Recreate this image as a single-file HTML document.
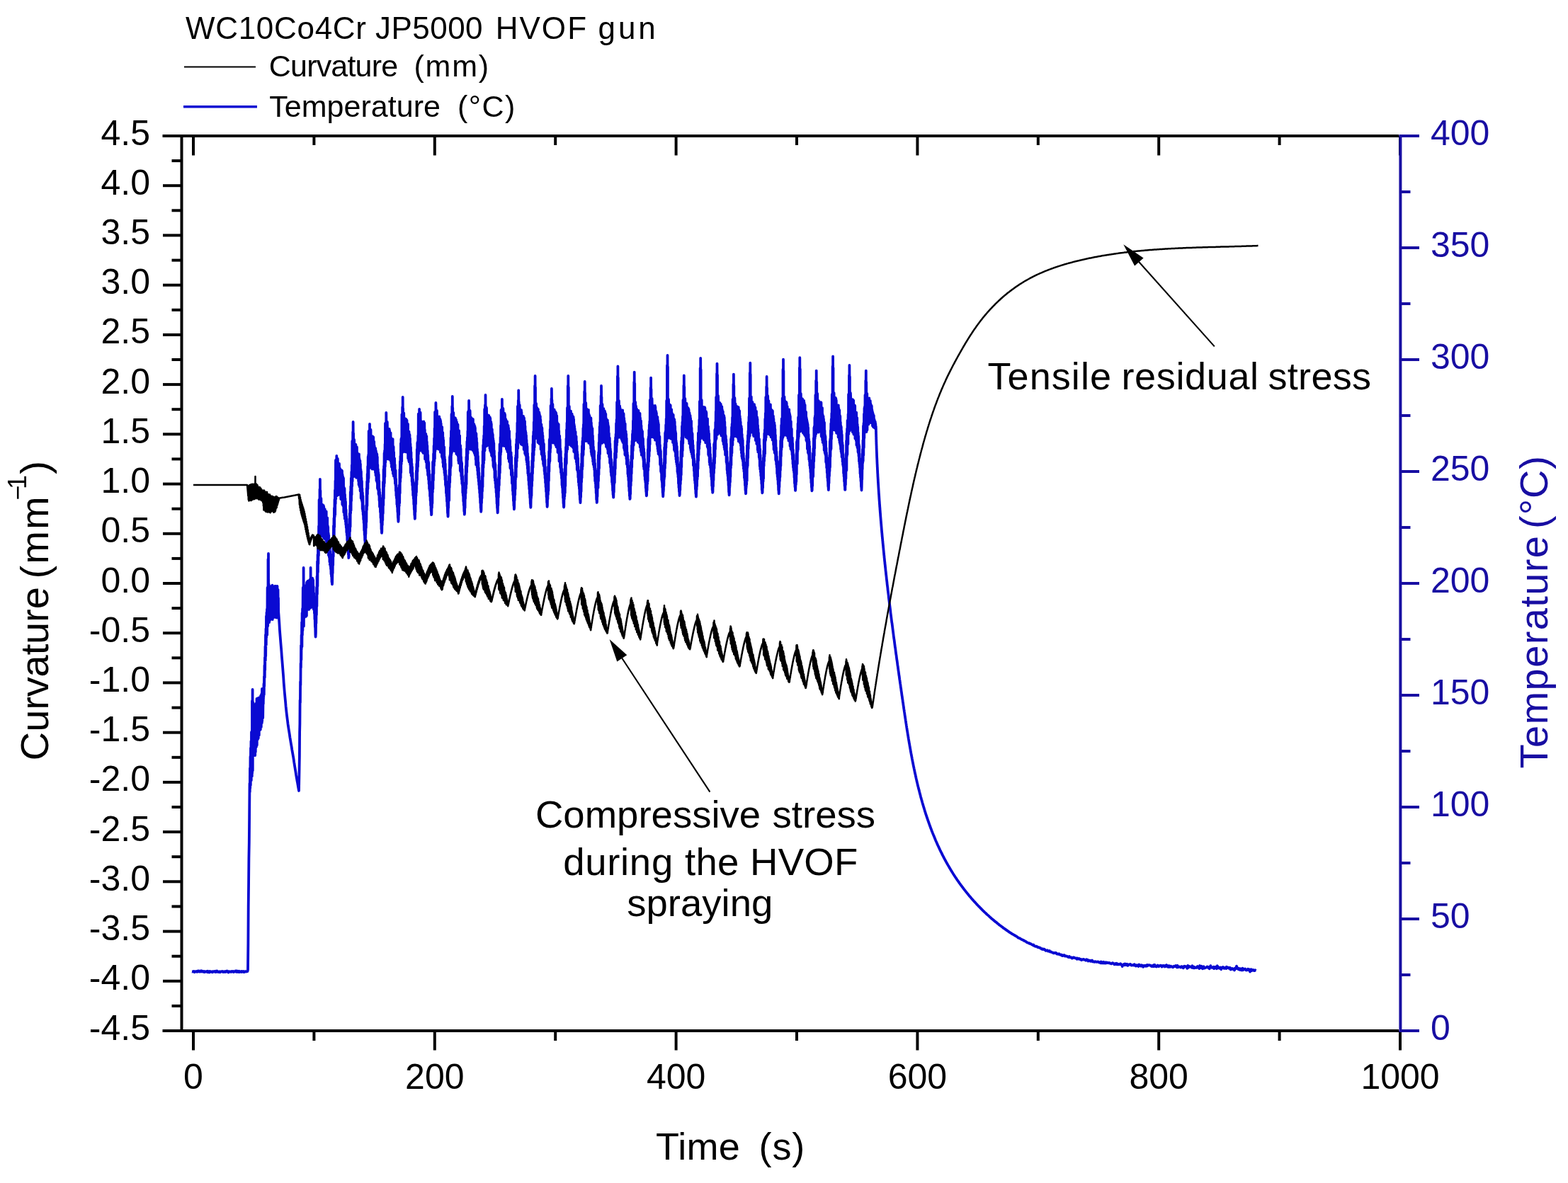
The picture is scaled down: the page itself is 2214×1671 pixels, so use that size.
<!DOCTYPE html>
<html><head><meta charset="utf-8"><title>WC10Co4Cr JP5000 HVOF gun</title>
<style>
html,body{margin:0;padding:0;background:#fff;}
body{width:2214px;height:1671px;overflow:hidden;}
svg{display:block;font-family:"Liberation Sans",Arial,sans-serif;}
</style></head><body>
<svg width="2214" height="1671" viewBox="0 0 2214 1671">
<rect width="2214" height="1671" fill="#fff"/>
<!-- data -->
<polyline fill="none" stroke="#0a0ad2" stroke-width="3.8" stroke-linejoin="round" points="271.0,1372.5 271.5,1372.6 272.0,1372.4 272.5,1372.1 273.0,1372.3 273.5,1372.0 274.0,1372.5 274.5,1373.2 275.0,1372.3 275.5,1372.2 276.0,1372.7 276.5,1372.7 277.0,1372.6 277.5,1372.0 278.0,1372.5 278.5,1372.8 279.0,1371.8 279.5,1372.3 280.0,1371.5 280.5,1371.9 281.0,1371.6 281.5,1372.4 282.0,1371.9 282.5,1372.6 283.0,1372.6 283.5,1372.4 284.0,1371.2 284.5,1372.2 285.0,1372.5 285.5,1372.6 286.0,1371.7 286.5,1372.3 287.0,1372.0 287.5,1372.1 288.0,1373.0 288.5,1372.1 289.0,1372.5 289.5,1372.9 290.0,1372.2 290.5,1372.4 291.0,1372.6 291.5,1372.5 292.0,1371.9 292.5,1372.5 293.0,1373.2 293.5,1371.7 294.0,1372.9 294.5,1372.6 295.0,1372.2 295.5,1373.5 296.0,1372.9 296.5,1371.9 297.0,1372.5 297.5,1372.8 298.0,1372.4 298.5,1372.8 299.0,1372.5 299.5,1372.8 300.0,1373.2 300.5,1372.2 301.0,1372.6 301.5,1372.3 302.0,1372.6 302.5,1371.9 303.0,1372.2 303.5,1372.4 304.0,1372.9 304.5,1373.1 305.0,1371.8 305.5,1372.1 306.0,1372.8 306.5,1371.5 307.0,1372.3 307.5,1372.5 308.0,1373.1 308.5,1372.8 309.0,1372.3 309.5,1372.3 310.0,1372.4 310.5,1373.3 311.0,1372.3 311.5,1372.3 312.0,1372.7 312.5,1372.4 313.0,1372.4 313.5,1371.9 314.0,1372.5 314.5,1372.3 315.0,1373.1 315.5,1372.8 316.0,1372.5 316.5,1372.8 317.0,1372.3 317.5,1373.0 318.0,1372.5 318.5,1372.8 319.0,1371.9 319.5,1372.7 320.0,1371.7 320.5,1371.5 321.0,1372.3 321.5,1372.1 322.0,1372.6 322.5,1373.6 323.0,1372.1 323.5,1372.2 324.0,1372.6 324.5,1372.7 325.0,1372.4 325.5,1372.4 326.0,1372.9 326.5,1372.8 327.0,1372.0 327.5,1372.5 328.0,1372.5 328.5,1372.0 329.0,1372.6 329.5,1372.1 330.0,1373.0 330.5,1372.6 331.0,1372.5 331.5,1372.2 332.0,1372.4 332.5,1371.5 333.0,1371.9 333.5,1372.7 334.0,1371.4 334.5,1372.9 335.0,1371.6 335.5,1372.9 336.0,1372.1 336.5,1372.9 337.0,1372.6 337.5,1371.7 338.0,1373.1 338.5,1373.2 339.0,1372.5 339.5,1372.4 340.0,1372.4 340.5,1372.0 341.0,1373.0 341.5,1372.2 342.0,1372.5 342.5,1372.1 343.0,1372.2 343.5,1371.9 344.0,1373.1 344.5,1372.4 345.0,1373.0 345.5,1372.5 346.0,1372.2 346.5,1372.3 347.0,1372.2 347.5,1372.5 348.0,1372.3 348.5,1372.4 349.0,1371.8 349.5,1372.1 350.0,1369.9 350.4,1332.6 350.7,1281.3 351.1,1246.7 351.4,1212.4 351.8,1190.2 352.1,1155.3 352.5,1106.5 352.8,1118.5 353.0,1085.0 353.2,1113.2 353.5,1068.7 353.8,1109.2 354.0,1056.5 354.2,1095.4 354.5,1046.8 354.8,1102.2 355.0,1034.0 355.2,1097.5 355.5,1039.6 355.8,1096.5 356.0,1021.5 356.0,990.0 356.2,1091.8 356.5,1020.1 356.6,974.0 356.8,1088.4 357.0,1022.8 357.2,992.0 357.2,1067.6 357.5,1017.3 357.8,1067.4 358.0,1006.9 358.2,1062.8 358.5,999.7 358.8,1057.7 359.0,998.5 359.2,1057.8 359.5,996.0 359.8,1052.9 360.0,1001.8 360.2,1067.0 360.5,996.9 360.8,1062.2 361.0,994.0 361.2,1056.3 361.5,1001.0 361.8,1053.2 362.0,1002.4 362.2,1054.4 362.5,986.8 362.8,1052.6 363.0,1000.1 363.2,1042.3 363.5,995.1 363.8,1036.6 364.0,989.7 364.2,1044.1 364.5,993.2 364.8,1042.4 365.0,985.7 365.2,1030.4 365.5,985.7 365.8,1038.6 366.0,992.5 366.2,1032.8 366.5,986.3 366.8,1031.5 367.0,992.4 367.2,1030.3 367.5,985.4 367.8,1030.4 368.0,982.9 368.2,1022.9 368.5,983.4 368.8,1027.1 369.0,981.1 369.2,1017.8 369.4,980.0 369.5,989.6 369.8,1021.2 370.0,987.0 370.0,973.0 370.2,1018.5 370.5,979.3 370.6,982.0 370.8,1015.0 371.0,985.4 371.2,1014.0 371.5,989.9 371.8,994.3 372.0,978.9 372.2,985.9 372.5,965.7 372.8,981.3 373.0,955.3 373.2,969.3 373.5,939.8 373.8,957.1 374.0,928.4 374.2,946.6 374.5,913.0 374.8,933.0 375.0,896.5 375.2,926.7 375.5,888.0 375.8,911.1 376.0,870.2 376.2,900.6 376.5,865.1 376.8,892.6 377.0,860.3 377.2,896.7 377.5,852.9 377.6,830.0 377.8,885.2 378.0,841.0 378.2,884.0 378.5,843.6 378.5,790.0 378.8,878.7 379.0,834.4 379.0,782.0 379.2,876.8 379.5,835.4 379.6,825.0 379.8,872.4 380.0,834.1 380.2,879.0 380.5,832.0 380.8,876.5 381.0,836.1 381.2,868.4 381.5,833.4 381.8,875.0 382.0,836.0 382.2,868.7 382.5,832.0 382.8,873.9 383.0,827.9 383.2,866.7 383.5,835.8 383.8,874.0 384.0,830.6 384.2,872.9 384.5,826.7 384.8,875.1 385.0,828.3 385.2,873.0 385.5,833.2 385.8,871.3 386.0,835.4 386.2,872.3 386.5,829.1 386.8,871.7 387.0,832.4 387.2,867.7 387.5,832.6 387.8,863.8 388.0,828.0 388.2,869.0 388.5,832.8 388.8,868.9 389.0,829.2 389.2,866.8 389.5,828.0 389.8,872.3 390.0,832.6 390.2,863.8 390.5,828.6 390.8,872.6 391.0,835.0 391.2,869.4 391.5,827.9 391.8,871.3 392.0,835.1 392.2,862.5 392.5,832.8 392.8,862.4 393.0,844.6 393.2,864.7 393.5,868.0 394.0,875.2 394.5,882.4 394.9,889.3 395.4,895.8 395.9,902.1 396.4,908.3 396.9,914.3 397.4,920.3 397.8,926.2 398.3,932.3 398.8,938.5 399.3,944.9 399.8,951.4 400.3,958.0 400.7,964.4 401.2,970.7 401.7,976.7 402.2,982.2 402.7,987.5 403.2,992.7 403.6,997.7 404.1,1002.5 404.6,1007.0 405.1,1011.3 405.6,1015.2 406.1,1019.0 406.5,1022.5 407.0,1025.9 407.5,1029.2 408.0,1032.3 408.5,1035.4 409.0,1038.4 409.4,1041.5 409.9,1044.5 410.4,1047.5 410.9,1050.5 411.4,1053.4 411.9,1056.2 412.3,1059.0 412.8,1061.8 413.3,1064.6 413.8,1067.5 414.3,1070.4 414.8,1073.4 415.2,1076.5 415.7,1079.6 416.2,1082.7 416.7,1085.8 417.2,1088.9 417.7,1091.9 418.1,1094.8 418.6,1097.7 419.1,1100.5 419.6,1103.3 420.1,1106.0 420.6,1108.8 421.0,1111.5 421.5,1114.2 422.0,1117.0 422.6,1085.5 422.9,1067.5 423.1,1035.0 423.4,1022.1 423.6,988.9 423.9,992.4 424.1,962.8 424.4,967.7 424.6,936.9 424.9,943.1 425.1,911.3 425.4,932.0 425.6,897.0 425.9,916.2 426.1,878.8 426.4,913.6 426.6,865.8 426.9,897.0 427.1,859.7 427.4,890.6 427.6,858.3 427.8,830.0 427.9,884.2 428.1,849.8 428.4,880.8 428.6,849.0 428.6,802.0 428.9,884.5 429.1,841.4 429.2,832.0 429.4,872.8 429.6,835.0 429.9,869.4 430.1,832.9 430.4,867.6 430.6,832.0 430.9,870.3 431.1,830.8 431.4,866.8 431.6,827.1 431.9,870.9 432.1,832.7 432.4,861.9 432.6,832.5 432.9,869.7 433.1,822.9 433.4,860.6 433.6,821.8 433.9,859.3 434.1,825.8 434.4,861.1 434.6,820.7 434.9,855.3 435.1,826.1 435.4,859.9 435.6,827.7 435.9,855.0 436.1,823.0 436.4,860.8 436.6,819.8 436.9,859.8 437.1,819.7 437.4,858.1 437.6,818.6 437.8,832.0 437.9,857.3 438.1,819.6 438.4,853.1 438.6,824.9 438.6,802.0 438.9,857.0 439.1,824.7 439.2,835.0 439.4,858.1 439.6,820.4 439.9,852.0 440.1,817.1 440.4,849.9 440.6,820.9 440.9,848.9 441.1,816.6 441.4,852.8 441.6,817.9 441.9,849.7 442.1,819.3 442.4,855.7 442.6,828.3 442.9,860.7 443.1,837.3 443.4,860.6 443.6,843.3 443.9,866.3 444.1,853.9 444.4,874.6 444.6,868.8 444.9,885.8 445.1,881.6 445.4,896.3 445.6,899.7 445.9,894.3 446.1,874.2 446.4,880.6 446.6,853.0 446.9,868.5 447.1,829.8 447.4,856.3 447.6,814.0 447.9,839.3 448.1,792.8 448.4,827.9 448.6,783.3 448.9,808.3 449.1,762.9 449.4,796.2 449.6,756.2 449.9,784.7 450.1,743.1 450.4,769.7 450.6,706.0 450.6,725.9 450.9,760.8 451.1,722.5 451.4,760.1 451.5,691.0 451.6,713.8 451.9,754.0 451.9,677.0 452.1,711.2 452.4,693.0 452.4,753.0 452.6,713.3 452.9,756.9 453.1,712.8 453.4,754.9 453.4,704.0 453.6,715.9 453.9,754.0 454.1,716.2 454.4,756.2 454.6,716.5 454.9,753.3 455.1,712.7 455.4,753.9 455.6,717.7 455.9,757.9 456.1,717.7 456.4,758.5 456.7,713.8 456.9,754.7 457.2,715.4 457.4,750.9 457.7,719.8 457.9,760.9 458.2,718.8 458.4,758.7 458.7,719.1 458.9,761.2 459.2,721.4 459.4,759.8 459.7,727.4 459.9,760.1 460.2,728.0 460.4,763.5 460.7,722.4 460.9,764.8 461.2,730.8 461.4,767.4 461.7,731.9 461.9,776.2 462.2,731.5 462.4,772.4 462.7,742.3 462.9,779.6 463.2,744.5 463.4,780.1 463.7,753.0 463.9,784.3 464.2,756.0 464.4,784.3 464.7,762.2 464.9,787.2 465.2,763.5 465.4,793.8 465.7,772.2 465.9,797.5 466.2,778.9 466.4,799.8 466.7,785.8 467.0,803.8 467.2,794.6 467.5,810.9 467.7,801.3 468.0,814.5 468.2,810.4 468.5,822.2 468.7,820.2 469.0,825.3 469.2,821.9 469.5,803.9 469.7,809.7 470.0,782.6 470.2,798.3 470.5,763.5 470.7,786.1 471.0,742.6 471.2,774.3 471.5,731.8 471.7,764.3 472.0,717.4 472.2,744.4 472.5,705.4 472.7,730.0 473.0,692.2 473.2,727.2 473.5,678.9 473.7,711.5 474.0,650.0 474.0,676.4 474.2,705.0 474.5,662.2 474.7,700.7 474.8,658.0 475.0,655.3 475.2,699.2 475.3,644.0 475.5,657.3 475.7,660.0 475.7,700.3 476.0,655.9 476.2,695.6 476.5,661.5 476.7,696.6 476.8,648.0 477.0,659.0 477.2,693.4 477.5,659.7 477.8,699.1 478.0,663.4 478.3,693.7 478.5,663.3 478.8,695.7 479.0,655.0 479.3,693.3 479.5,664.2 479.8,695.4 480.0,661.7 480.3,694.5 480.5,662.7 480.8,697.0 481.0,665.9 481.3,705.0 481.5,668.1 481.8,704.4 482.0,667.1 482.3,703.7 482.5,664.3 482.8,702.6 483.0,665.1 483.3,712.6 483.5,670.1 483.8,705.7 484.0,672.7 484.3,714.3 484.5,674.3 484.8,713.0 485.0,675.4 485.3,723.4 485.5,688.0 485.8,720.2 486.0,693.4 486.3,728.3 486.5,690.0 486.8,732.7 487.0,698.5 487.3,733.2 487.5,704.1 487.8,736.4 488.0,708.5 488.3,741.1 488.6,719.9 488.8,745.3 489.1,729.1 489.3,751.9 489.6,732.8 489.8,755.9 490.1,740.7 490.3,763.3 490.6,752.2 490.8,767.1 491.1,762.4 491.3,774.7 491.6,772.0 491.8,782.9 492.1,781.8 492.3,788.1 492.6,786.0 492.8,766.5 493.1,775.5 493.3,747.7 493.6,759.4 493.8,725.2 494.1,750.6 494.3,714.1 494.6,744.0 494.8,694.8 495.1,724.9 495.3,686.9 495.6,720.9 495.8,675.3 496.1,707.4 496.3,666.3 496.6,698.8 496.8,656.9 497.1,686.8 497.3,623.0 497.3,649.6 497.6,679.8 497.8,633.9 498.1,668.9 498.2,610.0 498.3,635.4 498.6,673.4 498.6,596.0 498.9,630.4 499.1,612.0 499.1,668.2 499.4,630.2 499.6,669.8 499.9,627.7 500.1,668.0 500.1,621.0 500.4,629.0 500.6,671.9 500.9,629.4 501.1,669.2 501.4,629.8 501.6,673.0 501.9,633.9 502.1,665.9 502.4,628.0 502.6,674.0 502.9,637.1 503.1,674.8 503.4,637.0 503.6,672.7 503.9,631.5 504.1,673.4 504.4,639.0 504.6,673.0 504.9,642.6 505.1,673.4 505.4,642.1 505.6,674.6 505.9,646.2 506.1,679.6 506.4,646.6 506.6,684.8 506.9,641.3 507.1,682.1 507.4,647.7 507.6,687.4 507.9,656.1 508.1,686.4 508.4,650.7 508.6,693.6 508.9,655.3 509.1,692.5 509.4,662.8 509.7,703.8 509.9,665.8 510.2,699.2 510.4,675.0 510.7,706.5 510.9,679.4 511.2,708.7 511.4,690.1 511.7,719.1 511.9,695.8 512.2,721.9 512.4,700.4 512.7,726.9 512.9,714.2 513.2,733.7 513.4,722.3 513.7,738.8 513.9,730.1 514.2,749.3 514.4,740.4 514.7,755.6 514.9,751.9 515.2,763.4 515.4,762.6 515.7,768.9 515.9,767.1 516.2,748.6 516.4,754.2 516.7,728.7 516.9,745.5 517.2,713.4 517.4,737.3 517.7,690.0 517.9,720.2 518.2,680.0 518.4,714.5 518.7,669.5 518.9,698.0 519.2,658.7 519.4,690.4 519.7,645.1 520.0,681.1 520.2,642.3 520.5,675.6 520.7,609.0 520.7,625.3 521.0,660.5 521.2,626.3 521.5,655.8 521.5,613.0 521.7,614.9 522.0,661.0 522.0,599.0 522.2,622.8 522.4,615.0 522.5,654.5 522.7,621.1 523.0,656.0 523.2,613.0 523.5,651.5 523.5,607.0 523.7,621.6 524.0,656.3 524.2,617.8 524.5,659.3 524.7,619.0 525.0,652.8 525.2,620.3 525.5,662.5 525.7,616.4 526.0,653.3 526.2,616.4 526.5,656.1 526.7,617.4 527.0,653.6 527.2,617.4 527.5,656.2 527.7,623.1 528.0,662.8 528.2,623.8 528.5,658.7 528.7,629.4 529.0,661.6 529.2,632.1 529.5,662.8 529.7,633.3 530.0,667.6 530.2,633.2 530.5,671.3 530.8,636.6 531.0,668.0 531.3,639.0 531.5,678.9 531.8,643.1 532.0,678.4 532.3,641.4 532.5,681.6 532.8,645.3 533.0,689.7 533.3,656.5 533.5,691.2 533.8,662.7 534.0,689.9 534.3,667.3 534.5,698.0 534.8,670.2 535.0,699.4 535.3,679.2 535.5,707.0 535.8,690.6 536.0,715.7 536.3,695.3 536.5,717.0 536.8,703.3 537.0,723.6 537.3,716.5 537.5,731.5 537.8,723.7 538.0,738.3 538.3,734.8 538.5,747.7 538.8,747.7 539.0,752.9 539.3,750.6 539.5,733.1 539.8,741.6 540.0,713.3 540.3,734.7 540.5,699.1 540.8,725.2 541.0,680.6 541.3,713.7 541.6,662.9 541.8,704.2 542.1,658.2 542.3,687.3 542.6,640.0 542.8,682.6 543.1,636.4 543.3,673.4 543.6,627.3 543.8,659.1 544.0,598.0 544.1,615.7 544.3,653.3 544.6,612.9 544.8,647.1 544.9,597.0 545.1,608.6 545.3,641.3 545.3,583.0 545.6,611.6 545.8,599.0 545.8,648.2 546.1,606.0 546.3,647.2 546.6,603.4 546.8,642.3 546.8,596.0 547.1,609.9 547.3,642.9 547.6,609.2 547.8,648.4 548.1,608.7 548.3,643.8 548.6,606.1 548.8,642.6 549.1,612.5 549.3,648.7 549.6,605.8 549.8,644.8 550.1,607.9 550.3,642.7 550.6,611.4 550.8,649.6 551.1,614.1 551.3,648.2 551.6,611.5 551.9,652.1 552.1,617.9 552.4,654.9 552.6,620.4 552.9,659.6 553.1,621.1 553.4,653.8 553.6,623.3 553.9,664.1 554.1,624.9 554.4,662.5 554.6,620.1 554.9,669.1 555.1,633.5 555.4,667.7 555.6,631.0 555.9,672.5 556.1,638.6 556.4,671.6 556.6,646.9 556.9,672.3 557.1,647.4 557.4,676.6 557.6,656.3 557.9,682.9 558.1,663.6 558.4,685.3 558.6,664.3 558.9,693.2 559.1,676.5 559.4,700.3 559.6,685.2 559.9,703.6 560.1,688.8 560.4,712.6 560.6,699.8 560.9,715.9 561.1,710.7 561.4,723.1 561.6,721.0 561.9,731.1 562.1,731.8 562.4,736.8 562.7,734.0 562.9,719.0 563.2,727.0 563.4,700.2 563.7,714.6 563.9,684.9 564.2,710.4 564.4,663.2 564.7,696.8 564.9,651.7 565.2,680.4 565.4,644.3 565.7,674.9 565.9,626.2 566.2,667.6 566.4,620.1 566.7,655.5 566.9,618.4 567.2,651.7 567.4,585.3 567.4,610.4 567.7,636.6 567.9,597.3 568.2,639.1 568.2,575.0 568.4,591.9 568.7,632.2 568.7,561.0 568.9,597.6 569.1,577.0 569.2,627.5 569.4,590.1 569.7,638.0 569.9,597.0 570.2,636.8 570.2,583.3 570.4,595.3 570.7,630.6 570.9,594.3 571.2,627.4 571.4,595.3 571.7,629.8 571.9,592.7 572.2,633.5 572.4,591.4 572.7,638.4 572.9,598.2 573.2,632.2 573.5,592.1 573.7,635.4 574.0,602.3 574.2,631.4 574.5,593.7 574.7,638.4 575.0,605.3 575.2,639.1 575.5,602.0 575.7,639.9 576.0,598.9 576.2,647.4 576.5,610.1 576.7,640.9 577.0,609.4 577.2,650.8 577.5,609.7 577.7,652.4 578.0,613.3 578.2,649.9 578.5,614.1 578.7,651.3 579.0,619.2 579.2,656.6 579.5,626.8 579.7,667.6 580.0,631.7 580.2,662.5 580.5,638.7 580.7,671.9 581.0,648.1 581.2,673.1 581.5,655.0 581.7,680.2 582.0,659.5 582.2,685.4 582.5,667.8 582.7,692.2 583.0,676.8 583.2,699.8 583.5,681.8 583.8,704.1 584.0,694.0 584.3,712.5 584.5,705.0 584.8,719.7 585.0,715.8 585.3,727.6 585.5,727.1 585.8,732.9 586.0,732.0 586.3,715.7 586.5,723.1 586.8,695.7 587.0,711.9 587.3,679.7 587.5,700.3 587.8,665.1 588.0,695.2 588.3,655.1 588.5,684.5 588.8,634.7 589.0,677.5 589.3,625.3 589.5,666.0 589.8,623.8 590.0,659.2 590.3,615.2 590.5,650.4 590.8,584.7 590.8,600.4 591.0,641.2 591.3,598.4 591.5,631.5 591.6,592.0 591.8,594.2 592.0,629.7 592.1,578.0 592.3,597.5 592.5,594.0 592.5,627.8 592.8,590.0 593.0,636.7 593.3,597.4 593.5,626.6 593.6,582.7 593.8,596.2 594.0,628.0 594.3,597.2 594.6,633.1 594.8,594.8 595.1,631.7 595.3,597.6 595.6,634.6 595.8,597.1 596.1,632.1 596.3,595.8 596.6,638.3 596.8,599.0 597.1,637.0 597.3,599.2 597.6,639.9 597.8,599.3 598.1,636.7 598.3,595.3 598.6,639.9 598.8,605.5 599.1,635.6 599.3,597.4 599.6,636.2 599.8,607.0 600.1,648.5 600.3,612.4 600.6,642.1 600.8,612.8 601.1,644.0 601.3,612.9 601.6,652.5 601.8,617.8 602.1,650.6 602.3,616.1 602.6,661.0 602.8,623.9 603.1,657.3 603.3,629.5 603.6,665.4 603.8,636.3 604.1,671.1 604.3,642.7 604.6,672.3 604.8,651.4 605.1,677.4 605.4,653.7 605.6,683.5 605.9,664.6 606.1,690.5 606.4,669.9 606.6,693.3 606.9,680.3 607.1,701.1 607.4,690.7 607.6,707.0 607.9,698.7 608.1,713.9 608.4,709.2 608.6,721.6 608.9,721.2 609.1,727.1 609.4,726.2 609.6,709.2 609.9,717.2 610.1,691.3 610.4,711.0 610.6,669.5 610.9,695.2 611.1,652.6 611.4,690.6 611.6,651.2 611.9,678.6 612.1,640.8 612.4,669.0 612.6,629.4 612.9,657.7 613.1,619.0 613.4,651.8 613.6,605.1 613.9,648.1 614.1,582.0 614.1,603.6 614.4,637.8 614.6,601.4 614.9,630.7 615.0,583.0 615.1,586.6 615.4,625.1 615.4,569.0 615.7,586.5 615.9,585.0 615.9,631.1 616.2,593.0 616.4,632.4 616.7,593.1 616.9,633.8 616.9,580.0 617.2,595.5 617.4,625.2 617.7,588.3 617.9,629.0 618.2,595.3 618.4,630.0 618.7,594.0 618.9,630.7 619.2,589.5 619.4,634.6 619.7,597.7 619.9,632.3 620.2,588.3 620.4,631.6 620.7,591.6 620.9,628.6 621.2,591.6 621.4,635.1 621.7,592.8 621.9,638.8 622.2,594.7 622.4,632.4 622.7,598.2 622.9,635.9 623.2,605.2 623.4,639.5 623.7,604.1 623.9,645.3 624.2,603.1 624.4,641.4 624.7,614.2 624.9,648.3 625.2,610.8 625.4,653.8 625.7,617.9 625.9,659.2 626.2,621.7 626.5,657.7 626.7,632.7 627.0,663.0 627.2,631.5 627.5,668.2 627.7,644.9 628.0,671.3 628.2,649.0 628.5,677.4 628.7,654.9 629.0,685.2 629.2,664.4 629.5,687.6 629.7,671.1 630.0,696.6 630.2,679.9 630.5,700.9 630.7,689.5 631.0,708.1 631.2,699.8 631.5,715.3 631.7,713.1 632.0,724.7 632.2,724.2 632.5,729.6 632.7,728.5 633.0,711.5 633.2,717.2 633.5,691.9 633.7,707.5 634.0,672.4 634.2,706.8 634.5,663.1 634.7,688.5 635.0,645.4 635.2,681.4 635.5,642.9 635.7,671.4 636.0,631.7 636.2,661.1 636.5,618.3 636.8,658.3 637.0,608.4 637.3,642.5 637.5,585.0 637.5,604.9 637.8,639.9 638.0,593.4 638.3,630.5 638.3,574.0 638.5,594.6 638.8,637.1 638.8,560.0 639.0,594.8 639.2,576.0 639.3,629.7 639.5,593.1 639.8,630.3 640.0,589.0 640.3,627.7 640.3,583.0 640.5,597.2 640.8,627.8 641.0,591.7 641.3,630.2 641.5,589.9 641.8,637.1 642.0,589.8 642.3,630.4 642.5,600.7 642.8,632.3 643.0,590.6 643.3,637.1 643.5,601.3 643.8,637.1 644.0,592.8 644.3,641.0 644.5,596.1 644.8,641.0 645.0,596.1 645.3,636.7 645.5,605.7 645.8,642.4 646.0,607.1 646.3,640.4 646.5,599.7 646.8,644.4 647.0,607.2 647.3,651.0 647.6,612.3 647.8,654.2 648.1,608.4 648.3,650.3 648.6,618.0 648.8,651.0 649.1,615.3 649.3,654.8 649.6,629.7 649.8,664.9 650.1,629.2 650.3,666.0 650.6,633.8 650.8,664.3 651.1,645.4 651.3,672.4 651.6,652.0 651.8,677.1 652.1,654.1 652.3,683.2 652.6,662.5 652.8,685.0 653.1,672.7 653.3,695.9 653.6,681.8 653.8,700.1 654.1,691.3 654.3,708.2 654.6,700.5 654.8,713.6 655.1,709.9 655.3,722.1 655.6,720.6 655.8,726.7 656.1,725.0 656.3,710.0 656.6,717.2 656.8,687.8 657.1,704.2 657.3,671.1 657.6,696.7 657.8,658.4 658.1,689.7 658.4,645.3 658.6,683.9 658.9,633.8 659.1,667.3 659.4,623.6 659.6,658.8 659.9,617.8 660.1,649.2 660.4,608.8 660.6,640.8 660.8,582.0 660.9,604.5 661.1,633.1 661.4,596.5 661.6,629.8 661.7,580.0 661.9,588.0 662.1,633.3 662.1,566.0 662.4,592.4 662.6,582.0 662.6,630.7 662.9,586.2 663.1,627.7 663.4,590.1 663.6,628.7 663.6,580.0 663.9,589.2 664.1,634.5 664.4,595.1 664.6,634.7 664.9,589.5 665.1,633.1 665.4,590.2 665.6,634.2 665.9,594.0 666.1,632.9 666.4,595.3 666.6,631.2 666.9,591.5 667.1,628.6 667.4,599.2 667.6,636.0 667.9,592.1 668.1,635.7 668.4,598.7 668.7,637.0 668.9,602.8 669.2,638.6 669.4,599.2 669.7,639.9 669.9,602.6 670.2,637.7 670.4,601.8 670.7,642.6 670.9,604.2 671.2,644.2 671.4,614.2 671.7,649.0 671.9,611.6 672.2,656.4 672.4,612.4 672.7,650.3 672.9,618.7 673.2,655.5 673.4,624.9 673.7,660.1 673.9,634.1 674.2,664.8 674.4,638.4 674.7,670.6 674.9,644.2 675.2,674.9 675.4,653.0 675.7,679.8 675.9,660.7 676.2,684.8 676.4,667.9 676.7,690.5 676.9,678.7 677.2,696.2 677.4,686.9 677.7,702.5 677.9,697.0 678.2,710.4 678.4,705.3 678.7,717.5 678.9,717.7 679.2,722.8 679.5,720.5 679.7,703.1 680.0,710.4 680.2,687.6 680.5,703.7 680.7,672.8 681.0,694.1 681.2,656.4 681.5,687.8 681.7,637.3 682.0,673.1 682.2,628.7 682.5,660.5 682.7,621.0 683.0,654.4 683.2,615.2 683.5,650.2 683.7,602.0 684.0,635.2 684.2,578.0 684.2,600.0 684.5,636.5 684.7,586.4 685.0,629.4 685.0,572.0 685.2,583.6 685.5,630.8 685.5,558.0 685.7,583.9 686.0,574.0 686.0,627.0 686.2,589.8 686.5,623.9 686.7,585.4 687.0,630.1 687.0,576.0 687.2,589.1 687.5,624.2 687.7,592.4 688.0,627.8 688.2,588.0 688.5,629.1 688.7,590.7 689.0,627.9 689.2,586.3 689.5,626.2 689.7,592.2 690.0,626.2 690.3,586.9 690.5,624.6 690.8,595.0 691.0,628.6 691.3,594.6 691.5,633.4 691.8,589.5 692.0,636.4 692.3,590.9 692.5,634.8 692.8,599.8 693.0,638.5 693.3,596.0 693.5,639.9 693.8,598.7 694.0,643.2 694.3,605.7 694.5,644.2 694.8,606.3 695.0,643.7 695.3,611.7 695.5,645.2 695.8,613.7 696.0,650.7 696.3,619.5 696.5,658.6 696.8,622.5 697.0,660.3 697.3,625.9 697.5,660.2 697.8,636.5 698.0,663.8 698.3,644.1 698.5,675.1 698.8,653.5 699.0,678.9 699.3,656.0 699.5,683.0 699.8,664.9 700.0,689.0 700.3,676.3 700.6,695.7 700.8,686.6 701.1,702.0 701.3,696.3 701.6,711.5 701.8,706.9 702.1,717.8 702.3,717.4 702.6,724.3 702.8,723.3 703.1,704.3 703.3,713.9 703.6,688.1 703.8,702.5 704.1,674.0 704.3,692.9 704.6,656.6 704.8,685.5 705.1,638.9 705.3,676.0 705.6,627.5 705.8,667.9 706.1,626.8 706.3,656.7 706.6,617.6 706.8,642.6 707.1,600.8 707.3,638.5 707.6,579.0 707.6,602.1 707.8,629.5 708.1,591.2 708.3,628.7 708.4,578.0 708.6,594.2 708.8,628.8 708.9,564.0 709.1,590.4 709.3,580.0 709.3,629.5 709.6,587.8 709.8,626.7 710.1,588.2 710.3,628.3 710.4,577.0 710.6,582.4 710.8,629.7 711.1,592.9 711.4,626.5 711.6,591.3 711.9,622.3 712.1,592.0 712.4,624.3 712.6,584.0 712.9,630.2 713.1,585.8 713.4,630.3 713.6,592.5 713.9,627.7 714.1,592.0 714.4,627.5 714.6,593.3 714.9,633.9 715.1,598.4 715.4,629.7 715.6,595.4 715.9,635.7 716.1,595.3 716.4,638.0 716.6,603.2 716.9,634.1 717.1,603.3 717.4,637.5 717.6,600.9 717.9,647.8 718.1,604.6 718.4,640.3 718.6,611.9 718.9,651.9 719.1,608.8 719.4,652.6 719.6,619.8 719.9,653.1 720.1,622.3 720.4,661.2 720.6,630.6 720.9,658.9 721.1,639.4 721.4,662.8 721.6,639.1 721.9,671.1 722.2,645.3 722.4,672.3 722.7,657.0 722.9,682.4 723.2,663.1 723.4,684.2 723.7,673.2 723.9,693.2 724.2,681.3 724.4,698.9 724.7,692.8 724.9,707.4 725.2,702.4 725.4,714.2 725.7,713.2 725.9,719.3 726.2,716.7 726.4,702.1 726.7,706.7 726.9,684.5 727.2,699.1 727.4,667.1 727.7,690.6 727.9,646.6 728.2,676.3 728.4,642.9 728.7,674.0 728.9,627.5 729.2,659.8 729.4,620.5 729.7,651.6 729.9,611.9 730.2,646.6 730.4,597.1 730.7,633.3 730.9,574.0 730.9,598.9 731.2,633.3 731.4,590.1 731.7,625.9 731.8,565.5 731.9,579.7 732.2,624.7 732.2,551.5 732.5,578.6 732.7,567.5 732.7,621.2 733.0,578.8 733.2,620.9 733.5,585.4 733.7,621.1 733.7,572.0 734.0,584.7 734.2,624.4 734.5,579.4 734.7,617.6 735.0,587.1 735.2,620.5 735.5,584.1 735.7,627.2 736.0,579.2 736.2,627.7 736.5,582.2 736.7,625.1 737.0,588.0 737.2,622.5 737.5,591.9 737.7,628.5 738.0,590.0 738.2,621.4 738.5,590.9 738.7,625.4 739.0,587.9 739.2,623.5 739.5,595.1 739.7,635.1 740.0,590.3 740.2,634.3 740.5,595.9 740.7,632.2 741.0,595.0 741.2,640.8 741.5,601.9 741.7,637.3 742.0,608.4 742.2,643.0 742.5,610.8 742.7,642.8 743.0,614.9 743.3,649.9 743.5,621.4 743.8,652.7 744.0,626.7 744.3,656.5 744.5,630.4 744.8,661.8 745.0,640.3 745.3,668.7 745.5,645.1 745.8,671.4 746.0,651.4 746.3,678.8 746.5,658.8 746.8,685.1 747.0,668.8 747.3,690.6 747.5,680.6 747.8,697.1 748.0,690.0 748.3,703.1 748.5,700.7 748.8,711.4 749.0,711.8 749.3,716.8 749.5,715.8 749.8,697.6 750.0,704.4 750.3,679.8 750.5,700.3 750.8,667.6 751.0,686.8 751.3,650.5 751.5,679.1 751.8,640.1 752.0,669.0 752.3,627.5 752.5,660.2 752.8,615.6 753.0,651.2 753.3,609.6 753.6,643.0 753.8,596.1 754.1,635.7 754.3,572.0 754.3,596.5 754.6,631.9 754.8,585.0 755.1,619.6 755.1,545.0 755.3,582.5 755.6,619.6 755.6,531.0 755.8,580.4 756.0,547.0 756.1,616.5 756.3,583.3 756.6,617.8 756.8,577.6 757.1,618.6 757.1,570.0 757.3,586.0 757.6,618.9 757.8,584.4 758.1,614.1 758.3,576.0 758.6,617.5 758.8,581.3 759.1,618.5 759.3,587.1 759.6,625.0 759.8,577.9 760.1,617.7 760.3,584.4 760.6,620.6 760.8,588.1 761.1,624.7 761.3,582.5 761.6,626.9 761.8,585.0 762.1,620.1 762.3,591.4 762.6,627.2 762.8,588.0 763.1,627.6 763.3,592.9 763.6,634.7 763.8,599.8 764.1,630.8 764.4,599.5 764.6,641.4 764.9,603.2 765.1,634.2 765.4,604.4 765.6,644.1 765.9,610.9 766.1,649.1 766.4,615.3 766.6,650.6 766.9,620.9 767.1,655.6 767.4,626.2 767.6,657.9 767.9,627.0 768.1,658.3 768.4,639.6 768.6,665.6 768.9,643.6 769.1,670.0 769.4,649.5 769.6,675.6 769.9,659.4 770.1,682.0 770.4,668.5 770.6,687.9 770.9,679.3 771.1,694.4 771.4,688.8 771.6,701.9 771.9,698.1 772.1,709.8 772.4,710.5 772.6,715.9 772.9,714.0 773.1,698.7 773.4,705.0 773.6,680.1 773.9,698.6 774.1,659.0 774.4,693.3 774.6,648.6 774.9,679.0 775.2,637.5 775.4,665.9 775.7,621.2 775.9,654.1 776.2,619.6 776.4,651.4 776.7,606.4 776.9,638.9 777.2,594.6 777.4,633.0 777.6,573.0 777.7,591.4 777.9,623.3 778.2,582.4 778.4,618.6 778.5,563.0 778.7,583.9 778.9,624.7 778.9,549.0 779.2,576.6 779.4,565.0 779.4,624.9 779.7,578.0 779.9,617.3 780.2,587.0 780.4,619.8 780.4,571.0 780.7,586.8 780.9,625.6 781.2,587.5 781.4,618.6 781.7,585.6 781.9,615.4 782.2,582.7 782.4,616.4 782.7,578.7 782.9,623.7 783.2,585.2 783.4,626.0 783.7,581.2 783.9,621.0 784.2,581.6 784.4,628.6 784.7,585.3 784.9,623.4 785.2,583.5 785.5,631.3 785.7,591.1 786.0,623.5 786.2,587.2 786.5,631.6 786.7,596.2 787.0,632.7 787.2,597.7 787.5,638.9 787.7,600.0 788.0,633.8 788.2,606.2 788.5,638.4 788.7,599.2 789.0,640.4 789.2,608.6 789.5,651.5 789.7,618.2 790.0,647.6 790.2,615.6 790.5,649.4 790.7,620.7 791.0,659.8 791.2,633.7 791.5,662.0 791.7,637.1 792.0,667.4 792.2,646.0 792.5,670.4 792.7,653.9 793.0,675.6 793.2,662.2 793.5,685.2 793.7,667.4 794.0,688.7 794.2,678.1 794.5,696.1 794.7,689.7 795.0,703.1 795.2,698.7 795.5,711.2 795.7,711.0 796.0,716.5 796.3,715.1 796.5,697.9 796.8,705.1 797.0,680.2 797.3,701.2 797.5,661.9 797.8,696.3 798.0,647.5 798.3,686.6 798.5,641.1 798.8,671.2 799.0,631.5 799.3,656.6 799.5,619.4 799.8,654.5 800.0,606.9 800.3,638.6 800.5,597.2 800.8,634.0 801.0,576.0 801.0,597.6 801.3,634.4 801.5,585.3 801.8,628.7 801.8,545.0 802.0,587.6 802.3,623.0 802.3,531.0 802.5,580.9 802.8,547.0 802.8,621.7 803.0,581.3 803.3,626.5 803.5,585.1 803.8,627.8 803.8,574.0 804.0,586.2 804.3,626.2 804.5,583.5 804.8,621.6 805.0,584.9 805.3,624.9 805.5,585.2 805.8,619.7 806.0,580.6 806.3,629.6 806.5,591.7 806.8,629.9 807.1,587.0 807.3,621.6 807.6,584.6 807.8,625.8 808.1,586.8 808.3,631.2 808.6,590.0 808.8,623.9 809.1,588.3 809.3,632.4 809.6,589.0 809.8,629.5 810.1,592.2 810.3,638.0 810.6,599.1 810.8,635.1 811.1,601.7 811.3,633.2 811.6,605.5 811.8,639.5 812.1,609.8 812.3,647.3 812.6,609.8 812.8,647.9 813.1,615.9 813.3,648.6 813.6,616.4 813.8,652.7 814.1,623.4 814.3,655.8 814.6,629.6 814.8,663.4 815.1,638.0 815.3,664.6 815.6,641.6 815.8,666.4 816.1,647.1 816.3,674.3 816.6,659.0 816.8,681.2 817.1,664.2 817.4,686.0 817.6,673.0 817.9,690.1 818.1,684.0 818.4,698.8 818.6,693.1 818.9,705.6 819.1,704.4 819.4,710.1 819.6,708.8 819.9,692.0 820.1,702.2 820.4,673.1 820.6,694.3 820.9,654.8 821.1,680.9 821.4,640.7 821.6,675.0 821.9,630.0 822.1,662.9 822.4,622.9 822.6,659.0 822.9,618.2 823.1,644.3 823.4,604.7 823.6,642.5 823.9,599.4 824.1,635.1 824.4,571.0 824.4,592.9 824.6,623.4 824.9,584.0 825.1,622.7 825.2,553.0 825.4,576.4 825.6,622.7 825.7,539.0 825.9,582.5 826.1,555.0 826.1,621.1 826.4,578.2 826.6,617.0 826.9,576.7 827.1,622.8 827.2,569.0 827.4,580.1 827.6,623.0 827.9,584.2 828.2,614.8 828.4,577.4 828.7,616.6 828.9,579.7 829.2,619.0 829.4,585.0 829.7,622.3 829.9,579.0 830.2,616.2 830.4,585.1 830.7,624.1 830.9,578.8 831.2,625.8 831.4,584.4 831.7,621.4 831.9,586.3 832.2,620.6 832.4,587.2 832.7,622.7 832.9,592.6 833.2,626.1 833.4,595.6 833.7,629.1 833.9,590.9 834.2,633.4 834.4,590.4 834.7,638.5 834.9,596.9 835.2,641.5 835.4,602.1 835.7,643.7 835.9,607.4 836.2,643.7 836.4,605.1 836.7,647.3 836.9,615.2 837.2,652.2 837.4,622.5 837.7,656.0 837.9,630.9 838.2,655.2 838.4,635.8 838.7,660.0 839.0,637.2 839.2,663.5 839.5,648.9 839.7,672.5 840.0,654.3 840.2,679.4 840.5,664.6 840.7,682.6 841.0,671.9 841.2,689.0 841.5,684.4 841.7,696.6 842.0,693.4 842.2,705.7 842.5,704.0 842.7,709.9 843.0,708.8 843.2,691.8 843.5,701.2 843.7,676.5 844.0,690.0 844.2,661.8 844.5,688.9 844.7,643.0 845.0,679.6 845.2,638.8 845.5,670.6 845.7,625.1 846.0,661.4 846.2,613.5 846.5,648.6 846.7,602.6 847.0,641.6 847.2,596.6 847.5,629.5 847.7,573.0 847.7,590.8 848.0,625.8 848.2,591.3 848.5,618.8 848.6,559.0 848.7,582.9 849.0,617.7 849.0,545.0 849.3,578.7 849.5,561.0 849.5,616.1 849.8,587.1 850.0,625.9 850.3,583.9 850.5,620.4 850.5,571.0 850.8,585.1 851.0,617.1 851.3,583.1 851.5,623.7 851.8,587.4 852.0,624.5 852.3,577.1 852.5,621.7 852.8,584.6 853.0,618.5 853.3,587.1 853.5,620.0 853.8,580.3 854.0,617.1 854.3,581.9 854.5,625.3 854.8,591.3 855.0,619.7 855.3,584.6 855.5,627.5 855.8,590.6 856.0,631.0 856.3,593.3 856.5,627.9 856.8,596.2 857.0,632.1 857.3,598.5 857.5,629.1 857.8,593.5 858.0,635.0 858.3,597.2 858.5,640.2 858.8,600.7 859.0,637.4 859.3,603.0 859.5,639.3 859.8,612.0 860.1,645.3 860.3,618.3 860.6,645.1 860.8,618.6 861.1,654.1 861.3,626.6 861.6,654.8 861.8,633.8 862.1,659.9 862.3,637.5 862.6,667.0 862.8,647.8 863.1,671.5 863.3,649.4 863.6,673.5 863.8,659.1 864.1,681.1 864.3,668.2 864.6,684.8 864.8,677.5 865.1,692.9 865.3,688.4 865.6,698.7 865.8,698.3 866.1,702.6 866.3,702.5 866.6,687.3 866.8,695.2 867.1,667.8 867.3,683.8 867.6,652.6 867.8,681.7 868.1,640.1 868.3,670.4 868.6,622.7 868.8,661.9 869.1,618.0 869.3,646.4 869.6,613.1 869.8,646.4 870.1,598.0 870.4,638.6 870.6,592.4 870.9,628.9 871.1,568.0 871.1,586.4 871.4,624.9 871.6,583.3 871.9,617.8 871.9,531.5 872.1,578.0 872.4,617.2 872.4,517.5 872.6,579.8 872.8,533.5 872.9,610.0 873.1,581.3 873.4,611.7 873.6,572.8 873.9,617.8 873.9,566.0 874.1,574.1 874.4,614.8 874.6,581.5 874.9,615.1 875.1,573.3 875.4,615.8 875.6,576.2 875.9,614.7 876.1,582.0 876.4,617.9 876.6,578.8 876.9,615.4 877.1,582.0 877.4,619.9 877.6,582.3 877.9,619.5 878.1,583.9 878.4,622.5 878.6,583.9 878.9,620.8 879.1,579.3 879.4,624.9 879.6,583.1 879.9,622.5 880.1,583.9 880.4,625.0 880.6,584.5 880.9,632.8 881.2,590.6 881.4,634.6 881.7,594.6 881.9,636.4 882.2,602.2 882.4,642.3 882.7,598.4 882.9,636.2 883.2,609.1 883.4,643.5 883.7,609.2 883.9,642.7 884.2,613.1 884.4,648.2 884.7,619.1 884.9,655.4 885.2,629.6 885.4,656.8 885.7,639.1 885.9,659.9 886.2,642.8 886.4,669.6 886.7,649.0 886.9,673.0 887.2,657.6 887.4,678.6 887.7,667.1 887.9,687.3 888.2,679.6 888.4,693.7 888.7,688.2 888.9,700.5 889.2,698.9 889.4,704.9 889.7,703.9 889.9,688.2 890.2,697.7 890.4,668.5 890.7,686.1 890.9,652.5 891.2,679.6 891.4,643.8 891.7,669.1 892.0,629.1 892.2,660.0 892.5,622.9 892.7,648.7 893.0,612.9 893.2,647.6 893.5,607.9 893.7,636.7 894.0,594.1 894.2,625.1 894.4,570.0 894.5,591.0 894.7,628.8 895.0,577.9 895.2,623.8 895.3,539.6 895.5,583.4 895.7,620.4 895.7,525.6 896.0,579.2 896.2,541.6 896.2,613.6 896.5,578.9 896.7,622.1 897.0,574.5 897.2,616.1 897.2,568.0 897.5,583.7 897.7,621.9 898.0,573.6 898.2,617.6 898.5,582.3 898.7,618.2 899.0,577.4 899.2,617.8 899.5,581.6 899.7,615.6 900.0,582.8 900.2,614.0 900.5,583.9 900.7,624.6 901.0,587.5 901.2,622.9 901.5,579.9 901.7,620.4 902.0,583.2 902.3,619.6 902.5,583.7 902.8,626.3 903.0,584.6 903.3,625.6 903.5,583.8 903.8,631.5 904.0,590.2 904.3,631.6 904.5,595.8 904.8,636.8 905.0,594.4 905.3,638.9 905.5,601.1 905.8,642.8 906.0,606.4 906.3,640.6 906.5,610.6 906.8,639.8 907.0,609.1 907.3,641.8 907.5,617.9 907.8,646.4 908.0,619.7 908.3,649.4 908.5,629.8 908.8,659.3 909.0,633.7 909.3,662.5 909.5,638.8 909.8,663.2 910.0,648.2 910.3,672.6 910.5,656.0 910.8,677.7 911.0,667.5 911.3,681.1 911.5,674.1 911.8,689.2 912.0,685.1 912.3,694.8 912.5,694.6 912.8,700.3 913.1,699.4 913.3,683.3 913.6,692.5 913.8,668.5 914.1,683.6 914.3,653.4 914.6,679.7 914.8,634.7 915.1,664.5 915.3,619.9 915.6,659.4 915.8,616.9 916.1,652.0 916.3,607.3 916.6,644.4 916.8,599.9 917.1,637.2 917.3,595.1 917.6,627.7 917.8,565.0 917.8,586.1 918.1,618.5 918.3,576.9 918.6,609.8 918.6,547.7 918.8,577.7 919.1,607.9 919.1,533.7 919.3,570.9 919.5,549.7 919.6,609.2 919.8,573.7 920.1,610.4 920.3,576.7 920.6,617.2 920.6,563.0 920.8,573.8 921.1,614.1 921.3,571.8 921.6,616.1 921.8,576.9 922.1,608.1 922.3,575.0 922.6,609.4 922.8,580.4 923.1,618.1 923.3,574.2 923.6,613.1 923.9,580.4 924.1,617.6 924.4,576.9 924.6,612.1 924.9,573.0 925.1,621.7 925.4,574.8 925.6,621.5 925.9,580.6 926.1,617.3 926.4,581.0 926.6,617.4 926.9,583.3 927.1,618.4 927.4,592.0 927.6,627.7 927.9,590.9 928.1,630.0 928.4,588.9 928.6,634.3 928.9,593.7 929.1,637.6 929.4,596.7 929.6,641.2 929.9,599.2 930.1,635.0 930.4,610.6 930.6,641.6 930.9,616.1 931.1,643.4 931.4,616.7 931.6,646.3 931.9,628.5 932.1,656.3 932.4,634.8 932.6,657.6 932.9,637.1 933.1,666.0 933.4,648.0 933.6,668.1 933.9,657.2 934.2,678.0 934.4,664.0 934.7,680.6 934.9,674.1 935.2,688.5 935.4,684.3 935.7,695.8 935.9,695.9 936.2,701.4 936.4,699.4 936.7,682.4 936.9,693.9 937.2,665.9 937.4,686.5 937.7,653.5 937.9,676.4 938.2,632.0 938.4,673.6 938.7,626.5 938.9,661.4 939.2,611.3 939.4,654.6 939.7,609.2 939.9,642.3 940.2,599.9 940.4,632.5 940.7,591.6 940.9,623.6 941.2,566.0 941.2,590.1 941.4,623.3 941.7,577.2 941.9,619.7 942.0,516.0 942.2,579.5 942.4,610.4 942.5,502.0 942.7,573.6 942.9,518.0 942.9,618.2 943.2,575.0 943.4,610.0 943.7,573.7 943.9,618.5 944.0,564.0 944.2,570.8 944.4,617.8 944.7,576.0 945.0,610.9 945.2,571.2 945.5,616.9 945.7,571.7 946.0,612.8 946.2,578.4 946.5,611.6 946.7,572.5 947.0,619.6 947.2,578.8 947.5,619.8 947.7,579.5 948.0,616.0 948.2,578.5 948.5,614.6 948.7,583.0 949.0,616.3 949.2,584.5 949.5,620.5 949.7,587.8 950.0,625.1 950.2,588.9 950.5,623.3 950.7,585.9 951.0,622.2 951.2,590.9 951.5,629.3 951.7,592.0 952.0,635.6 952.2,592.5 952.5,630.3 952.7,595.4 953.0,637.8 953.2,601.9 953.5,636.6 953.7,609.0 954.0,644.8 954.2,611.6 954.5,649.0 954.7,622.4 955.0,652.9 955.2,625.7 955.5,655.7 955.8,630.5 956.0,658.5 956.3,637.4 956.5,666.6 956.8,645.8 957.0,669.2 957.3,655.6 957.5,674.0 957.8,663.7 958.0,683.0 958.3,675.2 958.5,688.8 958.8,683.6 959.0,694.5 959.3,694.0 959.5,700.0 959.8,698.4 960.0,684.4 960.3,692.3 960.5,667.0 960.8,683.7 961.0,652.5 961.3,677.9 961.5,636.5 961.8,670.7 962.0,623.1 962.3,659.8 962.5,617.8 962.8,643.3 963.0,601.8 963.3,644.4 963.5,596.1 963.8,636.5 964.0,587.9 964.3,626.2 964.5,565.0 964.5,584.6 964.8,617.7 965.0,578.5 965.3,611.8 965.4,544.5 965.5,575.5 965.8,612.5 965.8,530.5 966.1,578.9 966.3,546.5 966.3,611.1 966.6,576.1 966.8,613.8 967.1,570.3 967.3,613.6 967.3,563.0 967.6,572.0 967.8,613.7 968.1,576.8 968.3,611.2 968.6,570.5 968.8,617.7 969.1,578.2 969.3,607.6 969.6,570.0 969.8,617.5 970.1,574.5 970.3,617.6 970.6,575.3 970.8,619.2 971.1,580.1 971.3,615.1 971.6,576.4 971.8,613.6 972.1,577.2 972.3,615.4 972.6,578.7 972.8,622.8 973.1,583.5 973.3,626.6 973.6,583.2 973.8,626.0 974.1,592.1 974.3,621.3 974.6,587.0 974.8,632.8 975.1,590.7 975.3,635.4 975.6,599.9 975.8,638.3 976.1,594.6 976.3,638.3 976.6,604.2 976.9,641.7 977.1,611.1 977.4,644.5 977.6,612.5 977.9,646.8 978.1,622.1 978.4,646.5 978.6,628.8 978.9,657.3 979.1,635.3 979.4,656.9 979.6,642.2 979.9,665.1 980.1,647.8 980.4,672.7 980.6,655.0 980.9,678.6 981.1,664.3 981.4,682.7 981.6,676.6 981.9,690.9 982.1,686.3 982.4,697.3 982.6,696.7 982.9,701.7 983.1,700.2 983.4,685.0 983.6,691.6 983.9,665.8 984.1,686.5 984.4,650.7 984.6,676.9 984.9,640.9 985.1,673.2 985.4,624.0 985.6,661.9 985.9,611.6 986.1,650.8 986.4,611.5 986.6,642.8 986.9,602.0 987.2,634.0 987.4,592.7 987.7,627.8 987.9,567.0 987.9,581.1 988.2,624.8 988.4,581.4 988.7,620.4 988.7,520.0 988.9,572.6 989.2,617.5 989.2,506.0 989.4,575.1 989.6,522.0 989.7,618.8 989.9,575.8 990.2,609.9 990.4,578.3 990.7,616.1 990.7,565.0 990.9,577.2 991.2,613.5 991.4,577.1 991.7,611.1 991.9,580.8 992.2,609.7 992.4,574.7 992.7,613.0 992.9,577.5 993.2,620.2 993.4,576.1 993.7,619.3 993.9,575.3 994.2,621.6 994.4,583.8 994.7,616.1 994.9,575.1 995.2,618.0 995.4,576.2 995.7,616.1 995.9,587.3 996.2,625.3 996.4,585.1 996.7,622.7 996.9,581.1 997.2,621.3 997.4,582.8 997.7,625.4 998.0,593.0 998.2,626.0 998.5,592.6 998.7,631.1 999.0,591.5 999.2,629.6 999.5,603.8 999.7,633.4 1000.0,602.4 1000.2,642.3 1000.5,608.5 1000.7,643.5 1001.0,612.3 1001.2,641.6 1001.5,621.3 1001.7,653.2 1002.0,626.4 1002.2,656.5 1002.5,631.6 1002.7,655.8 1003.0,641.5 1003.2,660.8 1003.5,646.6 1003.7,667.4 1004.0,653.8 1004.2,673.2 1004.5,662.2 1004.7,677.1 1005.0,671.9 1005.2,686.3 1005.5,681.7 1005.7,692.2 1006.0,690.8 1006.2,695.8 1006.5,694.5 1006.7,679.2 1007.0,687.1 1007.2,659.5 1007.5,678.3 1007.7,649.5 1008.0,668.2 1008.2,627.2 1008.5,661.4 1008.8,625.0 1009.0,654.4 1009.3,607.3 1009.5,645.2 1009.8,605.8 1010.0,634.5 1010.3,596.2 1010.5,622.5 1010.8,581.1 1011.0,620.6 1011.2,561.0 1011.3,583.8 1011.5,619.6 1011.8,569.0 1012.0,614.4 1012.1,527.6 1012.3,573.4 1012.5,604.9 1012.5,513.6 1012.8,569.4 1013.0,529.6 1013.0,609.3 1013.3,565.4 1013.5,613.6 1013.8,565.2 1014.0,606.6 1014.0,559.0 1014.3,568.9 1014.5,604.2 1014.8,569.8 1015.0,603.8 1015.3,574.6 1015.5,604.5 1015.8,572.8 1016.0,607.0 1016.3,568.8 1016.5,604.8 1016.8,576.0 1017.0,611.8 1017.3,570.5 1017.5,613.1 1017.8,570.9 1018.0,613.5 1018.3,573.8 1018.5,615.4 1018.8,580.2 1019.1,610.9 1019.3,574.4 1019.6,612.2 1019.8,578.4 1020.1,614.7 1020.3,581.5 1020.6,623.0 1020.8,581.2 1021.1,621.0 1021.3,587.9 1021.6,627.5 1021.8,586.5 1022.1,626.4 1022.3,587.3 1022.6,632.3 1022.8,589.7 1023.1,634.9 1023.3,595.7 1023.6,636.5 1023.8,602.9 1024.1,642.4 1024.3,614.2 1024.6,642.6 1024.8,615.7 1025.1,643.4 1025.3,620.8 1025.6,652.9 1025.8,626.8 1026.1,655.3 1026.3,637.3 1026.6,664.0 1026.8,645.4 1027.1,669.1 1027.3,653.8 1027.6,672.5 1027.8,663.5 1028.1,678.6 1028.3,672.5 1028.6,685.6 1028.8,681.8 1029.1,694.9 1029.3,693.9 1029.6,699.4 1029.9,696.8 1030.1,680.2 1030.4,687.9 1030.6,663.9 1030.9,681.1 1031.1,651.5 1031.4,673.3 1031.6,632.3 1031.9,661.1 1032.1,619.9 1032.4,657.1 1032.6,617.0 1032.9,643.9 1033.1,603.3 1033.4,640.0 1033.6,598.7 1033.9,629.0 1034.1,589.6 1034.4,628.6 1034.6,564.0 1034.6,582.3 1034.9,622.1 1035.1,575.9 1035.4,614.6 1035.4,542.7 1035.6,573.8 1035.9,613.4 1035.9,528.7 1036.1,572.7 1036.3,544.7 1036.4,613.9 1036.6,576.3 1036.9,609.3 1037.1,568.6 1037.4,610.2 1037.4,562.0 1037.6,569.0 1037.9,616.3 1038.1,572.2 1038.4,607.1 1038.6,570.4 1038.9,613.6 1039.1,575.9 1039.4,616.1 1039.6,574.2 1039.9,607.5 1040.1,579.4 1040.4,610.0 1040.7,574.1 1040.9,617.2 1041.2,580.6 1041.4,609.3 1041.7,575.8 1041.9,614.6 1042.2,579.0 1042.4,620.3 1042.7,575.2 1042.9,623.4 1043.2,578.4 1043.4,614.5 1043.7,587.1 1043.9,622.8 1044.2,580.5 1044.4,619.5 1044.7,587.7 1044.9,625.4 1045.2,591.5 1045.4,626.8 1045.7,596.0 1045.9,629.5 1046.2,601.2 1046.4,635.7 1046.7,602.1 1046.9,639.9 1047.2,605.3 1047.4,645.0 1047.7,613.5 1047.9,647.5 1048.2,618.8 1048.4,649.3 1048.7,621.7 1048.9,651.5 1049.2,631.0 1049.4,657.8 1049.7,640.2 1049.9,662.2 1050.2,647.5 1050.4,666.0 1050.7,652.9 1051.0,675.2 1051.2,660.3 1051.5,678.3 1051.7,672.8 1052.0,685.8 1052.2,681.7 1052.5,692.7 1052.7,691.7 1053.0,697.3 1053.2,696.5 1053.5,679.8 1053.7,688.9 1054.0,662.4 1054.2,684.3 1054.5,643.4 1054.7,679.2 1055.0,629.0 1055.2,660.6 1055.5,622.9 1055.7,658.0 1056.0,614.8 1056.2,646.8 1056.5,608.4 1056.7,633.8 1057.0,596.3 1057.2,624.6 1057.5,588.6 1057.7,619.6 1058.0,562.5 1058.0,577.2 1058.2,614.8 1058.5,577.3 1058.7,615.8 1058.8,526.7 1059.0,571.5 1059.2,604.8 1059.3,512.7 1059.5,574.3 1059.7,528.7 1059.7,611.1 1060.0,574.6 1060.2,607.0 1060.5,569.9 1060.7,609.8 1060.8,560.5 1061.0,573.9 1061.2,610.6 1061.5,570.0 1061.8,604.9 1062.0,574.3 1062.3,608.1 1062.5,567.9 1062.8,605.6 1063.0,574.2 1063.3,607.6 1063.5,570.9 1063.8,614.9 1064.0,578.7 1064.3,616.2 1064.5,572.5 1064.8,609.9 1065.0,571.1 1065.3,611.8 1065.5,573.7 1065.8,610.7 1066.0,578.8 1066.3,616.8 1066.5,575.6 1066.8,622.1 1067.0,581.3 1067.3,615.5 1067.5,584.7 1067.8,621.2 1068.0,580.9 1068.3,627.0 1068.5,590.0 1068.8,626.3 1069.0,589.1 1069.3,626.5 1069.5,592.0 1069.8,635.4 1070.0,600.7 1070.3,638.4 1070.5,606.1 1070.8,636.1 1071.0,611.3 1071.3,638.9 1071.5,619.7 1071.8,646.1 1072.0,620.1 1072.3,648.6 1072.6,629.2 1072.8,658.6 1073.1,634.2 1073.3,662.9 1073.6,642.7 1073.8,666.5 1074.1,651.6 1074.3,672.1 1074.6,661.0 1074.8,677.2 1075.1,671.0 1075.3,683.1 1075.6,680.4 1075.8,691.9 1076.1,690.5 1076.3,696.3 1076.6,695.6 1076.8,680.3 1077.1,689.1 1077.3,661.1 1077.6,680.0 1077.8,646.6 1078.1,676.1 1078.3,636.7 1078.6,658.1 1078.8,620.7 1079.1,651.2 1079.3,612.1 1079.6,644.5 1079.8,607.0 1080.1,640.9 1080.3,591.7 1080.6,623.4 1080.8,583.6 1081.1,621.4 1081.3,561.0 1081.3,577.7 1081.6,618.0 1081.8,568.9 1082.1,606.6 1082.2,546.0 1082.3,565.1 1082.6,608.1 1082.6,532.0 1082.9,573.0 1083.1,548.0 1083.1,606.9 1083.4,571.2 1083.6,612.8 1083.9,569.5 1084.1,603.5 1084.1,559.0 1084.4,567.5 1084.6,608.4 1084.9,566.5 1085.1,603.5 1085.4,566.2 1085.6,613.1 1085.9,576.1 1086.1,608.8 1086.4,575.3 1086.6,609.8 1086.9,576.2 1087.1,614.3 1087.4,575.9 1087.6,612.6 1087.9,571.5 1088.1,609.7 1088.4,577.4 1088.6,617.3 1088.9,580.6 1089.1,611.3 1089.4,578.9 1089.6,616.4 1089.9,580.1 1090.1,613.0 1090.4,579.8 1090.6,621.6 1090.9,580.5 1091.1,621.3 1091.4,587.3 1091.6,618.6 1091.9,587.6 1092.1,628.2 1092.4,591.7 1092.6,634.9 1092.9,597.7 1093.1,636.1 1093.4,597.1 1093.7,639.5 1093.9,600.5 1094.2,636.4 1094.4,606.3 1094.7,641.5 1094.9,614.5 1095.2,649.8 1095.4,621.6 1095.7,651.2 1095.9,632.1 1096.2,656.1 1096.4,637.9 1096.7,660.0 1096.9,644.7 1097.2,668.9 1097.4,651.7 1097.7,673.2 1097.9,662.8 1098.2,677.8 1098.4,669.9 1098.7,684.3 1098.9,680.2 1099.2,692.5 1099.4,692.0 1099.7,697.4 1099.9,696.3 1100.2,680.3 1100.4,688.1 1100.7,662.3 1100.9,679.4 1101.2,650.3 1101.4,673.7 1101.7,637.3 1101.9,664.3 1102.2,622.4 1102.4,658.0 1102.7,616.8 1102.9,644.5 1103.2,600.4 1103.4,635.3 1103.7,591.5 1104.0,631.8 1104.2,592.8 1104.5,621.3 1104.7,562.5 1104.7,578.3 1105.0,617.1 1105.2,574.0 1105.5,617.9 1105.5,521.7 1105.7,570.2 1106.0,610.4 1106.0,507.7 1106.2,567.3 1106.4,523.7 1106.5,609.1 1106.7,576.7 1107.0,607.3 1107.2,570.2 1107.5,614.8 1107.5,560.5 1107.7,570.2 1108.0,607.5 1108.2,566.0 1108.5,608.9 1108.7,574.8 1109.0,610.8 1109.2,573.8 1109.5,606.2 1109.7,570.2 1110.0,613.0 1110.2,567.8 1110.5,607.4 1110.7,569.2 1111.0,615.4 1111.2,577.3 1111.5,612.7 1111.7,574.1 1112.0,611.9 1112.2,581.0 1112.5,618.9 1112.7,581.8 1113.0,616.5 1113.2,580.4 1113.5,622.6 1113.7,580.9 1114.0,619.2 1114.2,578.4 1114.5,620.6 1114.8,583.5 1115.0,621.7 1115.3,585.7 1115.5,630.0 1115.8,587.9 1116.0,630.1 1116.3,597.7 1116.5,634.3 1116.8,595.2 1117.0,633.6 1117.3,608.8 1117.5,635.5 1117.8,605.7 1118.0,637.5 1118.3,618.9 1118.5,642.2 1118.8,618.3 1119.0,648.6 1119.3,626.4 1119.5,655.3 1119.8,635.1 1120.0,660.2 1120.3,642.2 1120.5,664.4 1120.8,650.9 1121.0,667.3 1121.3,658.3 1121.5,674.6 1121.8,668.5 1122.0,682.8 1122.3,677.8 1122.5,687.9 1122.8,687.5 1123.0,692.9 1123.3,690.9 1123.5,676.2 1123.8,684.5 1124.0,660.4 1124.3,680.2 1124.5,640.2 1124.8,669.9 1125.0,623.9 1125.3,655.3 1125.6,620.9 1125.8,654.9 1126.1,608.0 1126.3,637.5 1126.6,598.2 1126.8,635.1 1127.1,589.5 1127.3,619.8 1127.6,588.3 1127.8,617.0 1128.0,558.0 1128.1,582.1 1128.3,607.7 1128.6,569.8 1128.8,607.2 1128.9,519.2 1129.1,572.3 1129.3,609.6 1129.3,505.2 1129.6,568.1 1129.8,521.2 1129.8,609.6 1130.1,565.5 1130.3,606.7 1130.6,567.6 1130.8,607.3 1130.8,556.0 1131.1,569.7 1131.3,602.7 1131.6,562.9 1131.8,602.2 1132.1,568.6 1132.3,608.5 1132.6,569.5 1132.8,604.6 1133.1,563.5 1133.3,603.2 1133.6,571.5 1133.8,611.3 1134.1,571.8 1134.3,605.9 1134.6,566.0 1134.8,606.6 1135.1,565.8 1135.3,613.2 1135.6,568.7 1135.9,607.9 1136.1,577.0 1136.4,615.1 1136.6,572.0 1136.9,611.1 1137.1,580.7 1137.4,613.2 1137.6,583.5 1137.9,617.4 1138.1,582.0 1138.4,622.1 1138.6,589.6 1138.9,620.2 1139.1,591.9 1139.4,624.2 1139.6,594.6 1139.9,634.0 1140.1,597.2 1140.4,628.7 1140.6,599.5 1140.9,639.6 1141.1,603.9 1141.4,640.0 1141.6,613.4 1141.9,641.9 1142.1,620.2 1142.4,649.2 1142.6,623.3 1142.9,651.6 1143.1,630.2 1143.4,657.8 1143.6,639.1 1143.9,661.2 1144.1,649.7 1144.4,666.9 1144.6,655.8 1144.9,675.4 1145.1,665.7 1145.4,681.9 1145.6,676.2 1145.9,688.2 1146.1,687.1 1146.4,693.3 1146.7,692.2 1146.9,677.3 1147.2,686.2 1147.4,656.7 1147.7,674.1 1147.9,640.5 1148.2,673.1 1148.4,633.3 1148.7,661.1 1148.9,618.7 1149.2,651.7 1149.4,603.9 1149.7,643.6 1149.9,602.1 1150.2,633.2 1150.4,590.0 1150.7,619.5 1150.9,587.3 1151.2,616.5 1151.4,558.0 1151.4,580.3 1151.7,609.4 1151.9,569.5 1152.2,613.0 1152.2,537.6 1152.4,568.1 1152.7,607.0 1152.7,523.6 1152.9,563.7 1153.2,539.6 1153.2,607.3 1153.4,564.9 1153.7,599.7 1153.9,562.6 1154.2,601.5 1154.2,556.0 1154.4,570.4 1154.7,605.5 1154.9,566.1 1155.2,608.4 1155.4,569.6 1155.7,610.7 1155.9,566.2 1156.2,609.9 1156.4,568.3 1156.7,601.7 1156.9,574.0 1157.2,608.6 1157.5,570.1 1157.7,607.1 1158.0,572.1 1158.2,605.0 1158.5,571.5 1158.7,606.9 1159.0,568.1 1159.2,607.3 1159.5,568.7 1159.7,616.3 1160.0,576.7 1160.2,617.0 1160.5,576.5 1160.7,615.6 1161.0,576.1 1161.2,621.7 1161.5,585.1 1161.7,625.0 1162.0,589.7 1162.2,618.0 1162.5,587.8 1162.7,624.3 1163.0,591.8 1163.2,629.0 1163.5,596.0 1163.7,635.9 1164.0,596.8 1164.2,633.6 1164.5,608.1 1164.7,639.7 1165.0,614.5 1165.2,641.5 1165.5,616.6 1165.7,642.9 1166.0,623.0 1166.2,652.7 1166.5,632.7 1166.7,654.8 1167.0,639.3 1167.2,660.7 1167.5,646.2 1167.8,667.8 1168.0,657.5 1168.3,674.7 1168.5,665.8 1168.8,679.2 1169.0,676.2 1169.3,687.3 1169.5,685.9 1169.8,692.1 1170.0,690.8 1170.3,673.0 1170.5,682.6 1170.8,656.0 1171.0,672.6 1171.3,642.8 1171.5,665.6 1171.8,623.2 1172.0,659.9 1172.3,619.9 1172.5,645.0 1172.8,607.9 1173.0,635.7 1173.3,598.1 1173.5,634.1 1173.8,591.8 1174.0,620.2 1174.3,583.7 1174.5,613.4 1174.8,557.0 1174.8,571.9 1175.0,606.8 1175.3,567.7 1175.5,605.0 1175.6,517.5 1175.8,564.1 1176.0,607.4 1176.1,503.5 1176.3,569.7 1176.5,519.5 1176.5,607.2 1176.8,560.7 1177.0,605.1 1177.3,564.1 1177.5,602.3 1177.6,555.0 1177.8,569.5 1178.0,607.1 1178.3,562.5 1178.6,601.3 1178.8,570.6 1179.1,603.1 1179.3,565.2 1179.6,603.5 1179.8,561.9 1180.1,608.7 1180.3,563.0 1180.6,607.1 1180.8,565.5 1181.1,611.7 1181.3,574.3 1181.6,608.4 1181.8,573.7 1182.1,611.9 1182.3,574.4 1182.6,612.6 1182.8,574.7 1183.1,613.0 1183.3,572.6 1183.6,617.5 1183.8,572.4 1184.1,614.4 1184.3,576.5 1184.6,613.8 1184.8,585.4 1185.1,622.1 1185.3,579.3 1185.6,625.2 1185.8,586.6 1186.1,627.0 1186.3,587.7 1186.6,629.2 1186.8,596.3 1187.1,634.6 1187.3,601.3 1187.6,638.0 1187.8,602.9 1188.1,640.3 1188.3,608.7 1188.6,645.5 1188.8,614.0 1189.1,646.0 1189.4,625.2 1189.6,652.2 1189.9,628.6 1190.1,656.6 1190.4,641.8 1190.6,659.0 1190.9,647.6 1191.1,668.4 1191.4,654.9 1191.6,672.9 1191.9,665.9 1192.1,680.1 1192.4,676.8 1192.6,686.4 1192.9,686.4 1193.1,691.9 1193.4,691.7 1193.6,675.8 1193.9,684.7 1194.1,659.4 1194.4,675.9 1194.6,640.0 1194.9,665.2 1195.1,622.5 1195.4,664.3 1195.6,611.8 1195.9,644.0 1196.1,605.5 1196.4,642.0 1196.6,593.8 1196.9,628.3 1197.1,593.8 1197.4,627.3 1197.6,584.9 1197.9,612.2 1198.1,557.0 1198.1,580.3 1198.4,612.9 1198.6,570.0 1198.9,609.7 1199.0,530.0 1199.1,563.2 1199.4,598.8 1199.4,516.0 1199.7,560.8 1199.9,532.0 1199.9,608.6 1200.2,560.8 1200.4,607.3 1200.7,567.1 1200.9,601.5 1200.9,555.0 1201.2,561.3 1201.4,603.5 1201.7,566.2 1201.9,606.7 1202.2,564.2 1202.4,606.9 1202.7,565.3 1202.9,605.1 1203.2,564.1 1203.4,604.3 1203.7,570.3 1203.9,610.6 1204.2,564.5 1204.4,609.2 1204.7,572.9 1204.9,602.6 1205.2,565.6 1205.4,613.6 1205.7,574.0 1205.9,611.4 1206.2,578.2 1206.4,610.3 1206.7,572.4 1206.9,611.6 1207.2,573.2 1207.4,619.6 1207.7,582.7 1207.9,619.4 1208.2,582.5 1208.4,616.4 1208.7,585.5 1208.9,622.5 1209.2,582.7 1209.4,628.7 1209.7,595.8 1209.9,624.1 1210.2,590.2 1210.5,632.0 1210.7,599.3 1211.0,633.3 1211.2,602.9 1211.5,638.6 1211.7,611.0 1212.0,640.1 1212.2,616.0 1212.5,644.3 1212.7,627.4 1213.0,651.8 1213.2,630.0 1213.5,655.2 1213.7,640.8 1214.0,660.2 1214.2,647.6 1214.5,669.0 1214.7,658.6 1215.0,674.2 1215.2,666.6 1215.5,679.8 1215.7,676.7 1216.0,687.8 1216.2,687.8 1216.5,692.5 1216.7,688.5 1217.0,673.3 1217.2,677.1 1217.5,654.7 1217.7,662.7 1218.0,634.4 1218.2,653.7 1218.5,621.8 1218.7,651.3 1219.0,601.4 1219.3,643.1 1219.5,597.7 1219.8,632.2 1220.0,584.6 1220.3,618.7 1220.5,576.4 1220.8,611.4 1221.0,574.2 1221.3,608.0 1221.5,558.0 1221.5,574.8 1221.8,603.5 1222.0,564.2 1222.3,601.3 1222.3,537.6 1222.5,563.1 1222.8,523.6 1222.8,569.8 1223.0,603.7 1223.2,539.6 1223.3,569.2 1223.5,610.1 1223.8,570.5 1224.0,607.5 1224.3,556.0 1224.3,568.1 1224.5,607.3 1224.8,563.4 1225.0,599.1 1225.3,566.0 1225.5,597.1 1225.8,567.0 1226.0,594.9 1226.3,564.4 1226.5,599.3 1226.8,568.3 1227.0,593.0 1227.3,562.4 1227.5,593.1 1227.8,567.8 1228.0,591.4 1228.3,567.3 1228.5,593.5 1228.8,566.1 1229.0,592.5 1229.3,570.0 1229.5,597.1 1229.8,571.9 1230.0,594.8 1230.3,572.6 1230.5,595.4 1230.8,573.5 1231.0,595.2 1231.3,578.4 1231.5,598.3 1231.8,581.0 1232.0,601.5 1232.3,582.8 1232.5,600.1 1232.8,584.6 1233.0,602.9 1233.3,587.9 1233.5,603.4 1233.8,586.9 1234.0,601.7 1234.3,591.9 1234.5,604.0 1234.8,593.3 1235.0,602.8 1235.3,595.8 1235.5,604.3 1235.8,595.7 1236.0,605.3 1236.3,598.5 1236.5,605.0 1236.8,602.4 1236.8,603.2 1236.8,604.0 1236.8,604.9 1236.9,605.7 1236.9,606.5 1236.9,607.3 1236.9,608.1 1236.9,609.0 1237.0,609.8 1237.0,610.6 1237.0,611.4 1237.0,612.3 1237.0,613.1 1237.1,613.9 1237.1,614.7 1237.1,615.5 1237.1,616.4 1237.2,617.2 1237.2,618.0 1237.2,618.8 1237.2,619.6 1237.2,620.5 1237.3,621.3 1237.3,622.1 1237.3,622.9 1237.3,623.7 1237.4,624.6 1237.4,625.4 1237.4,626.2 1237.4,627.0 1237.5,627.8 1237.5,628.6 1237.5,629.5 1237.6,630.3 1237.6,631.1 1237.6,631.9 1237.6,632.7 1237.7,633.5 1237.7,634.3 1237.7,635.2 1237.8,636.0 1237.8,636.8 1237.8,637.6 1237.9,638.4 1237.9,639.2 1237.9,640.0 1238.0,640.9 1238.0,641.7 1238.0,642.5 1238.0,643.3 1238.1,644.1 1238.1,644.9 1238.1,645.7 1238.2,646.5 1238.2,647.4 1238.3,648.2 1238.3,649.0 1238.3,649.8 1238.4,650.6 1238.4,651.4 1238.4,652.2 1238.5,653.0 1238.5,653.8 1238.5,654.7 1238.6,655.5 1238.6,656.3 1238.7,657.1 1238.7,657.9 1238.7,658.7 1238.8,659.5 1238.8,660.3 1238.9,661.1 1238.9,661.9 1238.9,662.7 1239.0,663.5 1239.0,664.4 1239.1,665.2 1239.1,666.0 1239.1,666.8 1239.2,667.6 1239.2,668.4 1239.3,669.2 1239.3,670.0 1239.4,670.8 1239.4,671.6 1239.4,672.4 1239.5,673.2 1239.5,674.0 1239.6,674.8 1239.6,675.6 1239.7,676.4 1239.7,677.2 1239.8,678.0 1239.8,678.9 1239.8,679.7 1239.9,680.5 1239.9,681.3 1240.0,682.1 1240.0,682.9 1240.1,683.7 1240.1,684.5 1240.2,685.3 1240.2,686.1 1240.3,686.9 1240.3,687.7 1240.4,688.5 1240.4,689.3 1240.5,690.1 1240.5,690.9 1240.6,691.7 1240.6,692.5 1240.7,693.3 1240.7,694.1 1240.8,694.9 1240.8,695.7 1240.9,696.5 1240.9,697.3 1241.0,698.1 1241.1,698.9 1241.1,699.7 1241.2,700.5 1241.2,701.3 1241.3,702.1 1241.3,702.9 1241.4,703.7 1241.4,704.5 1241.5,705.3 1241.5,706.1 1241.6,706.9 1241.7,707.7 1241.7,708.5 1241.8,709.3 1241.8,710.1 1241.9,710.9 1241.9,711.7 1242.0,712.5 1242.1,713.3 1242.1,714.1 1242.2,714.9 1242.2,715.6 1242.3,716.4 1242.4,717.2 1242.4,718.0 1242.5,718.8 1242.5,719.6 1242.6,720.4 1242.7,721.2 1242.7,722.0 1242.8,722.8 1242.8,723.6 1242.9,724.4 1243.0,725.2 1243.0,726.0 1243.1,726.8 1243.1,727.6 1243.2,728.4 1243.3,729.2 1243.3,730.0 1243.4,730.8 1243.5,731.5 1243.5,732.3 1243.6,733.1 1243.7,733.9 1243.7,734.7 1243.8,735.5 1243.9,736.3 1243.9,737.1 1244.0,737.9 1244.1,738.7 1244.1,739.5 1244.2,740.3 1244.3,741.1 1244.3,741.9 1244.4,742.7 1244.5,743.4 1244.5,744.2 1244.6,745.0 1244.7,745.8 1244.7,746.6 1244.8,747.4 1244.9,748.2 1244.9,749.0 1245.0,749.8 1245.1,750.6 1245.1,751.4 1245.2,752.1 1245.3,752.9 1245.4,753.7 1245.4,754.5 1245.5,755.3 1245.6,756.1 1245.6,756.9 1245.7,757.7 1245.8,758.5 1245.9,759.3 1245.9,760.1 1246.0,760.8 1246.1,761.6 1246.2,762.4 1246.2,763.2 1246.3,764.0 1246.4,764.8 1246.5,765.6 1246.5,766.4 1246.6,767.2 1246.7,767.9 1246.8,768.7 1246.8,769.5 1246.9,770.3 1247.0,771.1 1247.1,771.9 1247.1,772.7 1247.2,773.5 1247.3,774.3 1247.4,775.0 1247.4,775.8 1247.5,776.6 1247.6,777.4 1247.7,778.2 1247.8,779.0 1247.8,779.8 1247.9,780.6 1248.0,781.4 1248.1,782.1 1248.1,782.9 1248.2,783.7 1248.3,784.5 1248.4,785.3 1248.5,786.1 1248.5,786.9 1248.6,787.7 1248.7,788.4 1248.8,789.2 1248.9,790.0 1248.9,790.8 1249.0,791.6 1249.1,792.4 1249.2,793.2 1249.3,793.9 1249.4,794.7 1249.4,795.5 1249.5,796.3 1249.6,797.1 1249.7,797.9 1249.8,798.7 1249.9,799.5 1249.9,800.2 1250.0,801.0 1250.1,801.8 1250.2,802.6 1250.3,803.4 1250.4,804.2 1250.4,805.0 1250.5,805.7 1250.6,806.5 1250.7,807.3 1250.8,808.1 1250.9,808.9 1251.0,809.7 1251.0,810.5 1251.1,811.2 1251.2,812.0 1251.3,812.8 1251.4,813.6 1251.5,814.4 1251.6,815.2 1251.7,816.0 1251.7,816.7 1251.8,817.5 1251.9,818.3 1252.0,819.1 1252.1,819.9 1252.2,820.7 1252.3,821.5 1252.4,822.2 1252.5,823.0 1252.5,823.8 1252.6,824.6 1252.7,825.4 1252.8,826.2 1252.9,827.0 1253.0,827.7 1253.1,828.5 1253.2,829.3 1253.3,830.1 1253.4,830.9 1253.5,831.7 1253.5,832.4 1253.6,833.2 1253.7,834.0 1253.8,834.8 1253.9,835.6 1254.0,836.4 1254.1,837.2 1254.2,837.9 1254.3,838.7 1254.4,839.5 1254.5,840.3 1254.6,841.1 1254.7,841.9 1254.8,842.7 1254.8,843.4 1254.9,844.2 1255.0,845.0 1255.1,845.8 1255.2,846.6 1255.3,847.4 1255.4,848.1 1255.5,848.9 1255.6,849.7 1255.7,850.5 1255.8,851.3 1255.9,852.1 1256.0,852.9 1256.1,853.6 1256.2,854.4 1256.3,855.2 1256.4,856.0 1256.5,856.8 1256.6,857.6 1256.7,858.4 1256.8,859.1 1256.9,859.9 1257.0,860.7 1257.1,861.5 1257.2,862.3 1257.3,863.1 1257.4,863.9 1257.4,864.6 1257.5,865.4 1257.6,866.2 1257.7,867.0 1257.8,867.8 1257.9,868.6 1258.0,869.3 1258.1,870.1 1258.2,870.9 1258.3,871.7 1258.4,872.5 1258.5,873.3 1258.6,874.1 1258.7,874.8 1258.8,875.6 1258.9,876.4 1259.0,877.2 1259.1,878.0 1259.2,878.8 1259.3,879.6 1259.5,880.3 1259.6,881.1 1259.7,881.9 1259.8,882.7 1259.9,883.5 1260.0,884.3 1260.1,885.1 1260.2,885.9 1260.3,886.6 1260.4,887.4 1260.5,888.2 1260.6,889.0 1260.7,889.8 1260.8,890.6 1260.9,891.4 1261.0,892.1 1261.1,892.9 1261.2,893.7 1261.3,894.5 1261.4,895.3 1261.5,896.1 1261.6,896.9 1261.7,897.7 1261.8,898.4 1261.9,899.2 1262.0,900.0 1262.1,900.8 1262.2,901.6 1262.3,902.4 1262.5,903.2 1262.6,903.9 1262.7,904.7 1262.8,905.5 1262.9,906.3 1263.0,907.1 1263.1,907.9 1263.2,908.7 1263.3,909.5 1263.4,910.3 1263.5,911.0 1263.6,911.8 1263.7,912.6 1263.8,913.4 1263.9,914.2 1264.1,915.0 1264.2,915.8 1264.3,916.6 1264.4,917.3 1264.5,918.1 1264.6,918.9 1264.7,919.7 1264.8,920.5 1264.9,921.3 1265.0,922.1 1265.1,922.9 1265.2,923.7 1265.3,924.4 1265.5,925.2 1265.6,926.0 1265.7,926.8 1265.8,927.6 1265.9,928.4 1266.0,929.2 1266.1,930.0 1266.2,930.8 1266.3,931.6 1266.4,932.3 1266.6,933.1 1266.7,933.9 1266.8,934.7 1266.9,935.5 1267.0,936.3 1267.1,937.1 1267.2,937.9 1267.3,938.7 1267.4,939.5 1267.5,940.3 1267.7,941.0 1267.8,941.8 1267.9,942.6 1268.0,943.4 1268.1,944.2 1268.2,945.0 1268.3,945.8 1268.4,946.6 1268.5,947.4 1268.7,948.2 1268.8,949.0 1268.9,949.8 1269.0,950.6 1269.1,951.3 1269.2,952.1 1269.3,952.9 1269.4,953.7 1269.6,954.5 1269.7,955.3 1269.8,956.1 1269.9,956.9 1270.0,957.7 1270.1,958.5 1270.2,959.3 1270.3,960.1 1270.5,960.9 1270.6,961.7 1270.7,962.5 1270.8,963.3 1270.9,964.1 1271.0,964.8 1271.1,965.6 1271.3,966.4 1271.4,967.2 1271.5,968.0 1271.6,968.8 1271.7,969.6 1271.8,970.4 1271.9,971.2 1272.1,972.0 1272.2,972.8 1272.3,973.6 1272.4,974.4 1272.5,975.2 1272.6,976.0 1272.7,976.8 1272.9,977.6 1273.0,978.4 1273.1,979.2 1273.2,980.0 1273.3,980.8 1273.4,981.6 1273.5,982.4 1273.7,983.2 1273.8,984.0 1273.9,984.8 1274.0,985.6 1274.1,986.4 1274.2,987.2 1274.4,988.0 1274.5,988.8 1274.6,989.6 1274.7,990.4 1274.8,991.2 1274.9,992.0 1275.1,992.8 1275.2,993.6 1275.3,994.4 1275.4,995.2 1275.5,996.0 1275.6,996.8 1275.8,997.6 1275.9,998.4 1276.0,999.2 1276.1,1000.0 1276.2,1000.8 1276.3,1001.6 1276.5,1002.4 1276.6,1003.2 1276.7,1004.0 1276.8,1004.8 1276.9,1005.6 1277.1,1006.4 1277.2,1007.2 1277.3,1008.0 1277.4,1008.8 1277.5,1009.6 1277.6,1010.4 1277.8,1011.2 1277.9,1012.0 1278.0,1012.8 1278.1,1013.6 1278.2,1014.4 1278.4,1015.2 1278.5,1016.0 1278.6,1016.8 1278.7,1017.6 1278.9,1018.4 1279.0,1019.2 1279.1,1020.0 1279.2,1020.8 1279.3,1021.6 1279.5,1022.4 1279.6,1023.2 1279.7,1024.0 1279.8,1024.8 1280.0,1025.7 1280.1,1026.5 1280.2,1027.3 1280.3,1028.1 1280.5,1028.9 1280.6,1029.7 1280.7,1030.5 1280.8,1031.3 1281.0,1032.1 1281.1,1032.9 1281.2,1033.7 1281.4,1034.5 1281.5,1035.3 1281.6,1036.1 1281.7,1036.9 1281.9,1037.7 1282.0,1038.5 1282.1,1039.3 1282.3,1040.1 1282.4,1040.9 1282.5,1041.7 1282.7,1042.5 1282.8,1043.3 1282.9,1044.1 1283.1,1044.9 1283.2,1045.7 1283.3,1046.5 1283.5,1047.3 1283.6,1048.1 1283.7,1048.9 1283.9,1049.7 1284.0,1050.5 1284.2,1051.3 1284.3,1052.1 1284.4,1052.9 1284.6,1053.7 1284.7,1054.5 1284.9,1055.3 1285.0,1056.1 1285.1,1056.9 1285.3,1057.7 1285.4,1058.5 1285.6,1059.3 1285.7,1060.1 1285.8,1060.9 1286.0,1061.7 1286.1,1062.5 1286.3,1063.3 1286.4,1064.1 1286.6,1064.9 1286.7,1065.7 1286.9,1066.5 1287.0,1067.3 1287.2,1068.1 1287.3,1068.9 1287.5,1069.7 1287.6,1070.5 1287.8,1071.3 1287.9,1072.1 1288.1,1072.9 1288.2,1073.7 1288.4,1074.5 1288.5,1075.3 1288.7,1076.1 1288.9,1076.9 1289.0,1077.7 1289.2,1078.5 1289.3,1079.3 1289.5,1080.1 1289.6,1080.9 1289.8,1081.7 1290.0,1082.5 1290.1,1083.3 1290.3,1084.0 1290.5,1084.8 1290.6,1085.6 1290.8,1086.4 1291.0,1087.2 1291.1,1088.0 1291.3,1088.8 1291.5,1089.6 1291.6,1090.4 1291.8,1091.2 1292.0,1092.0 1292.1,1092.8 1292.3,1093.6 1292.5,1094.3 1292.7,1095.1 1292.8,1095.9 1293.0,1096.7 1293.2,1097.5 1293.4,1098.3 1293.5,1099.1 1293.7,1099.9 1293.9,1100.7 1294.1,1101.4 1294.3,1102.2 1294.4,1103.0 1294.6,1103.8 1294.8,1104.6 1295.0,1105.4 1295.2,1106.2 1295.4,1106.9 1295.5,1107.7 1295.7,1108.5 1295.9,1109.3 1296.1,1110.1 1296.3,1110.9 1296.5,1111.6 1296.7,1112.4 1296.9,1113.2 1297.1,1114.0 1297.3,1114.8 1297.5,1115.6 1297.7,1116.3 1297.9,1117.1 1298.1,1117.9 1298.3,1118.7 1298.5,1119.4 1298.7,1120.2 1298.9,1121.0 1299.1,1121.8 1299.3,1122.6 1299.5,1123.3 1299.7,1124.1 1299.9,1124.9 1300.1,1125.7 1300.3,1126.4 1300.5,1127.2 1300.8,1128.0 1301.0,1128.8 1301.2,1129.5 1301.4,1130.3 1301.6,1131.1 1301.8,1131.8 1302.0,1132.6 1302.3,1133.4 1302.5,1134.2 1302.7,1134.9 1302.9,1135.7 1303.2,1136.5 1303.4,1137.2 1303.6,1138.0 1303.8,1138.8 1304.1,1139.5 1304.3,1140.3 1304.5,1141.1 1304.8,1141.8 1305.0,1142.6 1305.2,1143.4 1305.5,1144.1 1305.7,1144.9 1305.9,1145.7 1306.2,1146.4 1306.4,1147.2 1306.7,1147.9 1306.9,1148.7 1307.1,1149.5 1307.4,1150.2 1307.6,1151.0 1307.9,1151.7 1308.1,1152.5 1308.4,1153.3 1308.6,1154.0 1308.9,1154.8 1309.1,1155.5 1309.4,1156.3 1309.7,1157.0 1309.9,1157.8 1310.2,1158.5 1310.4,1159.3 1310.7,1160.0 1311.0,1160.8 1311.2,1161.5 1311.5,1162.3 1311.8,1163.0 1312.0,1163.8 1312.3,1164.5 1312.6,1165.3 1312.8,1166.0 1313.1,1166.8 1313.4,1167.5 1313.7,1168.3 1313.9,1169.0 1314.2,1169.8 1314.5,1170.5 1314.8,1171.2 1315.1,1172.0 1315.3,1172.7 1315.6,1173.5 1315.9,1174.2 1316.2,1174.9 1316.5,1175.7 1316.8,1176.4 1317.1,1177.2 1317.4,1177.9 1317.7,1178.6 1318.0,1179.4 1318.3,1180.1 1318.6,1180.8 1318.9,1181.6 1319.2,1182.3 1319.5,1183.0 1319.8,1183.8 1320.1,1184.5 1320.4,1185.2 1320.7,1185.9 1321.0,1186.7 1321.3,1187.4 1321.6,1188.1 1321.9,1188.9 1322.3,1189.6 1322.6,1190.3 1322.9,1191.0 1323.2,1191.8 1323.5,1192.5 1323.9,1193.2 1324.2,1193.9 1324.5,1194.6 1324.9,1195.4 1325.2,1196.1 1325.5,1196.8 1325.9,1197.5 1326.2,1198.2 1326.5,1198.9 1326.9,1199.7 1327.2,1200.4 1327.5,1201.1 1327.9,1201.8 1328.2,1202.5 1328.6,1203.2 1328.9,1203.9 1329.3,1204.6 1329.6,1205.3 1330.0,1206.0 1330.3,1206.8 1330.7,1207.5 1331.1,1208.2 1331.4,1208.9 1331.8,1209.6 1332.1,1210.3 1332.5,1211.0 1332.9,1211.7 1333.2,1212.4 1333.6,1213.1 1334.0,1213.8 1334.4,1214.5 1334.7,1215.2 1335.1,1215.9 1335.5,1216.6 1335.9,1217.2 1336.2,1217.9 1336.6,1218.6 1337.0,1219.3 1337.4,1220.0 1337.8,1220.7 1338.2,1221.4 1338.6,1222.1 1339.0,1222.8 1339.4,1223.4 1339.8,1224.1 1340.2,1224.8 1340.6,1225.5 1341.0,1226.2 1341.4,1226.9 1341.8,1227.5 1342.2,1228.2 1342.6,1228.9 1343.0,1229.6 1343.4,1230.2 1343.8,1230.9 1344.3,1231.6 1344.7,1232.3 1345.1,1232.9 1345.5,1233.6 1345.9,1234.3 1346.4,1235.0 1346.8,1235.6 1347.2,1236.3 1347.7,1237.0 1348.1,1237.6 1348.5,1238.3 1349.0,1239.0 1349.4,1239.6 1349.9,1240.3 1350.3,1240.9 1350.7,1241.6 1351.2,1242.3 1351.6,1242.9 1352.1,1243.6 1352.5,1244.2 1353.0,1244.9 1353.5,1245.5 1353.9,1246.2 1354.4,1246.8 1354.8,1247.5 1355.3,1248.1 1355.8,1248.8 1356.2,1249.4 1356.7,1250.1 1357.2,1250.7 1357.7,1251.4 1358.1,1252.0 1358.6,1252.6 1359.1,1253.3 1359.6,1253.9 1360.1,1254.6 1360.5,1255.2 1361.0,1255.8 1361.5,1256.5 1362.0,1257.1 1362.5,1257.7 1363.0,1258.4 1363.5,1259.0 1364.0,1259.6 1364.5,1260.2 1365.0,1260.9 1365.5,1261.5 1366.0,1262.1 1366.5,1262.7 1367.0,1263.3 1367.5,1264.0 1368.0,1264.6 1368.5,1265.2 1369.0,1265.8 1369.6,1266.4 1370.1,1267.0 1370.6,1267.6 1371.1,1268.2 1371.6,1268.9 1372.2,1269.5 1372.7,1270.1 1373.2,1270.7 1373.8,1271.3 1374.3,1271.9 1374.8,1272.5 1375.4,1273.1 1375.9,1273.7 1376.4,1274.2 1377.0,1274.8 1377.5,1275.4 1378.1,1276.0 1378.6,1276.6 1379.1,1277.2 1379.7,1277.8 1380.2,1278.4 1380.8,1278.9 1381.3,1279.5 1381.9,1280.1 1382.5,1280.7 1383.0,1281.2 1383.6,1281.8 1384.1,1282.4 1384.7,1283.0 1385.3,1283.5 1385.8,1284.1 1386.4,1284.7 1387.0,1285.2 1387.5,1285.8 1388.1,1286.4 1388.7,1286.9 1389.2,1287.5 1389.8,1288.0 1390.4,1288.6 1391.0,1289.1 1391.6,1289.7 1392.1,1290.2 1392.7,1290.8 1393.3,1291.3 1393.9,1291.9 1394.5,1292.4 1395.1,1292.9 1395.7,1293.4 1396.3,1293.9 1396.9,1294.5 1397.4,1295.1 1398.0,1295.6 1398.6,1296.0 1399.2,1296.6 1399.8,1297.2 1400.4,1297.7 1401.1,1298.3 1401.7,1298.6 1402.3,1299.3 1402.9,1299.7 1403.5,1300.3 1404.1,1300.8 1404.7,1301.3 1405.3,1301.7 1405.9,1302.3 1406.6,1302.7 1407.2,1303.1 1407.8,1303.8 1408.4,1304.3 1409.0,1304.6 1409.7,1305.2 1410.3,1305.7 1410.9,1306.4 1411.5,1306.8 1412.2,1307.3 1412.8,1307.5 1413.4,1308.1 1414.1,1308.7 1414.7,1309.1 1415.3,1309.6 1416.0,1310.0 1416.6,1310.7 1417.3,1311.2 1417.9,1311.4 1418.5,1311.8 1419.2,1312.6 1419.8,1312.7 1420.5,1313.4 1421.1,1314.0 1421.8,1314.0 1422.4,1314.7 1423.1,1315.0 1423.7,1315.6 1424.4,1316.0 1425.0,1316.7 1425.7,1316.9 1426.4,1317.3 1427.0,1317.9 1427.7,1318.1 1428.3,1318.5 1429.0,1319.3 1429.7,1319.3 1430.3,1319.7 1431.0,1320.2 1431.7,1320.5 1432.3,1320.7 1433.0,1321.7 1433.7,1321.7 1434.3,1322.2 1435.0,1322.6 1435.7,1322.9 1436.4,1323.3 1437.0,1323.9 1437.7,1324.7 1438.4,1324.8 1439.1,1325.2 1439.8,1325.1 1440.4,1325.8 1441.1,1326.0 1441.8,1326.7 1442.5,1326.9 1443.2,1327.3 1443.9,1327.7 1444.6,1327.9 1445.3,1328.1 1446.0,1328.9 1446.6,1328.9 1447.3,1329.3 1448.0,1329.8 1448.7,1330.1 1449.4,1330.6 1450.1,1331.2 1450.8,1331.3 1451.5,1331.7 1452.2,1332.0 1452.9,1332.5 1453.6,1332.2 1454.3,1333.1 1455.1,1333.1 1455.8,1333.3 1456.5,1333.9 1457.2,1334.2 1457.9,1334.7 1458.6,1335.2 1459.3,1334.6 1460.0,1335.5 1460.7,1336.4 1461.5,1336.4 1462.2,1336.9 1462.9,1336.8 1463.6,1336.7 1464.3,1337.1 1465.0,1337.9 1465.8,1338.2 1466.5,1338.0 1467.2,1338.5 1467.9,1338.9 1468.7,1338.6 1469.4,1339.3 1470.1,1340.2 1470.8,1340.6 1471.6,1340.2 1472.3,1341.1 1473.0,1340.6 1473.8,1340.8 1474.5,1340.6 1475.2,1341.9 1476.0,1341.7 1476.7,1342.9 1477.4,1342.5 1478.2,1342.7 1478.9,1342.3 1479.7,1343.6 1480.4,1343.3 1481.1,1343.6 1481.9,1343.1 1482.6,1344.5 1483.4,1344.7 1484.1,1344.4 1484.9,1344.9 1485.6,1345.2 1486.3,1345.7 1487.1,1345.6 1487.8,1346.4 1488.6,1345.9 1489.3,1346.0 1490.1,1346.3 1490.8,1345.8 1491.6,1346.6 1492.4,1347.5 1493.1,1347.5 1493.9,1347.3 1494.6,1347.9 1495.4,1347.2 1496.1,1348.1 1496.9,1348.6 1497.6,1348.9 1498.4,1348.5 1499.2,1349.4 1499.9,1350.0 1500.7,1349.3 1501.5,1349.9 1502.2,1349.2 1503.0,1349.2 1503.7,1350.5 1504.5,1350.4 1505.3,1350.7 1506.0,1350.5 1506.8,1350.8 1507.6,1351.5 1508.4,1352.1 1509.1,1351.4 1509.9,1351.0 1510.7,1352.4 1511.4,1352.3 1512.2,1352.5 1513.0,1352.4 1513.8,1353.6 1514.5,1352.7 1515.3,1353.1 1516.1,1352.2 1516.9,1352.9 1517.6,1353.0 1518.4,1353.5 1519.2,1353.8 1520.0,1353.5 1520.7,1354.8 1521.5,1353.6 1522.3,1354.1 1523.1,1354.6 1523.9,1354.0 1524.7,1355.0 1525.4,1355.2 1526.2,1354.9 1527.0,1356.1 1527.8,1355.4 1528.6,1355.6 1529.4,1355.1 1530.2,1354.9 1530.9,1355.6 1531.7,1355.8 1532.5,1355.9 1533.3,1356.7 1534.1,1355.2 1534.9,1355.9 1535.7,1355.7 1536.5,1357.5 1537.3,1356.6 1538.1,1356.8 1538.8,1356.6 1539.6,1357.8 1540.4,1357.2 1541.2,1357.6 1542.0,1356.5 1542.8,1358.4 1543.6,1358.1 1544.4,1358.3 1545.2,1358.8 1546.0,1358.1 1546.8,1358.2 1547.6,1358.8 1548.4,1358.8 1549.2,1358.5 1550.0,1358.8 1550.8,1358.5 1551.6,1359.3 1552.4,1359.6 1553.2,1359.1 1554.0,1360.3 1554.8,1358.4 1555.6,1359.3 1556.4,1360.5 1557.2,1359.4 1558.0,1358.8 1558.8,1360.6 1559.6,1360.2 1560.4,1359.3 1561.2,1360.6 1562.0,1359.5 1562.9,1359.4 1563.7,1360.2 1564.5,1360.1 1565.3,1359.8 1566.1,1360.4 1566.9,1360.0 1567.7,1360.8 1568.5,1360.8 1569.3,1361.4 1570.1,1360.7 1570.9,1360.2 1571.7,1360.3 1572.6,1361.1 1573.4,1362.3 1574.2,1361.9 1575.0,1361.0 1575.8,1362.1 1576.6,1360.8 1577.4,1362.3 1578.2,1361.5 1579.0,1362.3 1579.9,1362.3 1580.7,1361.7 1581.5,1362.2 1582.3,1361.3 1583.1,1362.1 1583.9,1362.9 1584.7,1365.0 1585.6,1362.8 1586.4,1362.4 1587.2,1361.7 1588.0,1363.2 1588.8,1361.4 1589.6,1362.0 1590.4,1362.9 1591.3,1361.8 1592.1,1363.8 1592.9,1363.6 1593.7,1362.4 1594.5,1362.5 1595.3,1362.0 1596.2,1362.0 1597.0,1363.4 1597.8,1363.6 1598.6,1363.4 1599.4,1363.4 1600.3,1362.8 1601.1,1363.6 1601.9,1362.2 1602.7,1363.4 1603.5,1364.5 1604.3,1364.5 1605.2,1363.2 1606.0,1363.3 1606.8,1364.6 1607.6,1365.0 1608.4,1362.5 1609.3,1363.4 1610.1,1363.9 1610.9,1364.7 1611.7,1363.2 1612.5,1364.4 1613.4,1363.7 1614.2,1365.8 1615.0,1364.3 1615.8,1363.9 1616.6,1363.8 1617.5,1364.9 1618.3,1364.7 1619.1,1363.3 1619.9,1364.4 1620.7,1363.1 1621.6,1363.6 1622.4,1363.2 1623.2,1363.2 1624.0,1363.8 1624.8,1363.6 1625.7,1364.8 1626.5,1365.1 1627.3,1364.3 1628.1,1363.6 1629.0,1365.2 1629.8,1362.8 1630.6,1362.9 1631.4,1365.2 1632.2,1365.2 1633.1,1365.5 1633.9,1364.5 1634.7,1363.6 1635.5,1364.3 1636.3,1365.2 1637.2,1364.1 1638.0,1364.2 1638.8,1363.6 1639.6,1363.8 1640.4,1365.6 1641.3,1365.3 1642.1,1363.9 1642.9,1364.0 1643.7,1364.4 1644.5,1365.4 1645.3,1363.9 1646.2,1364.9 1647.0,1363.1 1647.8,1363.9 1648.6,1365.4 1649.4,1365.9 1650.3,1364.1 1651.1,1364.4 1651.9,1365.9 1652.7,1364.8 1653.5,1364.7 1654.4,1365.7 1655.2,1365.4 1656.0,1366.3 1656.8,1366.0 1657.6,1364.7 1658.4,1365.2 1659.3,1365.2 1660.1,1364.0 1660.9,1364.4 1661.7,1366.3 1662.5,1363.9 1663.3,1366.3 1664.1,1365.7 1665.0,1365.3 1665.8,1365.9 1666.6,1365.9 1667.4,1366.6 1668.2,1365.1 1669.0,1365.3 1669.9,1365.3 1670.7,1367.4 1671.5,1366.5 1672.3,1364.7 1673.1,1365.3 1673.9,1364.9 1674.7,1365.6 1675.5,1365.8 1676.3,1367.9 1677.2,1363.9 1678.0,1366.7 1678.8,1366.1 1679.6,1365.0 1680.4,1365.6 1681.2,1365.3 1682.0,1365.8 1682.8,1366.8 1683.6,1364.3 1684.4,1367.1 1685.3,1365.5 1686.1,1367.4 1686.9,1366.3 1687.7,1367.1 1688.5,1366.5 1689.3,1367.0 1690.1,1366.0 1690.9,1365.1 1691.7,1366.7 1692.5,1366.7 1693.3,1368.1 1694.1,1364.0 1694.9,1365.9 1695.7,1367.1 1696.5,1364.8 1697.3,1365.9 1698.1,1368.3 1698.9,1367.6 1699.7,1365.3 1700.5,1367.6 1701.3,1367.4 1702.1,1367.0 1702.9,1366.7 1703.7,1366.5 1704.5,1365.4 1705.3,1365.8 1706.1,1367.1 1706.9,1366.5 1707.7,1368.3 1708.5,1366.1 1709.3,1364.1 1710.1,1366.2 1710.9,1366.8 1711.7,1366.9 1712.5,1366.6 1713.3,1365.8 1714.1,1368.1 1714.9,1366.0 1715.7,1367.4 1716.4,1366.4 1717.2,1365.5 1718.0,1368.2 1718.8,1364.3 1719.6,1366.0 1720.4,1367.3 1721.2,1366.5 1722.0,1367.7 1722.7,1366.9 1723.5,1366.5 1724.3,1369.2 1725.1,1366.8 1725.9,1366.9 1726.7,1366.0 1727.5,1366.4 1728.2,1367.8 1729.0,1367.8 1729.8,1367.3 1730.6,1366.6 1731.4,1368.0 1732.1,1365.7 1732.9,1367.1 1733.7,1367.2 1734.5,1366.7 1735.2,1367.7 1736.0,1366.9 1736.8,1366.8 1737.6,1369.5 1738.3,1368.5 1739.1,1369.0 1739.9,1367.9 1740.7,1368.8 1741.4,1368.7 1742.2,1369.2 1743.0,1370.4 1743.7,1367.8 1744.5,1368.4 1745.3,1368.1 1746.0,1364.7 1746.8,1366.9 1747.6,1368.3 1748.3,1369.0 1749.1,1367.8 1749.9,1369.6 1750.6,1369.8 1751.4,1368.2 1752.2,1370.1 1752.9,1370.4 1753.7,1369.2 1754.4,1367.8 1755.2,1370.3 1755.9,1368.8 1756.7,1368.6 1757.5,1369.2 1758.2,1368.6 1759.0,1370.3 1759.7,1370.0 1760.5,1370.5 1761.2,1370.0 1762.0,1368.7 1762.7,1369.4 1763.5,1370.5 1764.2,1369.3 1765.0,1372.6 1765.7,1369.6 1766.5,1369.3 1767.2,1371.1 1768.0,1370.8 1768.7,1370.1 1769.4,1369.9 1770.2,1370.7 1770.9,1371.2 1771.7,1371.2 1772.4,1370.2 1773.1,1371.0"/>
<polyline fill="none" stroke="#000" stroke-width="2.5" stroke-linejoin="round" points="273.0,685.0 349.0,685.0 350.0,696.2 350.3,700.5 350.6,691.3 350.8,705.8 351.1,686.2 351.4,707.4 351.7,685.8 351.9,707.0 352.2,685.2 352.5,705.4 352.8,685.0 353.0,706.7 353.3,685.1 353.6,705.8 353.9,686.7 354.2,707.0 354.4,684.4 354.7,707.0 355.0,685.3 355.3,706.4 355.5,684.0 355.8,705.2 356.1,683.8 356.4,705.8 356.6,686.1 356.9,703.7 357.2,685.2 357.5,704.7 357.7,684.4 358.0,704.7 358.3,683.8 358.6,705.2 358.9,685.9 359.1,703.7 359.4,683.7 359.7,704.7 360.0,686.0 360.2,690.0 360.2,704.2 360.5,673.0 360.5,685.8 360.8,703.6 361.0,690.0 361.1,683.5 361.3,702.3 361.6,684.0 361.9,703.1 362.2,683.8 362.5,704.3 362.7,686.6 363.0,703.9 363.3,685.1 363.6,703.3 363.8,686.0 364.1,703.4 364.4,687.7 364.7,703.9 364.9,688.0 365.2,705.6 365.5,688.6 365.8,704.6 366.1,688.6 366.3,705.4 366.6,687.9 366.9,705.5 367.2,688.7 367.4,704.6 367.7,689.7 368.0,705.0 368.3,689.7 368.5,706.2 368.8,691.8 369.1,706.9 369.4,691.5 369.6,706.4 369.9,692.9 370.2,707.5 370.5,692.5 370.8,707.6 371.0,693.9 371.3,710.1 371.6,693.7 371.9,714.6 372.1,693.3 372.4,720.6 372.7,692.4 373.0,719.1 373.2,693.0 373.5,719.1 373.8,696.5 374.1,720.0 374.4,695.9 374.6,722.0 374.9,695.2 375.2,720.8 375.5,694.7 375.7,723.1 376.0,695.6 376.3,722.3 376.6,695.2 376.8,721.2 377.1,695.1 377.4,721.0 377.7,698.9 377.9,723.5 378.2,698.8 378.5,722.0 378.8,697.9 379.1,721.5 379.3,698.6 379.6,722.6 379.9,700.1 380.2,723.6 380.4,699.2 380.7,722.0 381.0,698.4 381.3,722.8 381.5,701.3 381.8,724.3 382.1,700.3 382.4,721.7 382.7,701.0 382.9,722.2 383.2,702.1 383.5,722.4 383.8,702.0 384.0,722.0 384.3,700.8 384.6,721.8 384.9,703.1 385.1,721.8 385.4,702.6 385.7,721.7 386.0,702.1 386.3,723.7 386.5,701.7 386.8,722.5 387.1,702.2 387.4,723.3 387.6,703.0 387.9,723.3 388.2,703.7 388.5,722.3 388.7,702.8 389.0,721.4 389.3,701.7 389.6,718.7 389.8,700.9 390.1,717.5 390.4,702.0 390.7,717.0 391.0,701.6 391.2,714.2 391.5,702.3 391.8,713.0 392.1,703.5 392.3,711.2 392.6,703.1 392.9,709.2 393.2,703.3 393.4,707.4 393.7,704.1 394.0,705.8 394.0,703.8 396.5,703.3 399.1,702.8 401.6,702.4 404.1,701.9 406.6,701.4 409.2,700.9 411.7,700.4 414.2,699.9 416.7,699.5 419.3,699.0 421.8,698.5 421.8,699.5 422.2,704.5 422.5,698.6 422.9,712.6 423.2,699.1 423.6,717.1 424.0,702.5 424.3,720.9 424.7,706.0 425.0,724.6 425.4,708.7 425.8,727.1 426.1,710.8 426.5,729.6 426.8,712.9 427.2,732.0 427.5,715.2 427.9,734.2 428.3,717.6 428.6,736.4 429.0,720.0 429.3,738.6 429.7,722.4 430.1,740.9 430.4,725.6 430.8,744.4 431.1,729.3 431.5,747.9 431.9,733.0 432.2,751.4 432.6,736.7 432.9,754.8 433.3,740.4 433.7,758.3 434.0,744.1 434.4,761.3 434.7,748.4 435.1,763.6 435.5,752.7 435.8,766.0 436.2,757.0 436.5,768.4 436.9,761.3 437.3,769.2 437.6,761.2 438.0,766.8 438.3,760.3 438.7,764.5 439.0,759.4 439.4,762.5 439.8,758.0 440.1,760.7 440.5,756.5 440.8,758.9 441.2,755.6 441.6,758.4 441.9,755.7 442.3,758.2 442.6,755.9 443.0,758.0 443.0,761.1 443.2,771.1 443.5,759.1 443.8,770.7 444.0,760.1 444.2,770.1 444.5,759.5 444.8,768.8 445.0,758.5 445.2,768.1 445.5,759.4 445.8,769.4 446.0,758.6 446.2,768.9 446.5,758.2 446.8,768.4 447.0,757.2 447.2,770.5 447.5,756.2 447.8,771.4 448.0,755.5 448.2,772.5 448.5,756.1 448.8,775.0 449.0,754.9 449.2,774.6 449.5,757.1 449.8,775.1 450.0,756.0 450.2,774.8 450.5,757.8 450.8,774.1 451.0,757.7 451.2,774.8 451.5,756.6 451.8,775.6 452.0,758.0 452.2,777.0 452.5,758.9 452.8,774.9 453.0,760.5 453.2,777.2 453.5,762.0 453.8,775.4 454.0,761.2 454.2,777.1 454.5,761.5 454.8,776.9 455.0,762.6 455.2,776.2 455.5,764.8 455.8,777.0 456.0,765.6 456.2,777.5 456.5,766.0 456.8,776.4 457.0,764.7 457.2,777.2 457.5,766.1 457.8,777.5 458.0,765.7 458.2,777.9 458.5,766.9 458.8,780.1 459.0,768.2 459.2,778.9 459.5,769.2 459.8,779.5 460.0,768.3 460.2,781.0 460.5,768.5 460.8,780.5 461.0,769.5 461.2,779.0 461.5,769.4 461.8,779.7 462.0,767.4 462.2,778.0 462.5,767.0 462.8,777.8 463.0,767.2 463.2,776.2 463.5,765.7 463.8,776.9 464.0,764.6 464.2,775.1 464.5,765.7 464.8,774.4 465.0,765.0 465.2,775.0 465.5,764.0 465.8,774.2 466.0,763.6 466.2,773.9 466.5,762.6 466.8,773.1 467.0,761.9 467.2,772.5 467.5,762.3 467.8,770.8 468.0,761.4 468.2,771.8 468.5,760.0 468.8,771.1 469.0,760.2 469.2,769.6 469.5,759.4 469.8,770.5 470.0,759.0 470.2,772.1 470.5,759.2 470.8,774.9 471.0,756.7 471.2,776.2 471.5,759.0 471.8,776.6 472.0,757.0 472.2,776.8 472.5,759.8 472.8,778.2 473.0,760.6 473.2,776.6 473.5,758.7 473.8,778.3 474.0,760.9 474.2,779.5 474.5,760.5 474.8,777.8 475.0,762.4 475.2,780.3 475.5,761.5 475.8,778.3 476.0,763.2 476.2,780.4 476.5,764.6 476.8,778.8 477.0,765.3 477.2,781.4 477.5,765.3 477.8,779.8 478.0,766.0 478.2,781.2 478.5,768.2 478.8,780.5 479.0,769.3 479.2,781.1 479.5,769.8 479.8,781.2 480.0,769.3 480.2,782.8 480.5,770.7 480.8,783.9 481.0,771.0 481.2,784.6 481.5,771.4 481.8,784.6 482.0,772.4 482.2,785.6 482.5,773.0 482.8,786.5 483.0,774.6 483.2,786.2 483.5,775.5 483.8,788.1 484.0,775.7 484.2,786.1 484.5,775.7 484.8,784.7 485.0,773.8 485.2,784.8 485.5,773.0 485.8,783.8 486.0,772.9 486.2,783.2 486.5,771.4 486.8,782.5 487.0,771.5 487.2,781.0 487.5,769.6 487.8,780.2 488.0,769.0 488.2,779.4 488.5,768.2 488.8,777.8 489.0,768.9 489.2,777.1 489.5,767.3 489.8,776.8 490.0,765.6 490.2,777.2 490.5,766.4 490.8,776.2 491.0,765.1 491.2,775.6 491.5,764.7 491.8,774.9 492.0,764.8 492.2,773.8 492.5,763.8 492.8,773.0 493.0,763.5 493.2,773.1 493.5,762.4 493.8,775.3 494.0,760.4 494.2,779.4 494.5,759.4 494.8,779.6 495.0,762.3 495.2,780.0 495.5,762.5 495.8,779.7 496.0,763.6 496.2,780.5 496.5,763.7 496.8,780.7 497.0,764.5 497.2,782.6 497.5,767.0 497.8,783.0 498.0,764.7 498.2,784.7 498.5,768.5 498.8,785.2 499.0,767.7 499.2,784.4 499.5,769.8 499.8,785.2 500.0,770.6 500.2,787.4 500.5,772.5 500.8,786.1 501.0,774.0 501.2,787.9 501.5,775.3 501.8,788.3 502.0,774.7 502.2,789.3 502.5,776.2 502.8,788.2 503.0,777.8 503.2,789.5 503.5,778.5 503.8,790.1 504.0,780.1 504.2,792.6 504.5,779.4 504.8,791.7 505.0,780.4 505.2,792.5 505.5,782.2 505.8,795.3 506.0,781.8 506.2,795.0 506.5,783.2 506.8,795.7 507.0,783.7 507.2,796.4 507.5,785.8 507.8,794.1 508.0,783.7 508.2,793.5 508.5,781.8 508.8,791.4 509.0,780.6 509.2,791.5 509.5,779.4 509.8,788.7 510.0,779.2 510.2,787.5 510.5,777.7 510.8,787.5 511.0,776.9 511.2,785.7 511.5,775.9 511.8,785.0 512.0,774.7 512.2,784.2 512.5,772.7 512.8,782.1 513.0,771.6 513.2,781.4 513.5,771.0 513.8,780.9 514.0,770.6 514.2,779.8 514.5,768.9 514.8,779.9 515.0,768.0 515.2,778.7 515.5,767.4 515.8,777.3 516.0,766.7 516.2,776.7 516.5,766.5 516.8,778.9 517.0,767.1 517.2,781.3 517.5,763.4 517.8,781.9 518.0,765.1 518.2,782.3 518.5,765.9 518.8,783.3 519.0,766.7 519.2,784.0 519.5,768.4 519.8,787.5 520.0,769.5 520.2,788.7 520.5,769.8 520.8,787.0 521.0,769.2 521.2,787.8 521.5,771.1 521.8,791.0 522.0,771.2 522.2,790.3 522.5,774.5 522.8,790.6 523.0,775.4 523.2,790.6 523.5,776.5 523.8,790.9 524.0,778.4 524.2,792.8 524.5,779.5 524.8,792.9 525.0,779.8 525.2,793.6 525.5,780.5 525.8,793.7 526.0,781.2 526.2,794.5 526.5,782.0 526.8,795.4 527.0,783.0 527.2,796.9 527.5,784.2 527.8,796.6 528.0,785.6 528.2,797.0 528.5,785.9 528.8,799.1 529.0,786.6 529.2,798.8 529.5,789.0 529.8,800.8 530.0,788.6 530.2,800.5 530.5,790.9 530.8,800.8 531.0,790.5 531.2,799.0 531.5,789.6 531.8,797.9 532.0,788.5 532.2,796.6 532.5,787.2 532.8,795.7 533.0,784.7 533.2,795.1 533.5,783.8 533.8,793.6 534.0,783.4 534.2,791.7 534.5,782.3 534.8,792.2 535.0,780.2 535.2,790.5 535.5,779.5 535.8,789.9 536.0,778.2 536.2,788.1 536.5,777.4 536.8,788.0 537.0,777.5 537.2,786.5 537.5,776.9 537.8,786.3 538.0,774.8 538.2,786.1 538.5,775.7 538.8,784.3 539.0,774.9 539.2,783.9 539.5,774.8 539.8,784.7 540.0,774.3 540.2,785.5 540.5,773.6 540.8,789.9 541.0,771.6 541.2,789.0 541.5,771.9 541.8,790.4 542.0,773.8 542.2,791.2 542.5,774.5 542.8,792.2 543.0,776.0 543.2,792.6 543.5,774.8 543.8,793.6 544.0,777.8 544.2,795.1 544.5,779.2 544.8,795.4 545.0,779.2 545.2,797.2 545.5,780.0 545.8,797.1 546.0,780.8 546.2,798.8 546.5,783.2 546.8,797.9 547.0,783.3 547.2,798.9 547.5,784.0 547.8,798.5 548.0,785.9 548.2,799.9 548.5,787.9 548.8,801.7 549.0,789.0 549.2,802.0 549.5,788.8 549.8,802.9 550.0,791.2 550.2,802.0 550.5,792.1 550.8,803.1 551.0,791.1 551.2,804.6 551.5,793.5 551.8,804.2 552.0,793.0 552.2,806.0 552.5,795.3 552.8,806.7 553.0,795.7 553.2,806.8 553.5,796.6 553.8,809.0 554.0,796.6 554.2,807.3 554.5,796.7 554.8,805.5 555.0,794.7 555.2,805.0 555.5,793.0 555.8,802.9 556.0,793.1 556.2,802.1 556.5,791.8 556.8,801.7 557.0,790.7 557.2,799.9 557.5,789.4 557.8,799.3 558.0,788.8 558.2,797.4 558.5,787.2 558.8,796.7 559.0,786.1 559.2,796.1 559.5,786.4 559.8,795.9 560.0,784.5 560.2,794.9 560.5,784.6 560.8,794.3 561.0,784.7 561.2,793.5 561.5,782.7 561.8,794.2 562.0,783.4 562.2,793.8 562.5,783.5 562.8,793.1 563.0,783.2 563.2,792.4 563.5,781.8 563.8,793.9 564.0,779.7 564.2,797.2 564.5,781.7 564.8,797.2 565.0,780.1 565.2,798.0 565.5,783.0 565.8,798.9 566.0,780.9 566.2,800.4 566.5,784.2 566.8,801.8 567.0,784.2 567.2,802.2 567.5,782.9 567.8,803.3 568.0,785.1 568.2,805.0 568.5,786.0 568.8,803.7 569.0,786.0 569.2,805.5 569.5,787.4 569.8,804.1 570.0,789.3 570.2,803.5 570.5,790.6 570.8,805.9 571.0,791.0 571.2,806.4 571.5,791.5 571.8,806.1 572.0,792.3 572.2,806.3 572.5,793.7 572.8,806.7 573.0,795.4 573.2,807.9 573.5,796.8 573.8,809.1 574.0,795.7 574.2,809.6 574.5,797.5 574.8,809.6 575.0,798.4 575.2,810.4 575.5,799.6 575.8,811.9 576.0,799.0 576.2,812.1 576.5,799.9 576.8,812.5 577.0,800.7 577.2,814.8 577.5,802.5 577.8,813.4 578.0,801.4 578.2,811.9 578.5,800.9 578.8,809.8 579.0,800.6 579.2,810.2 579.5,799.5 579.8,809.0 580.0,798.6 580.2,808.2 580.5,796.2 580.8,807.0 581.0,797.0 581.2,806.3 581.5,795.3 581.8,805.6 582.0,795.0 582.2,803.7 582.5,792.7 582.8,803.9 583.0,791.9 583.2,802.5 583.5,791.5 583.8,802.4 584.0,790.8 584.2,800.2 584.5,791.0 584.8,799.4 585.0,790.4 585.2,798.8 585.5,789.4 585.8,799.3 586.0,788.0 586.2,798.5 586.5,788.9 586.8,799.2 587.0,786.9 587.2,802.2 587.5,787.6 587.8,804.2 588.0,786.0 588.2,804.8 588.5,788.3 588.8,806.9 589.0,788.0 589.2,805.0 589.5,789.5 589.8,808.0 590.0,790.8 590.2,809.0 590.5,791.7 590.8,808.8 591.0,792.3 591.2,808.8 591.5,791.3 591.8,810.3 592.0,792.9 592.2,812.6 592.5,795.6 592.8,810.6 593.0,796.1 593.2,811.9 593.5,796.4 593.8,812.4 594.0,798.1 594.2,812.7 594.5,800.6 594.8,813.8 595.0,800.5 595.2,815.5 595.5,802.3 595.8,815.0 596.0,804.4 596.2,817.5 596.5,804.9 596.8,818.1 597.0,806.2 597.2,818.0 597.5,806.3 597.8,819.1 598.0,808.9 598.2,820.9 598.5,810.1 598.8,822.2 599.0,809.8 599.2,822.4 599.5,811.2 599.8,823.6 600.0,813.2 600.2,823.8 600.5,813.6 600.8,824.6 601.0,814.5 601.2,823.2 601.5,812.3 601.8,822.0 602.0,811.7 602.2,821.1 602.5,809.2 602.8,819.5 603.0,808.0 603.2,817.5 603.5,806.5 603.8,816.8 604.0,806.4 604.2,815.8 604.5,804.4 604.8,814.4 605.0,803.5 605.2,813.6 605.5,802.0 605.8,812.2 606.0,802.1 606.2,810.6 606.5,799.5 606.8,809.9 607.0,799.2 607.2,808.6 607.5,798.5 607.8,808.6 608.0,797.4 608.2,808.5 608.5,797.2 608.8,806.7 609.0,797.2 609.2,806.2 609.5,796.2 609.8,807.0 610.0,795.9 610.2,807.5 610.5,795.0 610.8,808.6 611.0,794.6 611.2,812.3 611.5,796.1 611.8,812.1 612.0,794.9 612.2,814.7 612.5,797.9 612.8,814.0 613.0,796.6 613.2,816.1 613.5,799.3 613.8,818.0 614.0,799.2 614.2,819.9 614.5,802.0 614.8,820.2 615.0,801.8 615.2,819.4 615.5,803.0 615.8,819.5 616.0,805.5 616.2,820.5 616.5,805.2 616.8,822.9 617.0,807.8 617.2,822.6 617.5,807.7 617.8,823.5 618.0,810.2 618.2,825.6 618.5,810.9 618.8,825.2 619.0,812.0 619.2,824.7 619.5,813.8 619.8,827.0 620.0,814.5 620.2,827.8 620.5,816.5 620.8,827.6 621.0,818.0 621.2,827.8 621.5,819.3 621.8,828.8 622.0,820.1 622.2,830.2 622.5,820.7 622.8,831.8 623.0,821.1 623.2,832.3 623.5,822.3 623.8,833.2 624.0,824.0 624.2,832.9 624.5,823.0 624.8,831.9 625.0,821.1 625.2,828.9 625.5,819.8 625.8,827.3 626.0,818.2 626.2,826.8 626.5,816.6 626.8,824.1 627.0,815.5 627.2,822.7 627.5,813.6 627.8,822.0 628.0,812.1 628.2,820.0 628.5,810.9 628.8,818.4 629.0,809.1 629.2,818.1 629.5,809.2 629.8,816.3 630.0,806.9 630.2,814.6 630.5,806.8 630.8,813.1 631.0,804.7 631.2,812.0 631.5,804.2 631.8,812.1 632.0,803.8 632.2,811.1 632.5,802.4 632.8,809.9 633.0,801.7 633.2,809.3 633.5,800.4 633.8,812.3 634.0,799.1 634.2,814.8 634.5,797.8 634.8,819.2 635.0,797.4 635.2,817.1 635.5,800.2 635.8,819.5 636.0,801.1 636.2,819.3 636.5,802.8 636.8,821.8 637.0,802.0 637.2,823.4 637.5,803.2 637.8,824.3 638.0,806.5 638.2,823.8 638.5,806.5 638.8,824.8 639.0,807.7 639.2,826.0 639.5,809.2 639.8,825.5 640.0,809.0 640.2,829.1 640.5,811.2 640.8,827.8 641.0,813.1 641.2,830.4 641.5,814.1 641.8,830.5 642.0,815.3 642.2,831.9 642.5,816.8 642.8,830.5 643.0,818.6 643.2,833.2 643.5,820.9 643.8,832.0 644.0,822.5 644.2,832.8 644.5,823.9 644.8,834.6 645.0,824.9 645.2,835.0 645.5,826.7 645.8,834.9 646.0,828.0 646.2,835.7 646.5,829.7 646.8,837.1 647.0,830.5 647.2,838.6 647.5,831.8 647.8,837.7 648.0,830.2 648.2,835.7 648.5,827.7 648.8,833.6 649.0,826.0 649.2,831.9 649.5,824.5 649.8,830.2 650.0,823.1 650.2,828.0 650.5,821.4 650.8,826.6 651.0,819.2 651.2,825.1 651.5,818.1 651.8,823.1 652.0,816.7 652.2,821.9 652.5,814.9 652.8,820.0 653.0,813.7 653.2,819.3 653.5,812.1 653.8,818.1 654.0,811.0 654.2,816.0 654.5,809.5 654.8,815.6 655.0,809.0 655.2,814.5 655.5,807.6 655.8,813.6 656.0,806.5 656.2,812.4 656.5,805.9 656.8,811.6 657.0,803.8 657.2,817.2 657.5,802.3 657.8,821.3 658.0,800.5 658.2,821.1 658.5,802.6 658.8,823.8 659.0,804.7 659.2,825.3 659.5,805.6 659.8,826.2 660.0,805.6 660.2,828.0 660.5,805.4 660.8,829.8 661.0,808.1 661.2,828.6 661.5,810.2 661.8,831.6 662.0,809.6 662.2,832.4 662.5,810.9 662.8,832.4 663.0,812.3 663.2,833.5 663.5,814.7 663.8,834.8 664.0,816.2 664.2,835.4 664.5,816.9 664.8,835.1 665.0,819.0 665.2,835.6 665.5,821.2 665.8,838.0 666.0,821.5 666.2,838.9 666.5,823.6 666.8,839.4 667.0,824.9 667.2,839.6 667.5,828.0 667.8,839.0 668.0,828.8 668.2,840.9 668.5,830.8 668.8,841.1 669.0,832.8 669.2,841.7 669.5,834.8 669.8,842.1 670.0,837.0 670.2,842.5 670.5,838.5 670.8,843.2 671.0,838.8 671.2,841.7 671.5,836.4 671.8,839.6 672.0,834.4 672.2,837.7 672.5,832.4 672.8,835.9 673.0,830.4 673.2,833.8 673.5,829.2 673.8,832.3 674.0,826.9 674.2,830.3 674.5,825.4 674.8,828.8 675.0,823.9 675.2,826.9 675.5,822.1 675.8,825.2 676.0,820.8 676.2,824.1 676.5,819.4 676.8,822.7 677.0,817.5 677.2,820.9 677.5,816.2 677.8,819.4 678.0,815.2 678.2,818.4 678.5,814.3 678.8,817.7 679.0,813.5 679.2,816.7 679.5,812.7 679.8,815.9 680.0,812.0 680.2,819.0 680.5,806.2 680.8,824.7 681.0,806.4 681.2,826.3 681.5,805.8 681.8,829.1 682.0,808.8 682.2,830.9 682.5,806.8 682.8,832.5 683.0,810.5 683.2,830.8 683.5,809.2 683.8,833.2 684.0,812.7 684.2,832.5 684.5,814.1 684.8,836.3 685.0,813.3 685.2,836.2 685.5,814.1 685.8,837.7 686.0,817.3 686.2,838.1 686.5,819.3 686.8,838.9 687.0,819.5 687.2,840.1 687.5,823.1 687.8,840.9 688.0,822.6 688.2,842.4 688.5,826.8 688.8,842.7 689.0,827.3 689.2,842.4 689.5,827.7 689.8,845.8 690.0,831.6 690.2,845.7 690.5,832.7 690.8,845.8 691.0,834.7 691.2,846.1 691.5,835.8 691.8,847.4 692.0,837.9 692.2,848.7 692.5,840.1 692.8,848.6 693.0,842.7 693.2,849.6 693.5,844.2 693.8,850.3 694.0,846.6 694.2,849.6 694.5,846.3 694.8,847.6 695.0,844.4 695.2,845.4 695.5,842.3 695.8,843.2 696.0,840.0 696.2,841.1 696.5,838.1 696.8,839.1 697.0,835.8 697.2,837.1 697.5,833.9 697.8,834.9 698.0,832.0 698.2,833.1 698.5,830.2 698.8,831.3 699.0,828.6 699.2,829.6 699.5,826.8 699.8,827.7 700.0,825.4 700.2,825.9 700.5,823.9 700.8,824.7 701.0,822.5 701.2,823.1 701.5,821.1 701.8,821.8 702.0,820.1 702.2,820.9 702.5,819.1 702.8,819.9 703.0,818.1 703.2,819.2 703.5,817.7 703.8,824.6 704.0,810.8 704.2,832.0 704.5,808.5 704.8,833.5 705.0,810.0 705.2,833.3 705.5,811.2 705.8,833.3 706.0,813.3 706.2,837.8 706.5,815.4 706.8,838.4 707.0,814.6 707.2,837.7 707.5,815.3 707.8,839.3 708.0,816.2 708.2,841.0 708.5,818.9 708.8,844.5 709.0,819.8 709.2,843.5 709.5,823.9 709.8,844.9 710.0,824.2 710.2,843.8 710.5,826.6 710.8,847.7 711.0,827.9 711.2,846.1 711.5,829.2 711.8,847.9 712.0,830.1 712.2,849.0 712.5,834.5 712.8,848.9 713.0,835.7 713.2,852.0 713.5,836.9 713.8,851.3 714.0,837.2 714.2,851.8 714.5,840.1 714.8,854.1 715.0,841.6 715.2,853.1 715.5,844.6 715.8,853.9 716.0,846.3 716.2,854.6 716.5,849.1 716.8,855.3 717.0,851.1 717.2,856.3 717.5,853.0 717.8,854.5 718.0,852.0 718.2,852.1 718.5,849.5 718.8,849.6 719.0,847.0 719.2,847.2 719.5,844.7 719.8,844.9 720.0,842.6 720.2,842.6 720.5,840.1 720.8,840.4 721.0,838.1 721.2,838.5 721.5,836.1 721.8,836.3 722.0,834.0 722.2,834.4 722.5,832.1 722.8,832.5 723.0,830.2 723.2,830.6 723.5,828.3 723.8,828.9 724.0,826.7 724.2,827.3 724.5,825.2 724.8,825.9 725.0,823.7 725.2,824.4 725.5,822.4 725.8,823.3 726.0,821.4 726.2,822.1 726.5,820.3 726.8,821.5 727.0,814.9 727.2,829.6 727.5,811.9 727.8,835.8 728.0,811.5 728.2,834.0 728.5,812.4 728.8,835.5 729.0,813.7 729.2,836.8 729.5,815.5 729.8,840.8 730.0,819.9 730.2,842.7 730.5,819.1 730.8,841.6 731.0,819.4 731.2,844.9 731.5,822.5 731.8,847.8 732.0,825.1 732.2,845.8 732.5,824.3 732.8,846.8 733.0,826.4 733.2,848.1 733.5,828.4 733.8,849.9 734.0,830.9 734.2,851.6 734.5,833.5 734.8,852.3 735.0,834.6 735.2,852.2 735.5,835.6 735.8,855.3 736.0,839.6 736.2,854.6 736.5,840.9 736.8,857.1 737.0,842.4 737.2,857.0 737.5,843.7 737.8,857.6 738.0,846.1 738.2,859.5 738.5,849.5 738.8,859.8 739.0,850.8 739.2,861.1 739.5,853.4 739.8,861.0 740.0,854.8 740.2,861.4 740.5,857.1 740.8,862.4 741.0,860.0 741.2,860.2 741.5,857.4 741.8,857.5 742.0,855.0 742.2,855.1 742.5,852.5 742.8,852.6 743.0,850.2 743.2,850.3 743.5,847.8 743.8,848.1 744.0,845.7 744.2,846.1 744.5,843.6 744.8,844.0 745.0,841.5 745.2,841.9 745.5,839.6 745.8,839.9 746.0,837.5 746.2,838.1 746.5,835.7 746.8,836.3 747.0,834.2 747.2,834.7 747.5,832.5 747.8,833.1 748.0,831.0 748.2,831.6 748.5,829.7 748.8,830.3 749.0,828.5 749.2,829.4 749.5,827.5 749.8,828.5 750.0,826.8 750.2,827.8 750.5,821.2 750.8,836.1 751.0,819.3 751.2,840.2 751.5,820.3 751.8,843.4 752.0,820.0 752.2,845.3 752.5,819.8 752.8,844.3 753.0,821.3 753.2,847.8 753.5,824.2 753.8,850.0 754.0,825.8 754.2,847.6 754.5,828.7 754.8,850.1 755.0,827.8 755.2,852.5 755.5,829.6 755.8,851.3 756.0,833.1 756.2,854.4 756.5,833.4 756.8,855.0 757.0,836.8 757.2,855.6 757.5,836.7 757.8,858.0 758.0,840.3 758.2,859.7 758.5,842.7 758.8,858.6 759.0,843.4 759.2,861.3 759.5,844.9 759.8,861.9 760.0,845.8 760.2,862.2 760.5,849.6 760.8,863.4 761.0,850.7 761.2,863.6 761.5,854.1 761.8,865.6 762.0,854.5 762.2,866.6 762.5,857.8 762.8,866.6 763.0,859.4 763.2,868.0 763.5,862.3 763.8,868.6 764.0,864.2 764.2,868.8 764.5,865.5 764.8,865.3 765.0,862.7 765.2,862.6 765.5,859.9 765.8,859.9 766.0,857.2 766.2,857.3 766.5,854.6 766.8,854.7 767.0,852.1 767.2,852.2 767.5,849.6 767.8,849.8 768.0,847.2 768.2,847.4 768.5,844.7 768.8,844.9 769.0,842.4 769.2,842.7 769.5,840.3 769.8,840.6 770.0,838.2 770.2,838.6 770.5,836.2 770.8,836.6 771.0,834.5 771.2,834.9 771.5,832.5 771.8,833.1 772.0,830.9 772.2,831.6 772.5,829.6 772.8,830.3 773.0,828.4 773.2,829.3 773.5,827.5 773.8,834.0 774.0,821.9 774.2,840.2 774.5,821.0 774.8,845.1 775.0,820.6 775.2,846.6 775.5,823.9 775.8,847.2 776.0,825.4 776.2,846.2 776.5,826.0 776.8,849.4 777.0,827.1 777.2,851.0 777.5,830.2 777.8,853.5 778.0,831.5 778.2,853.5 778.5,831.0 778.8,856.5 779.0,833.3 779.2,858.6 779.5,834.8 779.8,857.1 780.0,836.5 780.2,859.4 780.5,840.0 780.8,859.8 781.0,842.6 781.2,861.9 781.5,845.7 781.8,863.6 782.0,846.7 782.2,864.7 782.5,847.6 782.8,865.7 783.0,851.5 783.2,866.7 783.5,852.7 783.8,868.3 784.0,853.8 784.2,868.9 784.5,856.1 784.8,869.0 785.0,858.3 785.2,871.5 785.5,860.6 785.8,872.0 786.0,863.8 786.2,872.9 786.5,865.9 786.8,872.9 787.0,868.3 787.2,874.4 787.5,870.6 787.8,873.2 788.0,870.3 788.2,870.2 788.5,867.2 788.8,867.2 789.0,864.3 789.2,864.3 789.5,861.7 789.8,861.6 790.0,858.9 790.2,859.1 790.5,856.2 790.8,856.3 791.0,853.7 791.2,853.9 791.5,851.3 791.8,851.5 792.0,848.9 792.2,849.0 792.5,846.6 792.8,846.9 793.0,844.3 793.2,844.7 793.5,842.3 793.8,842.6 794.0,840.3 794.2,840.7 794.5,838.5 794.8,839.1 795.0,836.9 795.2,837.6 795.5,835.4 795.8,836.1 796.0,834.2 796.2,834.9 796.5,833.2 796.8,834.0 797.0,827.8 797.2,841.2 797.5,825.7 797.8,846.5 798.0,823.2 798.2,850.1 798.5,827.5 798.8,850.6 799.0,826.3 799.2,851.0 799.5,829.0 799.8,854.2 800.0,830.8 800.2,855.5 800.5,832.2 800.8,856.4 801.0,833.0 801.2,858.8 801.5,837.1 801.8,860.8 802.0,837.4 802.2,863.2 802.5,839.7 802.8,862.9 803.0,842.9 803.2,863.8 803.5,845.2 803.8,865.8 804.0,845.3 804.2,867.0 804.5,849.6 804.8,866.4 805.0,849.5 805.2,868.6 805.5,852.2 805.8,871.8 806.0,853.6 806.2,871.9 806.5,855.9 806.8,872.8 807.0,858.0 807.2,874.8 807.5,862.3 807.8,876.2 808.0,864.4 808.2,877.5 808.5,867.0 808.8,877.9 809.0,869.2 809.2,878.5 809.5,871.3 809.8,879.9 810.0,873.8 810.2,880.7 810.5,875.7 810.8,881.2 811.0,879.5 811.2,879.3 811.5,876.4 811.8,876.4 812.0,873.6 812.2,873.5 812.5,870.5 812.8,870.4 813.0,867.5 813.2,867.6 813.5,864.9 813.8,864.8 814.0,862.0 814.2,862.2 814.5,859.4 814.8,859.5 815.0,856.8 815.2,857.1 815.5,854.5 815.8,854.6 816.0,851.9 816.2,852.2 816.5,849.7 816.8,850.1 817.0,847.6 817.2,847.9 817.5,845.4 817.8,845.9 818.0,843.6 818.2,844.0 818.5,841.8 818.8,842.4 819.0,840.3 819.2,841.0 819.5,838.9 819.8,839.8 820.0,837.9 820.2,839.0 820.5,832.2 820.8,847.1 821.0,830.3 821.2,853.5 821.5,832.1 821.8,854.8 822.0,830.9 822.2,855.2 822.5,834.4 822.8,859.5 823.0,836.4 823.2,858.0 823.5,837.8 823.8,861.6 824.0,837.9 824.2,864.1 824.5,840.3 824.8,864.7 825.0,841.6 825.2,868.4 825.5,846.8 825.8,869.0 826.0,845.8 826.2,870.4 826.5,847.8 826.8,870.3 827.0,851.5 827.2,872.7 827.5,854.7 827.8,874.9 828.0,856.4 828.2,875.8 828.5,857.5 828.8,877.4 829.0,861.8 829.2,876.8 829.5,861.9 829.8,880.0 830.0,866.0 830.2,880.0 830.5,867.3 830.8,881.6 831.0,868.6 831.2,882.9 831.5,871.2 831.8,885.0 832.0,874.6 832.2,886.0 832.5,877.0 832.8,886.5 833.0,879.9 833.2,887.4 833.5,882.9 833.8,889.4 834.0,884.7 834.2,890.2 834.5,887.0 834.8,886.6 835.0,883.5 835.2,883.3 835.5,880.4 835.8,880.2 836.0,877.3 836.2,877.0 836.5,874.2 836.8,874.0 837.0,871.2 837.2,871.1 837.5,868.2 837.8,868.4 838.0,865.5 838.2,865.6 838.5,862.8 838.8,862.8 839.0,860.2 839.2,860.3 839.5,857.8 839.8,858.0 840.0,855.6 840.2,855.7 840.5,853.2 840.8,853.7 841.0,851.2 841.2,851.6 841.5,849.3 841.8,849.8 842.0,847.6 842.2,848.2 842.5,846.0 842.8,846.8 843.0,844.8 843.2,845.7 843.5,843.9 843.8,849.2 844.0,837.3 844.2,854.5 844.5,836.3 844.8,861.0 845.0,838.8 845.2,861.9 845.5,840.2 845.8,863.5 846.0,839.6 846.2,866.0 846.5,841.5 846.8,866.6 847.0,844.3 847.2,866.9 847.5,847.8 847.8,871.0 848.0,849.8 848.2,873.6 848.5,851.0 848.8,874.3 849.0,852.0 849.2,875.3 849.5,853.0 849.8,875.4 850.0,855.0 850.2,878.4 850.5,858.1 850.8,879.1 851.0,860.9 851.2,881.8 851.5,863.1 851.8,880.8 852.0,864.7 852.2,884.2 852.5,865.8 852.8,884.6 853.0,869.5 853.2,886.4 853.5,871.3 853.8,887.9 854.0,872.8 854.2,888.9 854.5,874.9 854.8,889.8 855.0,877.5 855.2,890.8 855.5,881.5 855.8,891.7 856.0,883.1 856.2,892.4 856.5,886.4 856.8,893.4 857.0,888.3 857.2,894.4 857.5,891.4 857.8,894.5 858.0,891.2 858.2,891.2 858.5,888.0 858.8,887.9 859.0,884.9 859.2,884.8 859.5,881.7 859.8,881.6 860.0,878.8 860.2,878.7 860.5,875.8 860.8,875.9 861.0,873.0 861.2,872.9 861.5,870.3 861.8,870.1 862.0,867.6 862.2,867.6 862.5,864.8 862.8,865.0 863.0,862.6 863.2,862.7 863.5,860.2 863.8,860.3 864.0,857.8 864.2,858.2 864.5,855.9 864.8,856.3 865.0,853.9 865.2,854.5 865.5,852.2 865.8,852.7 866.0,850.8 866.2,851.5 866.5,849.5 866.8,850.3 867.0,848.7 867.2,856.0 867.5,843.1 867.8,861.4 868.0,841.7 868.2,866.0 868.5,843.1 868.8,868.2 869.0,844.7 869.2,867.7 869.5,844.8 869.8,871.0 870.0,846.9 870.2,871.1 870.5,848.2 870.8,874.5 871.0,852.4 871.2,874.8 871.5,855.4 871.8,875.7 872.0,856.8 872.2,878.4 872.5,857.7 872.8,880.2 873.0,861.8 873.2,880.7 873.5,864.0 873.8,881.9 874.0,865.3 874.2,885.4 874.5,868.0 874.8,887.6 875.0,867.5 875.2,888.2 875.5,872.7 875.8,888.3 876.0,873.6 876.2,891.9 876.5,874.6 876.8,892.8 877.0,877.2 877.2,892.6 877.5,880.4 877.8,894.9 878.0,883.6 878.2,896.3 878.5,885.5 878.8,898.1 879.0,889.0 879.2,898.1 879.5,891.4 879.8,899.2 880.0,893.8 880.2,900.6 880.5,895.8 880.8,901.7 881.0,898.7 881.2,900.2 881.5,897.2 881.8,896.6 882.0,893.6 882.2,893.2 882.5,890.2 882.8,889.8 883.0,886.9 883.2,886.6 883.5,883.6 883.8,883.3 884.0,880.3 884.2,880.1 884.5,877.5 884.8,877.2 885.0,874.4 885.2,874.3 885.5,871.7 885.8,871.7 886.0,868.9 886.2,868.9 886.5,866.3 886.8,866.6 887.0,863.9 887.2,864.1 887.5,861.6 887.8,861.9 888.0,859.6 888.2,860.0 888.5,857.7 888.8,858.1 889.0,855.9 889.2,856.5 889.5,854.4 889.8,855.2 890.0,853.2 890.2,854.0 890.5,847.3 890.8,862.7 891.0,845.8 891.2,869.0 891.5,844.6 891.8,871.1 892.0,848.5 892.2,872.9 892.5,847.9 892.8,874.6 893.0,851.3 893.2,874.8 893.5,850.9 893.8,877.0 894.0,855.1 894.2,877.2 894.5,854.2 894.8,880.5 895.0,859.5 895.2,880.6 895.5,859.4 895.8,881.7 896.0,861.9 896.2,884.9 896.5,865.4 896.8,884.7 897.0,864.7 897.2,885.3 897.5,869.5 897.8,889.3 898.0,869.7 898.2,889.5 898.5,871.3 898.8,890.0 899.0,876.1 899.2,893.1 899.5,876.4 899.8,893.1 900.0,878.7 900.2,893.8 900.5,881.5 900.8,896.3 901.0,882.4 901.2,896.9 901.5,886.6 901.8,897.4 902.0,888.5 902.2,899.5 902.5,890.2 902.8,900.5 903.0,892.5 903.2,901.4 903.5,895.3 903.8,902.3 904.0,897.8 904.2,903.4 904.5,900.7 904.8,900.5 905.0,897.5 905.2,897.1 905.5,894.3 905.8,894.1 906.0,891.0 906.2,890.8 906.5,887.9 906.8,887.6 907.0,884.9 907.2,884.6 907.5,881.6 907.8,881.7 908.0,878.8 908.2,878.8 908.5,876.0 908.8,876.0 909.0,873.3 909.2,873.2 909.5,870.6 909.8,870.8 910.0,868.0 910.2,868.2 910.5,865.7 910.8,865.9 911.0,863.4 911.2,863.7 911.5,861.2 911.8,861.7 912.0,859.4 912.2,859.7 912.5,857.6 912.8,858.1 913.0,856.0 913.2,856.7 913.5,855.0 913.8,856.0 914.0,850.5 914.2,866.6 914.5,848.3 914.8,869.8 915.0,848.3 915.2,874.5 915.5,851.5 915.8,873.5 916.0,853.2 916.2,877.7 916.5,852.8 916.8,877.1 917.0,858.5 917.2,879.7 917.5,859.3 917.8,883.5 918.0,859.8 918.2,885.5 918.5,862.9 918.8,886.1 919.0,862.9 919.2,886.2 919.5,868.9 919.8,887.7 920.0,868.2 920.2,891.1 920.5,871.1 920.8,893.1 921.0,873.1 921.2,894.2 921.5,877.0 921.8,894.4 922.0,879.1 922.2,896.2 922.5,879.9 922.8,899.4 923.0,884.1 923.2,900.2 923.5,885.9 923.8,901.9 924.0,887.0 924.2,902.6 924.5,890.3 924.8,904.4 925.0,892.3 925.2,905.0 925.5,895.6 925.8,906.0 926.0,898.5 926.2,908.5 926.5,900.9 926.8,908.5 927.0,903.3 927.2,910.2 927.5,906.3 927.8,911.6 928.0,907.6 928.2,907.2 928.5,904.2 928.8,904.0 929.0,901.0 929.2,900.6 929.5,897.8 929.8,897.4 930.0,894.7 930.2,894.4 930.5,891.7 930.8,891.5 931.0,888.9 931.2,888.8 931.5,886.0 931.8,886.1 932.0,883.4 932.2,883.5 932.5,880.9 932.8,880.9 933.0,878.4 933.2,878.6 933.5,876.1 933.8,876.5 934.0,874.0 934.2,874.3 934.5,871.9 934.8,872.4 935.0,870.1 935.2,870.7 935.5,868.6 935.8,869.3 936.0,867.3 936.2,867.8 936.5,866.1 936.8,866.9 937.0,865.2 937.2,871.6 937.5,859.1 937.8,879.1 938.0,855.3 938.2,882.0 938.5,859.8 938.8,882.7 939.0,859.5 939.2,886.1 939.5,860.7 939.8,885.9 940.0,864.9 940.2,887.4 940.5,864.8 940.8,891.7 941.0,867.5 941.2,891.3 941.5,868.8 941.8,893.0 942.0,871.0 942.2,893.7 942.5,874.9 942.8,895.9 943.0,876.4 943.2,896.3 943.5,876.0 943.8,899.7 944.0,880.3 944.2,902.0 944.5,883.4 944.8,901.2 945.0,883.0 945.2,904.5 945.5,885.5 945.8,903.5 946.0,888.4 946.2,904.6 946.5,892.0 946.8,908.1 947.0,894.3 947.2,907.5 947.5,896.2 947.8,910.4 948.0,897.3 948.2,910.3 948.5,900.3 948.8,912.8 949.0,903.2 949.2,912.3 949.5,905.0 949.8,913.5 950.0,907.7 950.2,914.9 950.5,910.7 950.8,916.3 951.0,912.6 951.2,915.4 951.5,912.4 951.8,912.1 952.0,909.0 952.2,908.6 952.5,905.7 952.8,905.3 953.0,902.5 953.2,902.3 953.5,899.4 953.8,899.2 954.0,896.2 954.2,896.0 954.5,893.4 954.8,893.3 955.0,890.5 955.2,890.4 955.5,887.8 955.8,887.9 956.0,885.1 956.2,885.4 956.5,882.6 956.8,882.8 957.0,880.4 957.2,880.7 957.5,878.2 957.8,878.5 958.0,876.1 958.2,876.7 958.5,874.2 958.8,874.8 959.0,872.6 959.2,873.2 959.5,871.2 959.8,871.8 960.0,870.0 960.2,870.9 960.5,869.1 960.8,878.2 961.0,863.6 961.2,883.7 961.5,862.5 961.8,887.0 962.0,863.7 962.2,886.4 962.5,866.2 962.8,887.5 963.0,867.7 963.2,890.3 963.5,869.0 963.8,893.3 964.0,868.8 964.2,895.7 964.5,872.0 964.8,895.5 965.0,875.3 965.2,898.1 965.5,877.5 965.8,897.4 966.0,877.3 966.2,899.2 966.5,878.6 966.8,902.3 967.0,881.9 967.2,904.5 967.5,885.3 967.8,903.6 968.0,886.1 968.2,907.0 968.5,889.5 968.8,907.0 969.0,889.0 969.2,906.9 969.5,891.7 969.8,909.7 970.0,894.7 970.2,910.4 970.5,895.2 970.8,911.5 971.0,898.4 971.2,912.7 971.5,901.7 971.8,914.1 972.0,903.8 972.2,915.1 972.5,904.5 972.8,915.6 973.0,907.0 973.2,916.1 973.5,910.1 973.8,916.9 974.0,912.0 974.2,917.3 974.5,914.3 974.8,915.5 975.0,912.6 975.2,912.5 975.5,909.8 975.8,909.8 976.0,906.9 976.2,906.8 976.5,904.1 976.8,904.3 977.0,901.5 977.2,901.6 977.5,899.0 977.8,899.0 978.0,896.4 978.2,896.6 978.5,893.9 978.8,894.1 979.0,891.5 979.2,891.8 979.5,889.4 979.8,889.5 980.0,887.2 980.2,887.5 980.5,885.1 980.8,885.4 981.0,883.0 981.2,883.5 981.5,881.3 981.8,881.7 982.0,879.7 982.2,880.2 982.5,878.2 982.8,878.9 983.0,877.0 983.2,877.6 983.5,876.0 983.8,877.0 984.0,870.0 984.2,884.3 984.5,870.1 984.8,889.0 985.0,867.7 985.2,893.5 985.5,869.9 985.8,894.2 986.0,872.4 986.2,896.5 986.5,875.6 986.8,899.1 987.0,874.7 987.2,900.4 987.5,878.7 987.8,900.3 988.0,877.5 988.2,905.1 988.5,880.2 988.8,906.2 989.0,883.3 989.2,907.9 989.5,884.6 989.8,907.6 990.0,886.9 990.2,907.7 990.5,890.2 990.8,911.8 991.0,892.1 991.2,912.2 991.5,894.0 991.8,914.8 992.0,897.4 992.2,915.4 992.5,898.8 992.8,915.5 993.0,902.2 993.2,917.9 993.5,904.0 993.8,919.3 994.0,905.5 994.2,920.2 994.5,906.7 994.8,920.7 995.0,910.1 995.2,922.5 995.5,913.4 995.8,923.6 996.0,914.7 996.2,924.4 996.5,917.7 996.8,925.7 997.0,920.4 997.2,927.1 997.5,923.3 997.8,928.2 998.0,925.2 998.2,924.8 998.5,922.1 998.8,921.9 999.0,918.8 999.2,918.8 999.5,916.0 999.8,915.9 1000.0,913.2 1000.2,913.1 1000.5,910.4 1000.8,910.2 1001.0,907.6 1001.2,907.6 1001.5,905.1 1001.8,905.0 1002.0,902.4 1002.2,902.7 1002.5,900.2 1002.8,900.4 1003.0,897.8 1003.2,898.2 1003.5,895.7 1003.8,895.9 1004.0,893.5 1004.2,894.0 1004.5,891.7 1004.8,892.1 1005.0,889.9 1005.2,890.4 1005.5,888.3 1005.8,889.0 1006.0,886.9 1006.2,887.8 1006.5,885.9 1006.8,886.8 1007.0,885.1 1007.2,890.1 1007.5,879.3 1007.8,895.2 1008.0,878.7 1008.2,900.9 1008.5,876.5 1008.8,900.4 1009.0,880.4 1009.2,902.3 1009.5,881.7 1009.8,906.0 1010.0,883.7 1010.2,905.6 1010.5,884.5 1010.8,909.2 1011.0,886.8 1011.2,911.6 1011.5,887.2 1011.8,912.4 1012.0,888.9 1012.2,913.0 1012.5,892.8 1012.8,914.4 1013.0,895.2 1013.2,918.4 1013.5,895.1 1013.8,918.2 1014.0,899.8 1014.2,919.0 1014.5,899.8 1014.8,920.7 1015.0,904.3 1015.2,923.3 1015.5,905.4 1015.8,923.3 1016.0,906.4 1016.2,925.6 1016.5,911.1 1016.8,927.4 1017.0,912.0 1017.2,926.7 1017.5,913.0 1017.8,928.6 1018.0,915.9 1018.2,930.3 1018.5,919.4 1018.8,931.7 1019.0,921.1 1019.2,931.0 1019.5,923.6 1019.8,932.1 1020.0,925.5 1020.2,933.9 1020.5,928.7 1020.8,935.0 1021.0,930.8 1021.2,934.6 1021.5,931.7 1021.8,931.4 1022.0,928.5 1022.2,928.6 1022.5,925.7 1022.8,925.5 1023.0,922.8 1023.2,922.7 1023.5,919.9 1023.8,920.0 1024.0,917.2 1024.2,917.3 1024.5,914.7 1024.8,914.6 1025.0,912.1 1025.2,912.2 1025.5,909.6 1025.8,909.9 1026.0,907.2 1026.2,907.5 1026.5,905.1 1026.8,905.3 1027.0,902.9 1027.2,903.2 1027.5,900.9 1027.8,901.4 1028.0,899.2 1028.2,899.6 1028.5,897.5 1028.8,897.9 1029.0,895.7 1029.2,896.5 1029.5,894.4 1029.8,895.4 1030.0,893.5 1030.2,894.5 1030.5,892.8 1030.8,899.2 1031.0,887.7 1031.2,904.3 1031.5,884.4 1031.8,909.3 1032.0,885.2 1032.2,909.6 1032.5,887.2 1032.8,911.1 1033.0,890.7 1033.2,914.4 1033.5,892.1 1033.8,917.5 1034.0,894.1 1034.2,916.1 1034.5,893.5 1034.8,920.4 1035.0,898.1 1035.2,919.9 1035.5,898.4 1035.8,920.3 1036.0,901.0 1036.2,924.3 1036.5,901.6 1036.8,923.3 1037.0,905.4 1037.2,925.0 1037.5,906.2 1037.8,925.9 1038.0,907.3 1038.2,927.2 1038.5,911.0 1038.8,930.4 1039.0,911.8 1039.2,931.3 1039.5,914.2 1039.8,932.4 1040.0,918.1 1040.2,933.4 1040.5,919.2 1040.8,935.0 1041.0,920.9 1041.2,936.2 1041.5,924.2 1041.8,937.1 1042.0,926.4 1042.2,937.1 1042.5,929.1 1042.8,939.1 1043.0,931.0 1043.2,939.8 1043.5,933.4 1043.8,940.9 1044.0,936.3 1044.2,941.6 1044.5,938.4 1044.8,940.7 1045.0,937.6 1045.2,937.5 1045.5,934.7 1045.8,934.6 1046.0,931.7 1046.2,931.6 1046.5,928.9 1046.8,928.9 1047.0,926.1 1047.2,926.2 1047.5,923.6 1047.8,923.5 1048.0,920.8 1048.2,920.8 1048.5,918.4 1048.8,918.4 1049.0,915.8 1049.2,916.0 1049.5,913.6 1049.8,913.6 1050.0,911.2 1050.2,911.5 1050.5,909.1 1050.8,909.4 1051.0,907.2 1051.2,907.6 1051.5,905.3 1051.8,905.6 1052.0,903.5 1052.2,904.1 1052.5,902.0 1052.8,902.7 1053.0,900.7 1053.2,901.3 1053.5,899.6 1053.8,900.5 1054.0,894.9 1054.2,907.9 1054.5,893.2 1054.8,914.3 1055.0,893.5 1055.2,916.4 1055.5,895.4 1055.8,918.0 1056.0,893.6 1056.2,920.6 1056.5,895.6 1056.8,921.4 1057.0,900.6 1057.2,922.5 1057.5,899.8 1057.8,923.3 1058.0,902.1 1058.2,925.9 1058.5,902.8 1058.8,927.8 1059.0,907.2 1059.2,929.0 1059.5,908.5 1059.8,932.9 1060.0,910.7 1060.2,933.5 1060.5,913.0 1060.8,932.5 1061.0,914.9 1061.2,935.7 1061.5,917.1 1061.8,936.1 1062.0,920.4 1062.2,937.6 1062.5,923.2 1062.8,938.5 1063.0,924.6 1063.2,940.9 1063.5,925.1 1063.8,942.8 1064.0,928.4 1064.2,944.2 1064.5,930.8 1064.8,943.8 1065.0,932.8 1065.2,946.3 1065.5,935.4 1065.8,947.6 1066.0,937.8 1066.2,948.5 1066.5,941.4 1066.8,949.7 1067.0,943.2 1067.2,950.2 1067.5,945.7 1067.8,951.0 1068.0,949.0 1068.2,948.8 1068.5,945.8 1068.8,945.7 1069.0,942.8 1069.2,942.6 1069.5,939.7 1069.8,939.5 1070.0,936.8 1070.2,936.8 1070.5,934.0 1070.8,933.9 1071.0,931.3 1071.2,931.4 1071.5,928.6 1071.8,928.8 1072.0,926.0 1072.2,926.4 1072.5,923.7 1072.8,923.9 1073.0,921.4 1073.2,921.6 1073.5,919.2 1073.8,919.5 1074.0,917.2 1074.2,917.6 1074.5,915.4 1074.8,915.8 1075.0,913.6 1075.2,914.0 1075.5,911.9 1075.8,912.4 1076.0,910.5 1076.2,911.1 1076.5,909.4 1076.8,910.2 1077.0,908.5 1077.2,909.6 1077.5,902.7 1077.8,918.3 1078.0,902.5 1078.2,924.9 1078.5,902.9 1078.8,926.3 1079.0,902.9 1079.2,926.6 1079.5,906.4 1079.8,928.2 1080.0,908.4 1080.2,931.3 1080.5,907.2 1080.8,930.4 1081.0,909.7 1081.2,932.3 1081.5,910.6 1081.8,934.0 1082.0,914.5 1082.2,936.0 1082.5,913.2 1082.8,939.4 1083.0,917.5 1083.2,940.6 1083.5,919.8 1083.8,939.6 1084.0,920.0 1084.2,940.5 1084.5,922.5 1084.8,944.9 1085.0,926.9 1085.2,945.8 1085.5,926.8 1085.8,944.5 1086.0,930.0 1086.2,946.5 1086.5,932.3 1086.8,948.2 1087.0,934.3 1087.2,948.5 1087.5,936.7 1087.8,950.6 1088.0,938.1 1088.2,952.6 1088.5,940.3 1088.8,953.4 1089.0,942.6 1089.2,954.2 1089.5,946.0 1089.8,954.4 1090.0,947.9 1090.2,956.1 1090.5,951.0 1090.8,957.0 1091.0,952.8 1091.2,958.1 1091.5,954.6 1091.8,954.5 1092.0,951.5 1092.2,951.2 1092.5,948.5 1092.8,948.4 1093.0,945.6 1093.2,945.5 1093.5,942.7 1093.8,942.5 1094.0,939.8 1094.2,939.7 1094.5,937.2 1094.8,937.1 1095.0,934.4 1095.2,934.5 1095.5,932.0 1095.8,932.1 1096.0,929.4 1096.2,929.6 1096.5,927.1 1096.8,927.2 1097.0,925.0 1097.2,925.1 1097.5,922.9 1097.8,923.2 1098.0,920.8 1098.2,921.2 1098.5,919.0 1098.8,919.4 1099.0,917.2 1099.2,917.9 1099.5,915.8 1099.8,916.5 1100.0,914.7 1100.2,915.6 1100.5,913.8 1100.8,919.4 1101.0,907.9 1101.2,926.8 1101.5,906.0 1101.8,931.4 1102.0,907.1 1102.2,932.7 1102.5,911.0 1102.8,933.4 1103.0,910.8 1103.2,934.0 1103.5,910.9 1103.8,934.7 1104.0,914.3 1104.2,937.3 1104.5,914.1 1104.8,940.9 1105.0,918.9 1105.2,940.0 1105.5,921.4 1105.8,941.8 1106.0,919.8 1106.2,945.9 1106.5,922.5 1106.8,945.4 1107.0,925.9 1107.2,947.4 1107.5,926.9 1107.8,946.7 1108.0,931.2 1108.2,950.0 1108.5,933.4 1108.8,952.5 1109.0,935.8 1109.2,953.9 1109.5,937.4 1109.8,952.9 1110.0,939.0 1110.2,955.5 1110.5,939.7 1110.8,956.5 1111.0,942.1 1111.2,958.8 1111.5,944.4 1111.8,958.6 1112.0,948.1 1112.2,959.0 1112.5,950.7 1112.8,960.7 1113.0,953.6 1113.2,962.4 1113.5,955.8 1113.8,962.6 1114.0,958.5 1114.2,963.7 1114.5,960.4 1114.8,963.5 1115.0,960.5 1115.2,960.2 1115.5,957.2 1115.8,957.1 1116.0,954.2 1116.2,954.0 1116.5,951.0 1116.8,951.1 1117.0,948.0 1117.2,948.0 1117.5,945.1 1117.8,945.2 1118.0,942.4 1118.2,942.5 1118.5,939.6 1118.8,939.8 1119.0,937.0 1119.2,937.2 1119.5,934.4 1119.8,934.7 1120.0,932.2 1120.2,932.2 1120.5,929.9 1120.8,930.0 1121.0,927.7 1121.2,927.9 1121.5,925.4 1121.8,926.1 1122.0,923.8 1122.2,924.2 1122.5,922.0 1122.8,922.6 1123.0,920.6 1123.2,921.1 1123.5,919.3 1123.8,920.1 1124.0,918.5 1124.2,926.0 1124.5,911.6 1124.8,933.9 1125.0,911.3 1125.2,934.9 1125.5,911.0 1125.8,936.1 1126.0,913.3 1126.2,939.6 1126.5,918.7 1126.8,939.7 1127.0,917.6 1127.2,940.6 1127.5,918.9 1127.8,945.9 1128.0,921.2 1128.2,947.4 1128.5,923.7 1128.8,949.2 1129.0,926.1 1129.2,949.2 1129.5,927.4 1129.8,950.8 1130.0,931.2 1130.2,951.6 1130.5,933.0 1130.8,953.4 1131.0,934.1 1131.2,956.3 1131.5,936.3 1131.8,957.9 1132.0,940.0 1132.2,957.8 1132.5,940.8 1132.8,958.7 1133.0,943.5 1133.2,961.2 1133.5,945.9 1133.8,963.1 1134.0,948.2 1134.2,963.3 1134.5,952.1 1134.8,966.4 1135.0,952.6 1135.2,966.5 1135.5,955.8 1135.8,966.8 1136.0,958.8 1136.2,968.8 1136.5,961.0 1136.8,969.5 1137.0,964.4 1137.2,971.4 1137.5,966.2 1137.8,971.9 1138.0,968.9 1138.2,970.4 1138.5,967.4 1138.8,967.1 1139.0,964.0 1139.2,963.7 1139.5,960.9 1139.8,960.6 1140.0,957.6 1140.2,957.5 1140.5,954.7 1140.8,954.6 1141.0,951.7 1141.2,951.5 1141.5,948.8 1141.8,948.7 1142.0,945.9 1142.2,946.1 1142.5,943.3 1142.8,943.4 1143.0,940.8 1143.2,940.9 1143.5,938.4 1143.8,938.5 1144.0,936.0 1144.2,936.3 1144.5,933.8 1144.8,934.1 1145.0,931.9 1145.2,932.1 1145.5,929.9 1145.8,930.4 1146.0,928.3 1146.2,929.0 1146.5,927.0 1146.8,927.8 1147.0,925.7 1147.2,926.7 1147.5,921.2 1147.8,935.6 1148.0,918.6 1148.2,941.2 1148.5,918.3 1148.8,944.5 1149.0,919.6 1149.2,943.8 1149.5,921.6 1149.8,946.3 1150.0,922.6 1150.2,948.3 1150.5,928.4 1150.8,952.1 1151.0,929.3 1151.2,953.6 1151.5,929.8 1151.8,955.2 1152.0,931.3 1152.2,957.8 1152.5,933.0 1152.8,958.3 1153.0,937.3 1153.2,959.2 1153.5,939.8 1153.8,960.1 1154.0,941.5 1154.2,962.0 1154.5,944.4 1154.8,963.1 1155.0,946.6 1155.2,964.3 1155.5,948.1 1155.8,965.6 1156.0,951.5 1156.2,967.4 1156.5,952.5 1156.8,969.3 1157.0,956.5 1157.2,972.2 1157.5,957.9 1157.8,973.7 1158.0,960.6 1158.2,973.9 1158.5,962.7 1158.8,974.6 1159.0,964.6 1159.2,976.0 1159.5,967.5 1159.8,978.1 1160.0,970.5 1160.2,978.7 1160.5,973.1 1160.8,980.3 1161.0,976.3 1161.2,981.2 1161.5,978.8 1161.8,978.4 1162.0,975.2 1162.2,974.9 1162.5,971.8 1162.8,971.6 1163.0,968.6 1163.2,968.3 1163.5,965.4 1163.8,965.1 1164.0,962.2 1164.2,962.1 1164.5,959.3 1164.8,959.1 1165.0,956.3 1165.2,956.2 1165.5,953.5 1165.8,953.6 1166.0,951.0 1166.2,951.1 1166.5,948.5 1166.8,948.5 1167.0,946.0 1167.2,946.2 1167.5,943.7 1167.8,944.0 1168.0,941.5 1168.2,941.8 1168.5,939.6 1168.8,940.1 1169.0,937.8 1169.2,938.4 1169.5,936.4 1169.8,936.9 1170.0,935.1 1170.2,935.9 1170.5,934.1 1170.8,935.2 1171.0,928.1 1171.2,944.7 1171.5,925.3 1171.8,949.2 1172.0,928.0 1172.2,951.4 1172.5,928.0 1172.8,953.9 1173.0,929.6 1173.2,953.3 1173.5,931.4 1173.8,955.9 1174.0,933.5 1174.2,957.1 1174.5,935.4 1174.8,961.3 1175.0,937.9 1175.2,962.1 1175.5,940.9 1175.8,962.9 1176.0,944.0 1176.2,966.2 1176.5,945.4 1176.8,965.3 1177.0,948.2 1177.2,967.3 1177.5,950.3 1177.8,969.7 1178.0,950.1 1178.2,971.6 1178.5,952.9 1178.8,971.5 1179.0,955.3 1179.2,975.2 1179.5,956.7 1179.8,976.1 1180.0,960.1 1180.2,978.2 1180.5,963.6 1180.8,979.1 1181.0,964.3 1181.2,980.3 1181.5,967.6 1181.8,979.9 1182.0,970.5 1182.2,982.3 1182.5,972.7 1182.8,983.8 1183.0,975.5 1183.2,984.6 1183.5,977.5 1183.8,985.0 1184.0,980.3 1184.2,986.2 1184.5,982.7 1184.8,987.2 1185.0,983.4 1185.2,983.1 1185.5,979.9 1185.8,979.6 1186.0,976.5 1186.2,976.3 1186.5,973.2 1186.8,973.0 1187.0,970.2 1187.2,969.9 1187.5,967.2 1187.8,966.9 1188.0,964.1 1188.2,964.1 1188.5,961.4 1188.8,961.3 1189.0,958.5 1189.2,958.5 1189.5,955.8 1189.8,955.9 1190.0,953.4 1190.2,953.5 1190.5,950.8 1190.8,951.0 1191.0,948.7 1191.2,948.9 1191.5,946.5 1191.8,946.8 1192.0,944.5 1192.2,945.0 1192.5,942.8 1192.8,943.4 1193.0,941.2 1193.2,941.9 1193.5,940.0 1193.8,940.8 1194.0,939.3 1194.2,945.7 1194.5,934.1 1194.8,953.5 1195.0,931.2 1195.2,954.3 1195.5,933.3 1195.8,955.3 1196.0,936.2 1196.2,959.4 1196.5,936.1 1196.8,961.2 1197.0,936.7 1197.2,964.4 1197.5,939.1 1197.8,964.2 1198.0,941.2 1198.2,965.1 1198.5,942.6 1198.8,966.9 1199.0,943.9 1199.2,967.6 1199.5,946.9 1199.8,970.9 1200.0,949.0 1200.2,972.3 1200.5,951.2 1200.8,974.4 1201.0,954.1 1201.2,976.5 1201.5,958.1 1201.8,977.8 1202.0,958.9 1202.2,978.4 1202.5,960.7 1202.8,978.8 1203.0,963.3 1203.2,981.8 1203.5,965.6 1203.8,983.0 1204.0,969.0 1204.2,983.4 1204.5,969.4 1204.8,984.2 1205.0,973.3 1205.2,986.1 1205.5,974.3 1205.8,986.3 1206.0,978.0 1206.2,988.1 1206.5,979.4 1206.8,989.0 1207.0,981.9 1207.2,989.3 1207.5,984.7 1207.8,990.6 1208.0,987.4 1208.2,989.5 1208.5,986.4 1208.8,986.3 1209.0,983.3 1209.2,983.0 1209.5,980.1 1209.8,980.0 1210.0,977.1 1210.2,976.9 1210.5,974.0 1210.8,974.0 1211.0,971.2 1211.2,971.1 1211.5,968.3 1211.8,968.4 1212.0,965.5 1212.2,965.7 1212.5,962.8 1212.8,962.9 1213.0,960.5 1213.2,960.5 1213.5,958.0 1213.8,958.2 1214.0,955.6 1214.2,955.8 1214.5,953.4 1214.8,953.6 1215.0,951.3 1215.2,951.9 1215.5,949.6 1215.8,950.1 1216.0,947.8 1216.2,948.4 1216.5,946.2 1216.8,947.1 1217.0,945.2 1217.2,946.2 1217.5,940.8 1217.8,953.8 1218.0,938.0 1218.2,960.5 1218.5,939.4 1218.8,960.6 1219.0,939.4 1219.2,961.5 1219.5,940.6 1219.8,966.5 1220.0,941.4 1220.2,965.4 1220.5,944.8 1220.8,970.6 1221.0,948.3 1221.2,971.3 1221.5,949.3 1221.8,973.9 1222.0,949.8 1222.2,975.7 1222.5,953.9 1222.8,976.0 1223.0,954.7 1223.2,975.6 1223.5,957.0 1223.8,979.4 1224.0,958.6 1224.2,980.3 1224.5,962.0 1224.8,981.5 1225.0,963.7 1225.2,984.3 1225.5,964.7 1225.8,984.2 1226.0,968.2 1226.2,985.4 1226.5,970.3 1226.8,986.5 1227.0,971.6 1227.2,988.8 1227.5,976.5 1227.8,990.1 1228.0,976.6 1228.2,991.6 1228.5,980.6 1228.8,994.2 1229.0,982.6 1229.2,994.3 1229.5,986.4 1229.8,995.7 1230.0,988.8 1230.2,997.6 1230.5,991.4 1230.8,998.9 1231.0,993.8 1231.2,1000.0 1231.5,997.9 1231.8,997.3 1231.8,999.0 1231.8,998.5 1231.9,997.9 1232.1,996.8 1232.2,995.7 1232.4,994.6 1232.5,993.5 1232.7,992.4 1232.9,991.4 1233.0,990.3 1233.2,989.2 1233.3,988.1 1233.5,987.0 1233.7,985.9 1233.8,984.8 1234.0,983.7 1234.1,982.6 1234.3,981.5 1234.5,980.4 1234.6,979.3 1234.8,978.3 1234.9,977.2 1235.1,976.1 1235.3,975.0 1235.4,973.9 1235.6,972.8 1235.8,971.7 1235.9,970.6 1236.1,969.5 1236.3,968.4 1236.4,967.3 1236.6,966.2 1236.8,965.2 1236.9,964.1 1237.1,963.0 1237.3,961.9 1237.4,960.8 1237.6,959.7 1237.8,958.6 1238.0,957.5 1238.1,956.4 1238.3,955.3 1238.5,954.2 1238.6,953.1 1238.8,952.1 1239.0,951.0 1239.2,949.9 1239.3,948.8 1239.5,947.7 1239.7,946.6 1239.9,945.5 1240.0,944.4 1240.2,943.3 1240.4,942.2 1240.6,941.1 1240.7,940.0 1240.9,939.0 1241.1,937.9 1241.3,936.8 1241.4,935.7 1241.6,934.6 1241.8,933.5 1242.0,932.4 1242.2,931.3 1242.3,930.2 1242.5,929.1 1242.7,928.0 1242.9,927.0 1243.1,925.9 1243.2,924.8 1243.4,923.7 1243.6,922.6 1243.8,921.5 1244.0,920.4 1244.2,919.3 1244.3,918.2 1244.5,917.1 1244.7,916.1 1244.9,915.0 1245.1,913.9 1245.3,912.8 1245.5,911.7 1245.6,910.6 1245.8,909.5 1246.0,908.4 1246.2,907.3 1246.4,906.2 1246.6,905.1 1246.8,904.1 1246.9,903.0 1247.1,901.9 1247.3,900.8 1247.5,899.7 1247.7,898.6 1247.9,897.5 1248.1,896.4 1248.3,895.3 1248.5,894.2 1248.7,893.2 1248.8,892.1 1249.0,891.0 1249.2,889.9 1249.4,888.8 1249.6,887.7 1249.8,886.6 1250.0,885.5 1250.2,884.4 1250.4,883.4 1250.6,882.3 1250.8,881.2 1251.0,880.1 1251.2,879.0 1251.4,877.9 1251.5,876.8 1251.7,875.7 1251.9,874.6 1252.1,873.6 1252.3,872.5 1252.5,871.4 1252.7,870.3 1252.9,869.2 1253.1,868.1 1253.3,867.0 1253.5,865.9 1253.7,864.8 1253.9,863.8 1254.1,862.7 1254.3,861.6 1254.5,860.5 1254.7,859.4 1254.9,858.3 1255.1,857.2 1255.3,856.1 1255.5,855.0 1255.7,854.0 1255.9,852.9 1256.1,851.8 1256.3,850.7 1256.5,849.6 1256.7,848.5 1256.9,847.4 1257.1,846.3 1257.3,845.3 1257.5,844.2 1257.7,843.1 1257.9,842.0 1258.1,840.9 1258.3,839.8 1258.5,838.7 1258.7,837.6 1258.9,836.6 1259.1,835.5 1259.3,834.4 1259.5,833.3 1259.7,832.2 1259.9,831.1 1260.1,830.0 1260.4,829.0 1260.6,827.9 1260.8,826.8 1261.0,825.7 1261.2,824.6 1261.4,823.5 1261.6,822.4 1261.8,821.3 1262.0,820.3 1262.2,819.2 1262.4,818.1 1262.6,817.0 1262.8,815.9 1263.0,814.8 1263.2,813.7 1263.4,812.7 1263.6,811.6 1263.9,810.5 1264.1,809.4 1264.3,808.3 1264.5,807.2 1264.7,806.1 1264.9,805.1 1265.1,804.0 1265.3,802.9 1265.5,801.8 1265.7,800.7 1265.9,799.6 1266.1,798.6 1266.4,797.5 1266.6,796.4 1266.8,795.3 1267.0,794.2 1267.2,793.1 1267.4,792.0 1267.6,791.0 1267.8,789.9 1268.0,788.8 1268.2,787.7 1268.4,786.6 1268.7,785.5 1268.9,784.5 1269.1,783.4 1269.3,782.3 1269.5,781.2 1269.7,780.1 1269.9,779.0 1270.1,778.0 1270.3,776.9 1270.6,775.8 1270.8,774.7 1271.0,773.6 1271.2,772.5 1271.4,771.5 1271.6,770.4 1271.8,769.3 1272.0,768.2 1272.2,767.1 1272.5,766.1 1272.7,765.0 1272.9,763.9 1273.1,762.8 1273.3,761.7 1273.5,760.6 1273.7,759.6 1273.9,758.5 1274.2,757.4 1274.4,756.3 1274.6,755.2 1274.8,754.2 1275.0,753.1 1275.2,752.0 1275.4,750.9 1275.6,749.8 1275.9,748.7 1276.1,747.7 1276.3,746.6 1276.5,745.5 1276.7,744.4 1276.9,743.3 1277.1,742.3 1277.4,741.2 1277.6,740.1 1277.8,739.0 1278.0,737.9 1278.2,736.9 1278.4,735.8 1278.7,734.7 1278.9,733.6 1279.1,732.5 1279.3,731.5 1279.5,730.4 1279.7,729.3 1280.0,728.2 1280.2,727.1 1280.4,726.1 1280.6,725.0 1280.8,723.9 1281.1,722.8 1281.3,721.8 1281.5,720.7 1281.7,719.6 1282.0,718.5 1282.2,717.4 1282.4,716.4 1282.6,715.3 1282.9,714.2 1283.1,713.1 1283.3,712.1 1283.5,711.0 1283.8,709.9 1284.0,708.8 1284.2,707.7 1284.4,706.7 1284.7,705.6 1284.9,704.5 1285.1,703.4 1285.4,702.4 1285.6,701.3 1285.8,700.2 1286.1,699.1 1286.3,698.1 1286.5,697.0 1286.8,695.9 1287.0,694.8 1287.2,693.7 1287.5,692.7 1287.7,691.6 1287.9,690.5 1288.2,689.4 1288.4,688.4 1288.7,687.3 1288.9,686.2 1289.1,685.1 1289.4,684.1 1289.6,683.0 1289.9,681.9 1290.1,680.8 1290.3,679.8 1290.6,678.7 1290.8,677.6 1291.1,676.6 1291.3,675.5 1291.6,674.4 1291.8,673.3 1292.1,672.3 1292.3,671.2 1292.6,670.1 1292.8,669.0 1293.1,668.0 1293.3,666.9 1293.6,665.8 1293.9,664.7 1294.1,663.7 1294.4,662.6 1294.6,661.5 1294.9,660.5 1295.2,659.4 1295.4,658.3 1295.7,657.2 1295.9,656.2 1296.2,655.1 1296.5,654.0 1296.7,653.0 1297.0,651.9 1297.3,650.8 1297.5,649.7 1297.8,648.7 1298.1,647.6 1298.4,646.5 1298.6,645.5 1298.9,644.4 1299.2,643.3 1299.5,642.2 1299.7,641.2 1300.0,640.1 1300.3,639.0 1300.6,638.0 1300.8,636.9 1301.1,635.8 1301.4,634.8 1301.7,633.7 1302.0,632.6 1302.3,631.6 1302.6,630.5 1302.9,629.4 1303.1,628.4 1303.4,627.3 1303.7,626.2 1304.0,625.2 1304.3,624.1 1304.6,623.0 1304.9,622.0 1305.2,620.9 1305.5,619.8 1305.8,618.8 1306.1,617.7 1306.4,616.6 1306.7,615.6 1307.1,614.5 1307.4,613.4 1307.7,612.4 1308.0,611.3 1308.3,610.2 1308.6,609.2 1308.9,608.1 1309.3,607.1 1309.6,606.0 1309.9,604.9 1310.2,603.9 1310.6,602.8 1310.9,601.8 1311.2,600.7 1311.5,599.6 1311.9,598.6 1312.2,597.5 1312.5,596.5 1312.9,595.4 1313.2,594.4 1313.6,593.3 1313.9,592.2 1314.3,591.2 1314.6,590.1 1315.0,589.1 1315.3,588.0 1315.7,587.0 1316.0,585.9 1316.4,584.9 1316.7,583.8 1317.1,582.8 1317.4,581.7 1317.8,580.7 1318.2,579.6 1318.6,578.6 1318.9,577.5 1319.3,576.5 1319.7,575.5 1320.0,574.4 1320.4,573.4 1320.8,572.3 1321.2,571.3 1321.6,570.3 1322.0,569.2 1322.4,568.2 1322.7,567.1 1323.1,566.1 1323.5,565.1 1323.9,564.0 1324.3,563.0 1324.7,562.0 1325.2,560.9 1325.6,559.9 1326.0,558.9 1326.4,557.8 1326.8,556.8 1327.2,555.8 1327.6,554.8 1328.1,553.7 1328.5,552.7 1328.9,551.7 1329.3,550.7 1329.8,549.6 1330.2,548.6 1330.7,547.6 1331.1,546.6 1331.5,545.5 1332.0,544.5 1332.4,543.5 1332.9,542.5 1333.3,541.5 1333.8,540.5 1334.3,539.5 1334.7,538.5 1335.2,537.4 1335.6,536.4 1336.1,535.4 1336.6,534.4 1337.1,533.4 1337.5,532.4 1338.0,531.4 1338.5,530.4 1339.0,529.4 1339.5,528.4 1340.0,527.4 1340.5,526.4 1341.0,525.4 1341.5,524.4 1342.0,523.4 1342.5,522.4 1343.0,521.4 1343.5,520.5 1344.0,519.5 1344.5,518.5 1345.0,517.5 1345.5,516.5 1346.0,515.5 1346.5,514.6 1347.1,513.6 1347.6,512.6 1348.1,511.6 1348.6,510.6 1349.2,509.7 1349.7,508.7 1350.2,507.7 1350.7,506.8 1351.3,505.8 1351.8,504.8 1352.3,503.9 1352.9,502.9 1353.4,501.9 1354.0,501.0 1354.5,500.0 1355.0,499.0 1355.6,498.1 1356.1,497.1 1356.7,496.2 1357.2,495.2 1357.7,494.3 1358.3,493.3 1358.8,492.4 1359.4,491.4 1359.9,490.5 1360.5,489.5 1361.0,488.6 1361.6,487.7 1362.1,486.7 1362.7,485.8 1363.2,484.9 1363.8,483.9 1364.4,483.0 1364.9,482.1 1365.5,481.1 1366.1,480.2 1366.6,479.3 1367.2,478.4 1367.8,477.4 1368.4,476.5 1368.9,475.6 1369.5,474.7 1370.1,473.8 1370.7,472.9 1371.3,472.0 1371.9,471.1 1372.5,470.1 1373.1,469.2 1373.7,468.3 1374.3,467.4 1374.9,466.5 1375.5,465.6 1376.1,464.8 1376.7,463.9 1377.4,463.0 1378.0,462.1 1378.6,461.2 1379.2,460.3 1379.9,459.4 1380.5,458.5 1381.2,457.7 1381.8,456.8 1382.5,455.9 1383.1,455.0 1383.8,454.2 1384.4,453.3 1385.1,452.4 1385.8,451.6 1386.5,450.7 1387.2,449.8 1387.8,449.0 1388.5,448.1 1389.2,447.3 1389.9,446.4 1390.6,445.6 1391.4,444.7 1392.1,443.9 1392.8,443.0 1393.5,442.2 1394.2,441.4 1395.0,440.5 1395.7,439.7 1396.5,438.9 1397.2,438.0 1398.0,437.2 1398.7,436.4 1399.5,435.6 1400.2,434.8 1401.0,434.0 1401.8,433.2 1402.6,432.4 1403.3,431.6 1404.1,430.8 1404.9,430.0 1405.7,429.2 1406.5,428.4 1407.3,427.6 1408.1,426.8 1408.9,426.1 1409.7,425.3 1410.5,424.5 1411.4,423.8 1412.2,423.0 1413.0,422.3 1413.8,421.5 1414.7,420.8 1415.5,420.0 1416.3,419.3 1417.2,418.6 1418.0,417.8 1418.9,417.1 1419.8,416.4 1420.6,415.7 1421.5,415.0 1422.3,414.3 1423.2,413.6 1424.1,412.9 1425.0,412.2 1425.8,411.5 1426.7,410.9 1427.6,410.2 1428.5,409.5 1429.4,408.9 1430.3,408.2 1431.2,407.6 1432.1,406.9 1433.0,406.3 1433.9,405.6 1434.8,405.0 1435.7,404.4 1436.6,403.7 1437.6,403.1 1438.5,402.5 1439.4,401.9 1440.3,401.3 1441.3,400.7 1442.2,400.1 1443.2,399.5 1444.1,399.0 1445.0,398.4 1446.0,397.8 1446.9,397.2 1447.9,396.7 1448.8,396.1 1449.8,395.6 1450.8,395.0 1451.7,394.5 1452.7,394.0 1453.7,393.4 1454.6,392.9 1455.6,392.4 1456.6,391.9 1457.5,391.4 1458.5,390.9 1459.5,390.4 1460.5,389.9 1461.5,389.4 1462.5,388.9 1463.5,388.4 1464.4,388.0 1465.4,387.5 1466.4,387.0 1467.4,386.6 1468.4,386.1 1469.4,385.7 1470.4,385.3 1471.5,384.8 1472.5,384.4 1473.5,384.0 1474.5,383.5 1475.5,383.1 1476.5,382.7 1477.5,382.3 1478.6,381.9 1479.6,381.5 1480.6,381.1 1481.6,380.7 1482.7,380.3 1483.7,379.9 1484.7,379.5 1485.8,379.2 1486.8,378.8 1487.8,378.4 1488.9,378.0 1489.9,377.7 1490.9,377.3 1492.0,377.0 1493.0,376.6 1494.1,376.3 1495.1,375.9 1496.2,375.6 1497.2,375.3 1498.3,374.9 1499.3,374.6 1500.4,374.3 1501.4,374.0 1502.5,373.6 1503.5,373.3 1504.6,373.0 1505.6,372.7 1506.7,372.4 1507.8,372.1 1508.8,371.8 1509.9,371.5 1511.0,371.2 1512.0,370.9 1513.1,370.7 1514.1,370.4 1515.2,370.1 1516.3,369.8 1517.3,369.5 1518.4,369.3 1519.5,369.0 1520.6,368.7 1521.6,368.5 1522.7,368.2 1523.8,368.0 1524.8,367.7 1525.9,367.4 1527.0,367.2 1528.1,366.9 1529.1,366.7 1530.2,366.5 1531.3,366.2 1532.4,366.0 1533.5,365.7 1534.5,365.5 1535.6,365.3 1536.7,365.0 1537.8,364.8 1538.8,364.6 1539.9,364.4 1541.0,364.2 1542.1,363.9 1543.2,363.7 1544.3,363.5 1545.3,363.3 1546.4,363.1 1547.5,362.9 1548.6,362.7 1549.7,362.5 1550.8,362.3 1551.8,362.1 1552.9,361.9 1554.0,361.7 1555.1,361.5 1556.2,361.3 1557.3,361.1 1558.4,360.9 1559.4,360.7 1560.5,360.6 1561.6,360.4 1562.7,360.2 1563.8,360.0 1564.9,359.9 1566.0,359.7 1567.1,359.5 1568.2,359.4 1569.3,359.2 1570.3,359.0 1571.4,358.9 1572.5,358.7 1573.6,358.5 1574.7,358.4 1575.8,358.2 1576.9,358.1 1578.0,357.9 1579.1,357.8 1580.2,357.6 1581.3,357.5 1582.4,357.3 1583.5,357.2 1584.6,357.1 1585.7,356.9 1586.8,356.8 1587.9,356.6 1589.0,356.5 1590.1,356.4 1591.2,356.2 1592.3,356.1 1593.4,356.0 1594.5,355.9 1595.6,355.7 1596.7,355.6 1597.8,355.5 1598.9,355.4 1600.0,355.3 1601.1,355.1 1602.2,355.0 1603.3,354.9 1604.4,354.8 1605.5,354.7 1606.6,354.6 1607.7,354.5 1608.8,354.4 1609.9,354.3 1611.0,354.2 1612.1,354.1 1613.2,354.0 1614.3,353.9 1615.4,353.8 1616.5,353.7 1617.6,353.6 1618.7,353.5 1619.8,353.4 1620.9,353.3 1622.0,353.2 1623.1,353.1 1624.2,353.0 1625.3,352.9 1626.4,352.9 1627.5,352.8 1628.6,352.7 1629.7,352.6 1630.8,352.5 1632.0,352.5 1633.1,352.4 1634.2,352.3 1635.3,352.2 1636.4,352.2 1637.5,352.1 1638.6,352.0 1639.7,351.9 1640.8,351.9 1641.9,351.8 1643.0,351.7 1644.1,351.7 1645.2,351.6 1646.3,351.5 1647.4,351.5 1648.6,351.4 1649.7,351.3 1650.8,351.3 1651.9,351.2 1653.0,351.2 1654.1,351.1 1655.2,351.0 1656.3,351.0 1657.4,350.9 1658.5,350.9 1659.6,350.8 1660.7,350.8 1661.8,350.7 1663.0,350.7 1664.1,350.6 1665.2,350.6 1666.3,350.5 1667.4,350.5 1668.5,350.4 1669.6,350.4 1670.7,350.3 1671.8,350.3 1672.9,350.2 1674.0,350.2 1675.1,350.1 1676.3,350.1 1677.4,350.1 1678.5,350.0 1679.6,350.0 1680.7,349.9 1681.8,349.9 1682.9,349.9 1684.0,349.8 1685.1,349.8 1686.2,349.7 1687.3,349.7 1688.4,349.7 1689.6,349.6 1690.7,349.6 1691.8,349.6 1692.9,349.5 1694.0,349.5 1695.1,349.5 1696.2,349.4 1697.3,349.4 1698.4,349.3 1699.5,349.3 1700.6,349.3 1701.7,349.3 1702.8,349.2 1703.9,349.2 1705.0,349.2 1706.2,349.1 1707.3,349.1 1708.4,349.1 1709.5,349.0 1710.6,349.0 1711.7,349.0 1712.8,348.9 1713.9,348.9 1715.0,348.9 1716.1,348.9 1717.2,348.8 1718.3,348.8 1719.4,348.8 1720.5,348.7 1721.6,348.7 1722.7,348.7 1723.8,348.6 1724.9,348.6 1726.0,348.6 1727.1,348.6 1728.2,348.5 1729.3,348.5 1730.4,348.5 1731.5,348.4 1732.7,348.4 1733.8,348.4 1734.9,348.4 1736.0,348.3 1737.1,348.3 1738.2,348.3 1739.3,348.2 1740.4,348.2 1741.5,348.2 1742.6,348.2 1743.7,348.1 1744.8,348.1 1745.9,348.1 1746.9,348.0 1748.0,348.0 1749.1,348.0 1750.2,347.9 1751.3,347.9 1752.4,347.9 1753.5,347.8 1754.6,347.8 1755.7,347.8 1756.8,347.7 1757.9,347.7 1759.0,347.7 1760.1,347.6 1761.2,347.6 1762.3,347.6 1763.4,347.5 1764.5,347.5 1765.6,347.5 1766.7,347.4 1767.8,347.4 1768.9,347.3 1769.9,347.3 1771.0,347.3 1772.1,347.2 1773.2,347.2 1774.3,347.2 1775.4,347.1 1776.5,347.1"/>
<!-- annotation arrows -->
<g stroke="#000" stroke-width="2.1" fill="none">
<line x1="1714.8" y1="489.4" x2="1606" y2="367.5"/>
<line x1="1002.4" y1="1118.7" x2="876.5" y2="927"/>
</g>
<polygon points="1586.3,345.3 1614.6,364.4 1602.1,375.5" fill="#000"/>
<polygon points="860.6,903 885.3,925.3 871.3,934.6" fill="#000"/>
<!-- axes -->
<g stroke="#000" stroke-width="4" stroke-linecap="butt">
<line x1="229.5" y1="192" x2="1975" y2="192"/>
<line x1="229.5" y1="1456" x2="1975" y2="1456"/>
<line x1="256.5" y1="190" x2="256.5" y2="1458"/>
<line x1="230" y1="192.0" x2="256.5" y2="192.0"/>
<line x1="230" y1="262.2" x2="256.5" y2="262.2"/>
<line x1="230" y1="332.4" x2="256.5" y2="332.4"/>
<line x1="230" y1="402.7" x2="256.5" y2="402.7"/>
<line x1="230" y1="472.9" x2="256.5" y2="472.9"/>
<line x1="230" y1="543.1" x2="256.5" y2="543.1"/>
<line x1="230" y1="613.3" x2="256.5" y2="613.3"/>
<line x1="230" y1="683.6" x2="256.5" y2="683.6"/>
<line x1="230" y1="753.8" x2="256.5" y2="753.8"/>
<line x1="230" y1="824.0" x2="256.5" y2="824.0"/>
<line x1="230" y1="894.2" x2="256.5" y2="894.2"/>
<line x1="230" y1="964.4" x2="256.5" y2="964.4"/>
<line x1="230" y1="1034.7" x2="256.5" y2="1034.7"/>
<line x1="230" y1="1104.9" x2="256.5" y2="1104.9"/>
<line x1="230" y1="1175.1" x2="256.5" y2="1175.1"/>
<line x1="230" y1="1245.3" x2="256.5" y2="1245.3"/>
<line x1="230" y1="1315.6" x2="256.5" y2="1315.6"/>
<line x1="230" y1="1385.8" x2="256.5" y2="1385.8"/>
<line x1="230" y1="1456.0" x2="256.5" y2="1456.0"/>
<line x1="242.5" y1="227.1" x2="256.5" y2="227.1"/>
<line x1="242.5" y1="297.3" x2="256.5" y2="297.3"/>
<line x1="242.5" y1="367.6" x2="256.5" y2="367.6"/>
<line x1="242.5" y1="437.8" x2="256.5" y2="437.8"/>
<line x1="242.5" y1="508.0" x2="256.5" y2="508.0"/>
<line x1="242.5" y1="578.2" x2="256.5" y2="578.2"/>
<line x1="242.5" y1="648.4" x2="256.5" y2="648.4"/>
<line x1="242.5" y1="718.7" x2="256.5" y2="718.7"/>
<line x1="242.5" y1="788.9" x2="256.5" y2="788.9"/>
<line x1="242.5" y1="859.1" x2="256.5" y2="859.1"/>
<line x1="242.5" y1="929.3" x2="256.5" y2="929.3"/>
<line x1="242.5" y1="999.6" x2="256.5" y2="999.6"/>
<line x1="242.5" y1="1069.8" x2="256.5" y2="1069.8"/>
<line x1="242.5" y1="1140.0" x2="256.5" y2="1140.0"/>
<line x1="242.5" y1="1210.2" x2="256.5" y2="1210.2"/>
<line x1="242.5" y1="1280.4" x2="256.5" y2="1280.4"/>
<line x1="242.5" y1="1350.7" x2="256.5" y2="1350.7"/>
<line x1="242.5" y1="1420.9" x2="256.5" y2="1420.9"/>
<line x1="273.0" y1="192.0" x2="273.0" y2="219.5"/>
<line x1="273.0" y1="1456.0" x2="273.0" y2="1483.5"/>
<line x1="613.8" y1="192.0" x2="613.8" y2="219.5"/>
<line x1="613.8" y1="1456.0" x2="613.8" y2="1483.5"/>
<line x1="954.6" y1="192.0" x2="954.6" y2="219.5"/>
<line x1="954.6" y1="1456.0" x2="954.6" y2="1483.5"/>
<line x1="1295.4" y1="192.0" x2="1295.4" y2="219.5"/>
<line x1="1295.4" y1="1456.0" x2="1295.4" y2="1483.5"/>
<line x1="1636.2" y1="192.0" x2="1636.2" y2="219.5"/>
<line x1="1636.2" y1="1456.0" x2="1636.2" y2="1483.5"/>
<line x1="1977.0" y1="192.0" x2="1977.0" y2="219.5"/>
<line x1="1977.0" y1="1456.0" x2="1977.0" y2="1483.5"/>
<line x1="443.4" y1="192.0" x2="443.4" y2="205"/>
<line x1="443.4" y1="1456.0" x2="443.4" y2="1470"/>
<line x1="784.2" y1="192.0" x2="784.2" y2="205"/>
<line x1="784.2" y1="1456.0" x2="784.2" y2="1470"/>
<line x1="1125.0" y1="192.0" x2="1125.0" y2="205"/>
<line x1="1125.0" y1="1456.0" x2="1125.0" y2="1470"/>
<line x1="1465.8" y1="192.0" x2="1465.8" y2="205"/>
<line x1="1465.8" y1="1456.0" x2="1465.8" y2="1470"/>
<line x1="1806.6" y1="192.0" x2="1806.6" y2="205"/>
<line x1="1806.6" y1="1456.0" x2="1806.6" y2="1470"/>
</g>
<g stroke="#180ea2" stroke-width="4" stroke-linecap="butt">
<line x1="1977.4" y1="190" x2="1977.4" y2="1458"/>
<line x1="1977.0" y1="1456.0" x2="2004" y2="1456.0"/>
<line x1="1977.0" y1="1298.0" x2="2004" y2="1298.0"/>
<line x1="1977.0" y1="1140.0" x2="2004" y2="1140.0"/>
<line x1="1977.0" y1="982.0" x2="2004" y2="982.0"/>
<line x1="1977.0" y1="824.0" x2="2004" y2="824.0"/>
<line x1="1977.0" y1="666.0" x2="2004" y2="666.0"/>
<line x1="1977.0" y1="508.0" x2="2004" y2="508.0"/>
<line x1="1977.0" y1="350.0" x2="2004" y2="350.0"/>
<line x1="1977.0" y1="192.0" x2="2004" y2="192.0"/>
<line x1="1977.0" y1="1377.0" x2="1991.5" y2="1377.0"/>
<line x1="1977.0" y1="1219.0" x2="1991.5" y2="1219.0"/>
<line x1="1977.0" y1="1061.0" x2="1991.5" y2="1061.0"/>
<line x1="1977.0" y1="903.0" x2="1991.5" y2="903.0"/>
<line x1="1977.0" y1="745.0" x2="1991.5" y2="745.0"/>
<line x1="1977.0" y1="587.0" x2="1991.5" y2="587.0"/>
<line x1="1977.0" y1="429.0" x2="1991.5" y2="429.0"/>
<line x1="1977.0" y1="271.0" x2="1991.5" y2="271.0"/>
</g>
<!-- tick labels -->
<g font-size="50" fill="#000">
<text x="212" y="204.5" text-anchor="end">4.5</text>
<text x="212" y="274.7" text-anchor="end">4.0</text>
<text x="212" y="344.9" text-anchor="end">3.5</text>
<text x="212" y="415.2" text-anchor="end">3.0</text>
<text x="212" y="485.4" text-anchor="end">2.5</text>
<text x="212" y="555.6" text-anchor="end">2.0</text>
<text x="212" y="625.8" text-anchor="end">1.5</text>
<text x="212" y="696.1" text-anchor="end">1.0</text>
<text x="212" y="766.3" text-anchor="end">0.5</text>
<text x="212" y="836.5" text-anchor="end">0.0</text>
<text x="212" y="906.7" text-anchor="end">-0.5</text>
<text x="212" y="976.9" text-anchor="end">-1.0</text>
<text x="212" y="1047.2" text-anchor="end">-1.5</text>
<text x="212" y="1117.4" text-anchor="end">-2.0</text>
<text x="212" y="1187.6" text-anchor="end">-2.5</text>
<text x="212" y="1257.8" text-anchor="end">-3.0</text>
<text x="212" y="1328.1" text-anchor="end">-3.5</text>
<text x="212" y="1398.3" text-anchor="end">-4.0</text>
<text x="212" y="1468.5" text-anchor="end">-4.5</text>
<text x="273.0" y="1538" text-anchor="middle">0</text>
<text x="613.8" y="1538" text-anchor="middle">200</text>
<text x="954.6" y="1538" text-anchor="middle">400</text>
<text x="1295.4" y="1538" text-anchor="middle">600</text>
<text x="1636.2" y="1538" text-anchor="middle">800</text>
<text x="1977.0" y="1538" text-anchor="middle">1000</text>
</g>
<g font-size="50" fill="#180ea2">
<text x="2020" y="1468.5">0</text>
<text x="2020" y="1310.5">50</text>
<text x="2020" y="1152.5">100</text>
<text x="2020" y="994.5">150</text>
<text x="2020" y="836.5">200</text>
<text x="2020" y="678.5">250</text>
<text x="2020" y="520.5">300</text>
<text x="2020" y="362.5">350</text>
<text x="2020" y="204.5">400</text>
</g>
<!-- legend -->
<line x1="260" y1="94.6" x2="361" y2="94.6" stroke="#000" stroke-width="2"/>
<line x1="259" y1="150.7" x2="363" y2="150.7" stroke="#0a0ad2" stroke-width="3.6"/>
<!-- words -->
<text x="262.0" y="54.5" font-size="44" letter-spacing="0.69" fill="#000">WC10Co4Cr</text>
<text x="530.0" y="54.5" font-size="44" letter-spacing="0.46" fill="#000">JP5000</text>
<text x="699.7" y="54.5" font-size="44" letter-spacing="2.03" fill="#000">HVOF</text>
<text x="844.6" y="54.5" font-size="44" letter-spacing="3.90" fill="#000">gun</text>
<text x="379.8" y="107.5" font-size="43" letter-spacing="-0.81" fill="#000">Curvature</text>
<text x="584.5" y="107.5" font-size="43" letter-spacing="1.77" fill="#000">(mm)</text>
<text x="380.3" y="164.9" font-size="43" letter-spacing="0.03" fill="#000">Temperature</text>
<text x="646.0" y="164.9" font-size="43" letter-spacing="1.50" fill="#000">(°C)</text>
<text x="926.0" y="1638.2" font-size="54" letter-spacing="0.27" fill="#000">Time</text>
<text x="1071.5" y="1638.2" font-size="54" letter-spacing="0.90" fill="#000">(s)</text>
<text x="1394.5" y="550.4" font-size="54" letter-spacing="1.07" fill="#000">Tensile</text>
<text x="1583.5" y="550.4" font-size="54" letter-spacing="0.64" fill="#000">residual</text>
<text x="1790.4" y="550.4" font-size="54" letter-spacing="0.34" fill="#000">stress</text>
<text x="756.0" y="1169.3" font-size="54.5" letter-spacing="0.01" fill="#000">Compressive</text>
<text x="1090.5" y="1169.3" font-size="54.5" letter-spacing="0.04" fill="#000">stress</text>
<text x="795.2" y="1236.0" font-size="54.5" letter-spacing="0.70" fill="#000">during</text>
<text x="967.1" y="1236.0" font-size="54.5" letter-spacing="0.20" fill="#000">the</text>
<text x="1059.1" y="1236.0" font-size="54.5" letter-spacing="0.27" fill="#000">HVOF</text>
<text x="885.2" y="1293.6" font-size="54.5" letter-spacing="0.03" fill="#000">spraying</text>
<text transform="rotate(-90)" x="-1074.2" y="67.5" font-size="56" letter-spacing="-0.11" fill="#000">Curvature</text>
<text transform="rotate(-90)" x="-817.5" y="67.5" font-size="56" letter-spacing="2.10" fill="#000">(mm</text>
<text transform="rotate(-90)" x="-706.5" y="36.5" font-size="36" letter-spacing="-5.50" fill="#000">−1</text>
<text transform="rotate(-90)" x="-669.7" y="67.5" font-size="56" letter-spacing="0.00" fill="#000">)</text>
<text transform="rotate(-90)" x="-1085.4" y="2184.5" font-size="56" letter-spacing="1.40" fill="#180ea2">Temperature</text>
<text transform="rotate(-90)" x="-746.9" y="2184.5" font-size="56" letter-spacing="0.90" fill="#180ea2">(°C)</text>
</svg>
</body></html>
